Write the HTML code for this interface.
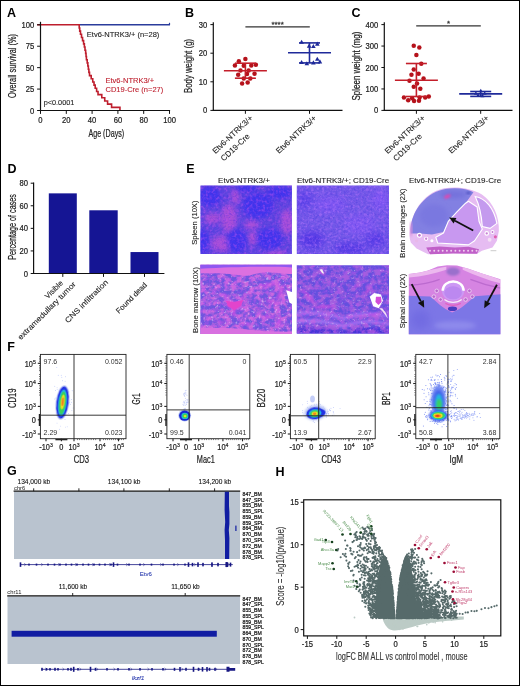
<!DOCTYPE html>
<html><head><meta charset="utf-8"><title>Figure</title>
<style>
html,body{margin:0;padding:0;background:#fff;}
body{width:520px;height:686px;overflow:hidden;position:relative;font-family:"Liberation Sans",sans-serif;}
svg{will-change:transform;position:absolute;left:0;top:0;display:block;font-family:"Liberation Sans",sans-serif;}
#frame{position:absolute;left:0;top:0;width:520px;height:686px;box-sizing:border-box;border-style:solid;border-color:#000;border-width:1px;pointer-events:none;}
</style></head><body>
<svg width="520" height="686" viewBox="0 0 520 686">
<defs>
<filter id="b2" x="-30%" y="-30%" width="160%" height="160%"><feGaussianBlur stdDeviation="2"/></filter>
<filter id="b3" x="-30%" y="-30%" width="160%" height="160%"><feGaussianBlur stdDeviation="3.5"/></filter>
<filter id="b1" x="-30%" y="-30%" width="160%" height="160%"><feGaussianBlur stdDeviation="0.8"/></filter>
<filter id="nzPink" x="0" y="0" width="100%" height="100%" color-interpolation-filters="sRGB"><feTurbulence type="fractalNoise" baseFrequency="0.32" numOctaves="2" seed="4" result="t"/><feColorMatrix in="t" type="matrix" values="0 0 0 0 0.72 0 0 0 0 0.32 0 0 0 0 0.94 3.2 0 0 0 -1.45" result="c"/><feComposite in="c" in2="SourceGraphic" operator="in"/></filter>
<filter id="nzPinkLo" x="0" y="0" width="100%" height="100%" color-interpolation-filters="sRGB"><feTurbulence type="fractalNoise" baseFrequency="0.16 0.2" numOctaves="3" seed="9" result="t"/><feColorMatrix in="t" type="matrix" values="0 0 0 0 0.84 0 0 0 0 0.42 0 0 0 0 0.88 3.6 0 0 0 -1.4" result="c"/><feComposite in="c" in2="SourceGraphic" operator="in"/></filter>
<filter id="nzBlue" x="0" y="0" width="100%" height="100%" color-interpolation-filters="sRGB"><feTurbulence type="fractalNoise" baseFrequency="0.45" numOctaves="2" seed="7" result="t"/><feColorMatrix in="t" type="matrix" values="0 0 0 0 0.24 0 0 0 0 0.16 0 0 0 0 0.86 3.0 0 0 0 -1.4" result="c"/><feComposite in="c" in2="SourceGraphic" operator="in"/></filter>
<filter id="nzWhite" x="0" y="0" width="100%" height="100%" color-interpolation-filters="sRGB"><feTurbulence type="fractalNoise" baseFrequency="0.36" numOctaves="2" seed="11" result="t"/><feColorMatrix in="t" type="matrix" values="0 0 0 0 0.93 0 0 0 0 0.86 0 0 0 0 0.99 4.5 0 0 0 -2.75" result="c"/><feComposite in="c" in2="SourceGraphic" operator="in"/></filter>
<filter id="nzLight" x="0" y="0" width="100%" height="100%" color-interpolation-filters="sRGB"><feTurbulence type="fractalNoise" baseFrequency="0.36" numOctaves="2" seed="15" result="t"/><feColorMatrix in="t" type="matrix" values="0 0 0 0 0.68 0 0 0 0 0.44 0 0 0 0 0.98 3.2 0 0 0 -1.4" result="c"/><feComposite in="c" in2="SourceGraphic" operator="in"/></filter>
<clipPath id="ce1"><rect x="200.5" y="185.4" width="91.4" height="68.5"/></clipPath>
<clipPath id="ce2"><rect x="296.8" y="185.4" width="92.2" height="68.7"/></clipPath>
<clipPath id="ce3"><rect x="200.4" y="264.8" width="91.6" height="69.2"/></clipPath>
<clipPath id="ce4"><rect x="296.8" y="265.2" width="92.2" height="68.2"/></clipPath>
<clipPath id="ce6"><path d="M408.8 274 L420 272.6 L428 270.6 L437.7 266.4 L447 265.3 L457 265.6 L468.5 268.7 L482 273.5 L500.4 279.3 L500.4 334.2 L408.8 334.2 Z"/></clipPath>
<filter id="fb1" x="-30%" y="-30%" width="160%" height="160%"><feGaussianBlur stdDeviation="0.6"/></filter>
<filter id="fb2" x="-30%" y="-30%" width="160%" height="160%"><feGaussianBlur stdDeviation="1.3"/></filter>
<clipPath id="cf0"><rect x="40.4" y="354.4" width="85.6" height="84.3"/></clipPath>
<clipPath id="cf1"><rect x="166.9" y="354.4" width="82.9" height="84.3"/></clipPath>
<clipPath id="cf2"><rect x="290.4" y="354.4" width="84.8" height="84.3"/></clipPath>
<clipPath id="cf3"><rect x="415.8" y="354.4" width="84" height="84.3"/></clipPath>
</defs>
<rect x="0" y="0" width="520" height="686" fill="#fff"/>
<line x1="79.2" y1="24.8" x2="169.5" y2="24.8" stroke="#2b3c9c" stroke-width="1.4" />
<line x1="169.5" y1="22.8" x2="169.5" y2="25.3" stroke="#2b3c9c" stroke-width="1.2" />
<path d="M37.1 24.8 L79.2 24.8 L79.2 27.97 L79.72 27.97 L79.72 31.15 L80.49 31.15 L80.49 34.32 L81.52 34.32 L81.52 37.5 L82.55 37.5 L82.55 40.67 L83.59 40.67 L83.59 43.84 L84.36 43.84 L84.36 47.02 L85 47.02 L85 50.19 L85.65 50.19 L85.65 53.37 L86.04 53.37 L86.04 56.54 L86.42 56.54 L86.42 59.71 L87.2 59.71 L87.2 62.89 L87.84 62.89 L87.84 66.06 L88.36 66.06 L88.36 69.24 L88.88 69.24 L88.88 72.41 L89.52 72.41 L89.52 75.59 L91.2 75.59 L91.2 78.76 L92.75 78.76 L92.75 81.93 L94.03 81.93 L94.03 85.11 L95.2 85.11 L95.2 88.28 L96.62 88.28 L96.62 91.46 L98.03 91.46 L98.03 94.63 L101.78 94.63 L101.78 97.8 L104.74 97.8 L104.74 100.98 L107.58 100.98 L107.58 104.15 L111.58 104.15 L111.58 107.33 L119.96 107.33 L119.96 110.5" fill="none" stroke="#be1e2d" stroke-width="1.6" stroke-linejoin="miter"/>
<line x1="40.5" y1="21.8" x2="40.5" y2="111.1" stroke="#111" stroke-width="1.2" />
<line x1="39.9" y1="110.5" x2="170.1" y2="110.5" stroke="#111" stroke-width="1.2" />
<line x1="37.1" y1="110.5" x2="40.5" y2="110.5" stroke="#111" stroke-width="1" />
<text font-size="8.5" text-anchor="end" fill="#222" transform="translate(34.2 113.55) scale(0.9 1)" stroke="#222" stroke-width="0.22">0</text>
<line x1="37.1" y1="89.08" x2="40.5" y2="89.08" stroke="#111" stroke-width="1" />
<text font-size="8.5" text-anchor="end" fill="#222" transform="translate(34.2 92.12) scale(0.9 1)" stroke="#222" stroke-width="0.22">25</text>
<line x1="37.1" y1="67.65" x2="40.5" y2="67.65" stroke="#111" stroke-width="1" />
<text font-size="8.5" text-anchor="end" fill="#222" transform="translate(34.2 70.7) scale(0.9 1)" stroke="#222" stroke-width="0.22">50</text>
<line x1="37.1" y1="46.22" x2="40.5" y2="46.22" stroke="#111" stroke-width="1" />
<text font-size="8.5" text-anchor="end" fill="#222" transform="translate(34.2 49.27) scale(0.9 1)" stroke="#222" stroke-width="0.22">75</text>
<line x1="37.1" y1="24.8" x2="40.5" y2="24.8" stroke="#111" stroke-width="1" />
<text font-size="8.5" text-anchor="end" fill="#222" transform="translate(34.2 27.85) scale(0.9 1)" stroke="#222" stroke-width="0.22">100</text>
<line x1="40.5" y1="110.5" x2="40.5" y2="113.9" stroke="#111" stroke-width="1" />
<text font-size="8.5" text-anchor="middle" fill="#222" transform="translate(40.5 123.2) scale(0.9 1)" stroke="#222" stroke-width="0.22">0</text>
<line x1="66.3" y1="110.5" x2="66.3" y2="113.9" stroke="#111" stroke-width="1" />
<text font-size="8.5" text-anchor="middle" fill="#222" transform="translate(66.3 123.2) scale(0.9 1)" stroke="#222" stroke-width="0.22">20</text>
<line x1="92.1" y1="110.5" x2="92.1" y2="113.9" stroke="#111" stroke-width="1" />
<text font-size="8.5" text-anchor="middle" fill="#222" transform="translate(92.1 123.2) scale(0.9 1)" stroke="#222" stroke-width="0.22">40</text>
<line x1="117.9" y1="110.5" x2="117.9" y2="113.9" stroke="#111" stroke-width="1" />
<text font-size="8.5" text-anchor="middle" fill="#222" transform="translate(117.9 123.2) scale(0.9 1)" stroke="#222" stroke-width="0.22">60</text>
<line x1="143.7" y1="110.5" x2="143.7" y2="113.9" stroke="#111" stroke-width="1" />
<text font-size="8.5" text-anchor="middle" fill="#222" transform="translate(143.7 123.2) scale(0.9 1)" stroke="#222" stroke-width="0.22">80</text>
<line x1="169.5" y1="110.5" x2="169.5" y2="113.9" stroke="#111" stroke-width="1" />
<text font-size="8.5" text-anchor="middle" fill="#222" transform="translate(169.5 123.2) scale(0.9 1)" stroke="#222" stroke-width="0.22">100</text>
<text font-size="10.4" text-anchor="middle" fill="#222" transform="translate(106.3 136.9) scale(0.69 1)" stroke="#222" stroke-width="0.22">Age (Days)</text>
<text font-size="10.4" text-anchor="middle" fill="#222" transform="translate(15.7 66) rotate(-90) scale(0.71 1)" stroke="#222" stroke-width="0.22">Overall survival (%)</text>
<text x="86.8" y="37.1" font-size="7.5" text-anchor="start" fill="#222" stroke="#222" stroke-width="0.1">Etv6-NTRK3/+ (n=28)</text>
<text x="105.5" y="83.3" font-size="7.5" text-anchor="start" fill="#be1e2d" stroke="#be1e2d" stroke-width="0.1">Etv6-NTRK3/+</text>
<text x="105.5" y="92.1" font-size="7.5" text-anchor="start" fill="#be1e2d" stroke="#be1e2d" stroke-width="0.1">CD19-Cre (n=27)</text>
<text x="43.7" y="105" font-size="7.3" text-anchor="start" fill="#222" stroke="#222" stroke-width="0.1">p&lt;0.0001</text>
<text x="7" y="17.3" font-size="12.5" text-anchor="start" fill="#000" font-weight="bold">A</text>
<circle cx="245.38" cy="58.94" r="2.25" fill="#b5121b" />
<circle cx="238.85" cy="61.23" r="2.25" fill="#b5121b" />
<circle cx="234.92" cy="65.48" r="2.25" fill="#b5121b" />
<circle cx="243.75" cy="65.81" r="2.25" fill="#b5121b" />
<circle cx="251.27" cy="65.48" r="2.25" fill="#b5121b" />
<circle cx="255.85" cy="64.83" r="2.25" fill="#b5121b" />
<circle cx="240.48" cy="70.38" r="2.25" fill="#b5121b" />
<circle cx="248.65" cy="70.38" r="2.25" fill="#b5121b" />
<circle cx="238.19" cy="74.63" r="2.25" fill="#b5121b" />
<circle cx="247.02" cy="73.98" r="2.25" fill="#b5121b" />
<circle cx="254.54" cy="73.65" r="2.25" fill="#b5121b" />
<circle cx="243.75" cy="78.56" r="2.25" fill="#b5121b" />
<circle cx="250.29" cy="78.56" r="2.25" fill="#b5121b" />
<circle cx="242.12" cy="83.46" r="2.25" fill="#b5121b" />
<circle cx="247.67" cy="82.48" r="2.25" fill="#b5121b" />
<path d="M301.62 39.64 L303.92 43.78 L299.32 43.78 Z" fill="#1f2a9a"/>
<path d="M309.13 43.57 L311.43 47.71 L306.83 47.71 Z" fill="#1f2a9a"/>
<path d="M317.31 41.6 L319.61 45.74 L315.01 45.74 Z" fill="#1f2a9a"/>
<path d="M313.38 43.89 L315.68 48.03 L311.08 48.03 Z" fill="#1f2a9a"/>
<path d="M301.62 59.91 L303.92 64.05 L299.32 64.05 Z" fill="#1f2a9a"/>
<path d="M306.85 61.22 L309.15 65.36 L304.55 65.36 Z" fill="#1f2a9a"/>
<path d="M313.38 60.24 L315.68 64.38 L311.08 64.38 Z" fill="#1f2a9a"/>
<path d="M317.31 56.64 L319.61 60.78 L315.01 60.78 Z" fill="#1f2a9a"/>
<path d="M319.92 59.26 L322.22 63.4 L317.62 63.4 Z" fill="#1f2a9a"/>
<line x1="223.9" y1="70.7" x2="266.9" y2="70.7" stroke="#c41e2a" stroke-width="1.6" />
<line x1="245.4" y1="63.2" x2="245.4" y2="78.2" stroke="#c41e2a" stroke-width="1.6" />
<line x1="234.9" y1="63.2" x2="255.9" y2="63.2" stroke="#c41e2a" stroke-width="1.6" />
<line x1="234.9" y1="78.2" x2="255.9" y2="78.2" stroke="#c41e2a" stroke-width="1.6" />
<line x1="288" y1="52.7" x2="331" y2="52.7" stroke="#1f2a9a" stroke-width="1.6" />
<line x1="309.5" y1="42.9" x2="309.5" y2="62.9" stroke="#1f2a9a" stroke-width="1.6" />
<line x1="299" y1="42.9" x2="320" y2="42.9" stroke="#1f2a9a" stroke-width="1.6" />
<line x1="299" y1="62.9" x2="320" y2="62.9" stroke="#1f2a9a" stroke-width="1.6" />
<line x1="245.4" y1="26.9" x2="309.8" y2="26.9" stroke="#333" stroke-width="1.2" />
<text font-size="7.5" text-anchor="middle" fill="#333" transform="translate(277.6 26.6) scale(1.05 1)" stroke="#333" stroke-width="0.25">****</text>
<line x1="213.3" y1="22.3" x2="213.3" y2="111" stroke="#111" stroke-width="1.2" />
<line x1="212.7" y1="110.4" x2="342.5" y2="110.4" stroke="#111" stroke-width="1.2" />
<line x1="210.4" y1="110.4" x2="213.3" y2="110.4" stroke="#111" stroke-width="1" />
<text font-size="8.5" text-anchor="end" fill="#222" transform="translate(207.3 113.45) scale(0.9 1)" stroke="#222" stroke-width="0.22">0</text>
<line x1="210.4" y1="81.8" x2="213.3" y2="81.8" stroke="#111" stroke-width="1" />
<text font-size="8.5" text-anchor="end" fill="#222" transform="translate(207.3 84.85) scale(0.9 1)" stroke="#222" stroke-width="0.22">10</text>
<line x1="210.4" y1="53.2" x2="213.3" y2="53.2" stroke="#111" stroke-width="1" />
<text font-size="8.5" text-anchor="end" fill="#222" transform="translate(207.3 56.25) scale(0.9 1)" stroke="#222" stroke-width="0.22">20</text>
<line x1="210.4" y1="24.6" x2="213.3" y2="24.6" stroke="#111" stroke-width="1" />
<text font-size="8.5" text-anchor="end" fill="#222" transform="translate(207.3 27.65) scale(0.9 1)" stroke="#222" stroke-width="0.22">30</text>
<line x1="245.4" y1="110.4" x2="245.4" y2="113.8" stroke="#111" stroke-width="1" />
<line x1="309.5" y1="110.4" x2="309.5" y2="113.8" stroke="#111" stroke-width="1" />
<text font-size="10.4" text-anchor="middle" fill="#222" transform="translate(192.4 65.9) rotate(-90) scale(0.75 1)" stroke="#222" stroke-width="0.22">Body weight (g)</text>
<text x="253.3" y="118.8" font-size="8" text-anchor="end" fill="#222" stroke="#222" stroke-width="0.1" transform="rotate(-43 253.3 118.8)">Etv6-NTRK3/+</text>
<text x="250.2" y="137" font-size="8" text-anchor="end" fill="#222" stroke="#222" stroke-width="0.1" transform="rotate(-43 250.2 137)">CD19-Cre</text>
<text x="317" y="118.7" font-size="8" text-anchor="end" fill="#222" stroke="#222" stroke-width="0.1" transform="rotate(-43 317 118.7)">Etv6-NTRK3/+</text>
<text x="185" y="16.5" font-size="12.5" text-anchor="start" fill="#000" font-weight="bold">B</text>
<circle cx="413.75" cy="45.87" r="2.25" fill="#b5121b" />
<circle cx="419.31" cy="47.5" r="2.25" fill="#b5121b" />
<circle cx="416.37" cy="55.02" r="2.25" fill="#b5121b" />
<circle cx="421.27" cy="63.85" r="2.25" fill="#b5121b" />
<circle cx="413.75" cy="69.4" r="2.25" fill="#b5121b" />
<circle cx="411.46" cy="74.63" r="2.25" fill="#b5121b" />
<circle cx="418.65" cy="73.65" r="2.25" fill="#b5121b" />
<circle cx="423.56" cy="78.56" r="2.25" fill="#b5121b" />
<circle cx="409.5" cy="80.85" r="2.25" fill="#b5121b" />
<circle cx="417.02" cy="83.46" r="2.25" fill="#b5121b" />
<circle cx="413.75" cy="86.73" r="2.25" fill="#b5121b" />
<circle cx="420.29" cy="88.69" r="2.25" fill="#b5121b" />
<circle cx="403.94" cy="97.52" r="2.25" fill="#b5121b" />
<circle cx="412.12" cy="98.17" r="2.25" fill="#b5121b" />
<circle cx="419.63" cy="97.52" r="2.25" fill="#b5121b" />
<circle cx="425.19" cy="97.52" r="2.25" fill="#b5121b" />
<circle cx="428.79" cy="96.54" r="2.25" fill="#b5121b" />
<circle cx="408.19" cy="100.13" r="2.25" fill="#b5121b" />
<circle cx="414.08" cy="101.12" r="2.25" fill="#b5121b" />
<circle cx="418.98" cy="100.79" r="2.25" fill="#b5121b" />
<path d="M475.87 91.27 L477.87 94.87 L473.87 94.87 Z" fill="#1f2a9a"/>
<path d="M480.77 88.65 L482.77 92.25 L478.77 92.25 Z" fill="#1f2a9a"/>
<path d="M484.69 91.27 L486.69 94.87 L482.69 94.87 Z" fill="#1f2a9a"/>
<path d="M478.15 93.23 L480.15 96.83 L476.15 96.83 Z" fill="#1f2a9a"/>
<path d="M482.4 93.56 L484.4 97.16 L480.4 97.16 Z" fill="#1f2a9a"/>
<line x1="394.9" y1="80.2" x2="437.9" y2="80.2" stroke="#c41e2a" stroke-width="1.6" />
<line x1="416.4" y1="63.5" x2="416.4" y2="96.5" stroke="#c41e2a" stroke-width="1.6" />
<line x1="405.9" y1="63.5" x2="426.9" y2="63.5" stroke="#c41e2a" stroke-width="1.6" />
<line x1="405.9" y1="96.5" x2="426.9" y2="96.5" stroke="#c41e2a" stroke-width="1.6" />
<line x1="459.2" y1="93.9" x2="502.2" y2="93.9" stroke="#1f2a9a" stroke-width="1.6" />
<line x1="480.7" y1="91.5" x2="480.7" y2="96.4" stroke="#1f2a9a" stroke-width="1.6" />
<line x1="470.2" y1="91.5" x2="491.2" y2="91.5" stroke="#1f2a9a" stroke-width="1.6" />
<line x1="470.2" y1="96.4" x2="491.2" y2="96.4" stroke="#1f2a9a" stroke-width="1.6" />
<line x1="416.2" y1="25.8" x2="480.8" y2="25.8" stroke="#333" stroke-width="1.2" />
<text font-size="7.5" text-anchor="middle" fill="#333" transform="translate(448.5 25.8) scale(1.05 1)" stroke="#333" stroke-width="0.25">*</text>
<line x1="384.3" y1="22.3" x2="384.3" y2="111" stroke="#111" stroke-width="1.2" />
<line x1="383.7" y1="110.4" x2="512.5" y2="110.4" stroke="#111" stroke-width="1.2" />
<line x1="381.4" y1="110.4" x2="384.3" y2="110.4" stroke="#111" stroke-width="1" />
<text font-size="8.5" text-anchor="end" fill="#222" transform="translate(378.3 113.45) scale(0.9 1)" stroke="#222" stroke-width="0.22">0</text>
<line x1="381.4" y1="88.95" x2="384.3" y2="88.95" stroke="#111" stroke-width="1" />
<text font-size="8.5" text-anchor="end" fill="#222" transform="translate(378.3 92) scale(0.9 1)" stroke="#222" stroke-width="0.22">100</text>
<line x1="381.4" y1="67.5" x2="384.3" y2="67.5" stroke="#111" stroke-width="1" />
<text font-size="8.5" text-anchor="end" fill="#222" transform="translate(378.3 70.55) scale(0.9 1)" stroke="#222" stroke-width="0.22">200</text>
<line x1="381.4" y1="46.05" x2="384.3" y2="46.05" stroke="#111" stroke-width="1" />
<text font-size="8.5" text-anchor="end" fill="#222" transform="translate(378.3 49.1) scale(0.9 1)" stroke="#222" stroke-width="0.22">300</text>
<line x1="381.4" y1="24.6" x2="384.3" y2="24.6" stroke="#111" stroke-width="1" />
<text font-size="8.5" text-anchor="end" fill="#222" transform="translate(378.3 27.65) scale(0.9 1)" stroke="#222" stroke-width="0.22">400</text>
<line x1="416.4" y1="110.4" x2="416.4" y2="113.8" stroke="#111" stroke-width="1" />
<line x1="480.7" y1="110.4" x2="480.7" y2="113.8" stroke="#111" stroke-width="1" />
<text font-size="10.4" text-anchor="middle" fill="#222" transform="translate(359.7 66.1) rotate(-90) scale(0.77 1)" stroke="#222" stroke-width="0.22">Spleen weight (mg)</text>
<text x="425.6" y="118.8" font-size="8" text-anchor="end" fill="#222" stroke="#222" stroke-width="0.1" transform="rotate(-43 425.6 118.8)">Etv6-NTRK3/+</text>
<text x="422.5" y="137" font-size="8" text-anchor="end" fill="#222" stroke="#222" stroke-width="0.1" transform="rotate(-43 422.5 137)">CD19-Cre</text>
<text x="489.5" y="118.7" font-size="8" text-anchor="end" fill="#222" stroke="#222" stroke-width="0.1" transform="rotate(-43 489.5 118.7)">Etv6-NTRK3/+</text>
<text x="351.5" y="17.3" font-size="12.5" text-anchor="start" fill="#000" font-weight="bold">C</text>
<rect x="48.8" y="193.36" width="28" height="80.14" fill="#151594" />
<rect x="89.3" y="210.29" width="28.4" height="63.21" fill="#151594" />
<rect x="130.5" y="252.05" width="28" height="21.45" fill="#151594" />
<line x1="33.6" y1="182.6" x2="33.6" y2="274.1" stroke="#111" stroke-width="1.2" />
<line x1="33" y1="273.5" x2="164.4" y2="273.5" stroke="#111" stroke-width="1.2" />
<line x1="30.7" y1="273.5" x2="33.6" y2="273.5" stroke="#111" stroke-width="1" />
<text font-size="8.5" text-anchor="end" fill="#222" transform="translate(28 276.55) scale(0.9 1)" stroke="#222" stroke-width="0.22">0</text>
<line x1="30.7" y1="250.93" x2="33.6" y2="250.93" stroke="#111" stroke-width="1" />
<text font-size="8.5" text-anchor="end" fill="#222" transform="translate(28 253.98) scale(0.9 1)" stroke="#222" stroke-width="0.22">20</text>
<line x1="30.7" y1="228.35" x2="33.6" y2="228.35" stroke="#111" stroke-width="1" />
<text font-size="8.5" text-anchor="end" fill="#222" transform="translate(28 231.4) scale(0.9 1)" stroke="#222" stroke-width="0.22">40</text>
<line x1="30.7" y1="205.77" x2="33.6" y2="205.77" stroke="#111" stroke-width="1" />
<text font-size="8.5" text-anchor="end" fill="#222" transform="translate(28 208.82) scale(0.9 1)" stroke="#222" stroke-width="0.22">60</text>
<line x1="30.7" y1="183.2" x2="33.6" y2="183.2" stroke="#111" stroke-width="1" />
<text font-size="8.5" text-anchor="end" fill="#222" transform="translate(28 186.25) scale(0.9 1)" stroke="#222" stroke-width="0.22">80</text>
<line x1="62.8" y1="273.5" x2="62.8" y2="276.9" stroke="#111" stroke-width="1" />
<line x1="103.5" y1="273.5" x2="103.5" y2="276.9" stroke="#111" stroke-width="1" />
<line x1="144.5" y1="273.5" x2="144.5" y2="276.9" stroke="#111" stroke-width="1" />
<text font-size="10.6" text-anchor="middle" fill="#222" transform="translate(15.7 226.9) rotate(-90) scale(0.68 1)" stroke="#222" stroke-width="0.22">Percentage of cases</text>
<text x="63.5" y="283.5" font-size="7.6" text-anchor="end" fill="#222" stroke="#222" stroke-width="0.1" transform="rotate(-45 63.5 283.5)">Visible</text>
<text x="76.3" y="284.8" font-size="7.6" text-anchor="end" fill="#222" stroke="#222" stroke-width="0.1" transform="rotate(-45 76.3 284.8)" textLength="78.5" lengthAdjust="spacingAndGlyphs">extramedullary tumor</text>
<text x="108.6" y="282.8" font-size="7.6" text-anchor="end" fill="#222" stroke="#222" stroke-width="0.1" transform="rotate(-45 108.6 282.8)" textLength="57.5" lengthAdjust="spacingAndGlyphs">CNS infiltration</text>
<text x="147.6" y="285.4" font-size="7.6" text-anchor="end" fill="#222" stroke="#222" stroke-width="0.1" transform="rotate(-45 147.6 285.4)">Found dead</text>
<text x="7.5" y="172.5" font-size="12.5" text-anchor="start" fill="#000" font-weight="bold">D</text>
<g clip-path="url(#ce1)">
<rect x="200" y="185" width="93" height="70" fill="#6046e0" />
<ellipse cx="228.92" cy="218.35" rx="8.13" ry="14.46" fill="#a850d8" filter="url(#b2)"/>
<ellipse cx="221.69" cy="243.65" rx="10.85" ry="8.13" fill="#a850d8" filter="url(#b2)"/>
<ellipse cx="212.65" cy="218.35" rx="8.13" ry="5.42" fill="#a850d8" filter="url(#b2)"/>
<ellipse cx="251.52" cy="224.67" rx="7.23" ry="4.52" fill="#a850d8" filter="url(#b2)"/>
<ellipse cx="286.77" cy="221.96" rx="6.33" ry="12.65" fill="#a850d8" filter="url(#b2)"/>
<ellipse cx="235.25" cy="196.65" rx="3.98" ry="8.13" fill="#a850d8" filter="url(#b2)"/>
<ellipse cx="275.92" cy="253.6" rx="10.85" ry="3.25" fill="#a850d8" filter="url(#b2)"/>
<ellipse cx="252.42" cy="238.23" rx="4.52" ry="7.23" fill="#a850d8" filter="url(#b2)"/>
<ellipse cx="209.94" cy="196.65" rx="10.85" ry="9.94" fill="#4234ee" filter="url(#b2)"/>
<ellipse cx="257.85" cy="205.69" rx="15.37" ry="12.65" fill="#4234ee" filter="url(#b2)"/>
<ellipse cx="237.06" cy="240.94" rx="9.94" ry="11.75" fill="#4234ee" filter="url(#b2)"/>
<ellipse cx="269.6" cy="239.13" rx="12.65" ry="10.85" fill="#4234ee" filter="url(#b2)"/>
<ellipse cx="202.71" cy="241.85" rx="6.33" ry="11.75" fill="#4234ee" filter="url(#b2)"/>
<ellipse cx="279.54" cy="193.04" rx="12.65" ry="6.33" fill="#4234ee" filter="url(#b2)"/>
<ellipse cx="247" cy="188.52" rx="10.85" ry="3.98" fill="#4234ee" filter="url(#b2)"/>
<rect x="200" y="185" width="93" height="70" fill="#fff" filter="url(#nzPink)" opacity="0.5"/>
<rect x="200" y="185" width="93" height="70" fill="#fff" filter="url(#nzBlue)" opacity="0.35"/>
</g>
<g clip-path="url(#ce2)">
<rect x="296" y="185" width="94" height="70" fill="#7258e8" />
<ellipse cx="312" cy="240" rx="12" ry="9" fill="#5438e6" filter="url(#b3)"/>
<ellipse cx="350" cy="248" rx="16" ry="6" fill="#563ae6" filter="url(#b3)"/>
<ellipse cx="380" cy="200" rx="8" ry="10" fill="#8258f4" filter="url(#b3)"/>
<ellipse cx="330" cy="205" rx="16" ry="8" fill="#7e56f2" filter="url(#b3)"/>
<ellipse cx="360" cy="225" rx="16" ry="10" fill="#8058f2" filter="url(#b3)"/>
<ellipse cx="305" cy="200" rx="8" ry="10" fill="#6044ea" filter="url(#b3)"/>
<ellipse cx="375" cy="240" rx="10" ry="8" fill="#5a3ee8" filter="url(#b3)"/>
<rect x="296" y="185" width="94" height="70" fill="#fff" filter="url(#nzLight)" opacity="0.55"/>
<rect x="296" y="185" width="94" height="70" fill="#fff" filter="url(#nzBlue)" opacity="0.3"/>
</g>
<g clip-path="url(#ce3)">
<rect x="200" y="264" width="93" height="71" fill="#6e56de" />
<ellipse cx="234.75" cy="305.35" rx="7.54" ry="4.15" fill="#c050e4" filter="url(#b1)"/>
<ellipse cx="233.81" cy="311.94" rx="1.88" ry="4.71" fill="#c050e4" filter="url(#b1)" transform="rotate(10 233.81 311.94)"/>
<ellipse cx="226.27" cy="297.81" rx="1.51" ry="5.65" fill="#c050e4" filter="url(#b1)" transform="rotate(-30 226.27 297.81)"/>
<ellipse cx="242.29" cy="298.75" rx="1.51" ry="4.71" fill="#c050e4" filter="url(#b1)" transform="rotate(35 242.29 298.75)"/>
<ellipse cx="269.62" cy="284.62" rx="11.31" ry="1.88" fill="#c050e4" filter="url(#b1)" transform="rotate(-8 269.62 284.62)"/>
<ellipse cx="280.92" cy="292.15" rx="2.26" ry="8.48" fill="#c050e4" filter="url(#b1)" transform="rotate(20 280.92 292.15)"/>
<ellipse cx="273.38" cy="302.52" rx="8.48" ry="1.7" fill="#c050e4" filter="url(#b1)" transform="rotate(15 273.38 302.52)"/>
<ellipse cx="267.73" cy="316.65" rx="8.48" ry="1.7" fill="#c050e4" filter="url(#b1)" transform="rotate(-10 267.73 316.65)"/>
<ellipse cx="279.04" cy="322.31" rx="2.26" ry="6.6" fill="#c050e4" filter="url(#b1)" transform="rotate(15 279.04 322.31)"/>
<ellipse cx="214.96" cy="290.27" rx="1.13" ry="4.71" fill="#c050e4" filter="url(#b1)" transform="rotate(25 214.96 290.27)"/>
<ellipse cx="209.31" cy="318.54" rx="4.71" ry="1.32" fill="#c050e4" filter="url(#b1)" transform="rotate(-20 209.31 318.54)"/>
<ellipse cx="250.77" cy="292.15" rx="1.13" ry="4.15" fill="#c050e4" filter="url(#b1)"/>
<ellipse cx="258.31" cy="309.12" rx="4.15" ry="1.13" fill="#c050e4" filter="url(#b1)" transform="rotate(30 258.31 309.12)"/>
<ellipse cx="220.62" cy="322.31" rx="5.65" ry="1.13" fill="#c050e4" filter="url(#b1)" transform="rotate(5 220.62 322.31)"/>
<ellipse cx="245.12" cy="324.19" rx="6.6" ry="1.13" fill="#c050e4" filter="url(#b1)"/>
<rect x="200" y="264" width="93" height="71" fill="#fff" filter="url(#nzPinkLo)" opacity="0.9"/>
<rect x="200" y="264" width="93" height="71" fill="#fff" filter="url(#nzPink)" opacity="0.55"/>
<rect x="200" y="264" width="93" height="71" fill="#fff" filter="url(#nzWhite)" opacity="0.5"/>
<path d="M198 262 L296 262 L296 273.68 C284.69 275.19 273.38 271.42 262.08 272.55 C254.54 273.31 248.88 276.7 242.29 275.57 C231.92 273.68 216.85 272.37 198 273.68 Z" fill="#dc70e0"/>
<path d="M198 264.64 L296 264.64 L296 267.65 C273.38 266.15 245.12 266.52 198 268.78 Z" fill="#9058f0"/>
<path d="M198 337.38 L296 337.38 L296 332.11 C280.92 330.98 269.62 332.11 254.54 330.22 C239.46 327.96 220.62 327.21 198 327.96 Z" fill="#d870e0"/>
<path d="M225.89 300.63 L233.81 301.95 L243.23 300.07 L240.97 305.72 L236.63 308.74 L234.18 310.62 L231.55 308.36 L227.78 306.29 Z" fill="#e244cc"/>
<path d="M286.2 290.27 L296 293.1 L296 306.29 L289.4 302.52 Z" fill="#fff"/>
</g>
<g clip-path="url(#ce4)">
<rect x="296" y="265" width="94" height="69" fill="#6450de" />
<path d="M295.88 311.38 C310.96 310.06 327.92 311.38 343.38 316.65 C356.19 311.38 373.15 310.62 390.12 315.71 L390.12 318.54 C373.15 314.39 356.19 315.15 343.38 320.42 C327.92 315.15 310.96 313.83 295.88 315.71 Z" fill="#9a6cf0" filter="url(#b1)"/>
<path d="M295.88 319.48 C310.96 318.16 327.92 319.48 343.38 324.57 C356.19 319.48 373.15 318.54 390.12 323.25 L390.12 325.7 C373.15 321.93 356.19 322.68 343.38 327.96 C327.92 322.68 310.96 321.37 295.88 323.25 Z" fill="#a074f2" filter="url(#b1)"/>
<path d="M295.88 327.96 C310.96 326.08 327.92 327.02 343.38 331.35 C356.19 327.02 373.15 326.45 390.12 329.85 L390.12 337.38 L295.88 337.38 Z" fill="#4634d8" filter="url(#b1)"/>
<ellipse cx="309.08" cy="296.87" rx="9.42" ry="1.7" fill="#c44ee0" filter="url(#b1)" transform="rotate(52 309.08 296.87)"/>
<ellipse cx="325.1" cy="306.85" rx="10.37" ry="1.7" fill="#c44ee0" filter="url(#b1)" transform="rotate(-3 325.1 306.85)"/>
<ellipse cx="301.54" cy="290.27" rx="2.26" ry="1.13" fill="#c44ee0" filter="url(#b1)" transform="rotate(40 301.54 290.27)"/>
<ellipse cx="368.44" cy="290.27" rx="4.71" ry="1.32" fill="#c44ee0" filter="url(#b1)" transform="rotate(-45 368.44 290.27)"/>
<ellipse cx="356.19" cy="286.5" rx="3.77" ry="0.94" fill="#c44ee0" filter="url(#b1)" transform="rotate(-30 356.19 286.5)"/>
<ellipse cx="322.27" cy="273.31" rx="3.77" ry="0.94" fill="#c44ee0" filter="url(#b1)" transform="rotate(40 322.27 273.31)"/>
<ellipse cx="373.15" cy="314.77" rx="5.65" ry="1.13" fill="#c44ee0" filter="url(#b1)" transform="rotate(10 373.15 314.77)"/>
<rect x="296" y="265" width="94" height="69" fill="#fff" filter="url(#nzPinkLo)" opacity="0.55"/>
<rect x="296" y="265" width="94" height="69" fill="#fff" filter="url(#nzPink)" opacity="0.45"/>
<rect x="296" y="265" width="94" height="69" fill="#fff" filter="url(#nzWhite)" opacity="0.4"/>
<path d="M369.76 296.87 L374.1 293.1 L381.07 294.42 L382.95 300.63 L378.81 308.17 L373.15 306.29 Z" fill="#fff"/>
<path d="M375.98 296.87 L381.07 296.87 L381.63 301.95 L378.43 304.97 L375.42 301.95 Z" fill="#d24cd8"/>
<path d="M379.18 308.17 L382.58 311.38 L387.85 318.54 L385.97 312.88 L382.2 308.17 Z" fill="#f0daf4"/>
<path d="M319.44 269.54 L322.27 269.16 L324.15 273.68 L322.27 273.31 Z" fill="#f4eaf8"/>
</g>
<path d="M409.81 238.77 C408.85 221.46 416.54 200.31 435.77 191.08 C449.23 185.31 468.46 186.85 481.92 194.54 C493.46 202.23 499.62 217.62 498.85 231.08 L496.92 240.69 L492.5 247.42 L481.92 250.69 L477.12 253.77 L453.08 253.19 L428.08 254.15 L416.54 248.38 L410.77 242.62 Z" fill="#e6bcf2"/>
<path d="M410.77 233.38 C409.62 219.54 417.31 201.08 436.15 191.85 C449.23 186.27 465 187.62 473.46 192.23 L466.15 202.23 L456.92 211.85 L448.27 221.46 L443.46 232.04 L431.92 234.54 L420.38 233.38 Z" fill="#8280e2"/>
<ellipse cx="433.85" cy="215.69" rx="14.42" ry="11.54" fill="#7a78e0" filter="url(#b2)"/>
<ellipse cx="453.08" cy="194.54" rx="13.46" ry="3.85" fill="#7472dc" filter="url(#b2)"/>
<rect x="405" y="183" width="70" height="55" fill="#fff" filter="url(#nzLight)" opacity="0.0"/>
<path d="M468.46 201.27 L477.12 207.04 L479.04 221.46 L482.31 229.15 L474.62 240.69 L468.46 244.92 L437.69 243 L435.77 237.23 L443.46 233 L448.27 221.46 L456.92 211.85 L465.58 203.19 Z" fill="#c898f0" stroke="#fff" stroke-width="1.1" stroke-linejoin="round"/>
<path d="M475.19 196.46 C485.77 198.38 493.85 208 496.92 223.38 L490 228.38 L482.31 226.46 C481.54 215.69 480 206.08 475.19 196.46 Z" fill="#c49aee" stroke="#fff" stroke-width="1.1"/>
<circle cx="419.42" cy="235.31" r="2.5" fill="#fff"/>
<circle cx="419.42" cy="235.31" r="1.35" fill="#c078d0"/>
<circle cx="426.15" cy="238.77" r="2.12" fill="#fff"/>
<circle cx="426.15" cy="238.77" r="1.15" fill="#c880d4"/>
<circle cx="431.92" cy="240.69" r="1.54" fill="#fff"/>
<circle cx="416.54" cy="240.69" r="1.54" fill="#e8b8e8"/>
<circle cx="486.73" cy="233.38" r="2.31" fill="#fff"/>
<circle cx="486.73" cy="233.38" r="1.15" fill="#c880d4"/>
<circle cx="492.5" cy="232.04" r="1.92" fill="#fff"/>
<circle cx="492.5" cy="232.04" r="0.96" fill="#c078d0"/>
<circle cx="489.62" cy="239.73" r="1.92" fill="#f4e0f4"/>
<circle cx="495.38" cy="236.85" r="1.54" fill="#e060b0"/>
<path d="M426.15 247.42 L439.62 246.46 L455 247.42 L468.46 246.85 L479.04 249.35 L477.12 253.77 L453.08 253.38 L430 254.15 Z" fill="#c060c8" />
<circle cx="430" cy="250.69" r="0.96" fill="#f0d0f0"/>
<circle cx="434.23" cy="250.69" r="0.96" fill="#f0d0f0"/>
<circle cx="438.46" cy="250.69" r="0.96" fill="#f0d0f0"/>
<circle cx="442.69" cy="250.69" r="0.96" fill="#f0d0f0"/>
<circle cx="446.92" cy="250.69" r="0.96" fill="#f0d0f0"/>
<circle cx="451.15" cy="250.69" r="0.96" fill="#f0d0f0"/>
<circle cx="455.38" cy="250.69" r="0.96" fill="#f0d0f0"/>
<circle cx="459.62" cy="250.69" r="0.96" fill="#f0d0f0"/>
<circle cx="463.85" cy="250.69" r="0.96" fill="#f0d0f0"/>
<circle cx="468.08" cy="250.69" r="0.96" fill="#f0d0f0"/>
<circle cx="472.31" cy="250.69" r="0.96" fill="#f0d0f0"/>
<circle cx="476.54" cy="250.69" r="0.96" fill="#f0d0f0"/>
<ellipse cx="447.31" cy="196.46" rx="3.46" ry="1.73" fill="#e048b0" filter="url(#b1)" transform="rotate(-25 447.31 196.46)"/>
<ellipse cx="468.46" cy="193" rx="2.31" ry="1.15" fill="#4a50c0" filter="url(#b1)"/>
<ellipse cx="411.15" cy="229.15" rx="1.15" ry="7.69" fill="#d890dc" filter="url(#b1)"/>
<line x1="490.58" y1="250.69" x2="496.35" y2="250.69" stroke="#999" stroke-width="0.5" />
<line x1="473.2" y1="230.5" x2="455.01" y2="220.72" stroke="#111" stroke-width="1.8" /><path d="M449.2 217.6 L456.45 218.05 L453.58 223.4 Z" fill="#111"/>
<g clip-path="url(#ce6)">
<rect x="408" y="264" width="94" height="72" fill="#d684e2" />
<path d="M408.85 277.38 C422.31 276.42 433.85 273.54 446.35 269.69 L446.35 266.81 C433.85 268.73 422.31 272.58 408.85 273.92 Z" fill="#ecb8ee"/>
<path d="M500.19 283.15 C487.69 280.27 476.15 275.46 462.69 269.69 L462.69 266.81 C476.15 270.65 487.69 275.46 500.19 279.69 Z" fill="#ecb8ee"/>
<path d="M408.85 285.08 C420.38 284.69 430 283.15 439.62 279.31" stroke="#b060c8" stroke-width="1.4" fill="none" opacity="0.7"/>
<path d="M500.19 287.96 C489.62 286.04 480 283.15 470.38 279.31" stroke="#b060c8" stroke-width="1.4" fill="none" opacity="0.7"/>
<ellipse cx="453.08" cy="271.62" rx="6.73" ry="4.23" fill="#9a70cc" filter="url(#b1)"/>
<path d="M407.88 295.85 L430 296.62 C436.73 301.42 442.5 309.12 452.12 312.38 C461.73 309.12 468.46 301.42 475.19 296.23 L501.15 294.31 L501.15 335.08 L407.88 335.08 Z" fill="#7c76e6"/>
<ellipse cx="455" cy="325.46" rx="21.15" ry="4.23" fill="#8e8aec" filter="url(#b2)"/>
<ellipse cx="420.38" cy="319.69" rx="9.62" ry="9.62" fill="#726ce2" filter="url(#b3)"/>
<ellipse cx="453.08" cy="290.85" rx="11.15" ry="10" fill="#cc98f4"/>
<path d="M442.69 290.85 C442.69 278.35 463.65 278.35 463.65 290.85" stroke="#fff" stroke-width="2.4" fill="none"/>
<ellipse cx="453.08" cy="292.77" rx="8.85" ry="6.54" fill="#bc88f0"/>
<path d="M444.42 299.5 C449.23 303.35 456.92 303.35 461.73 299.5" stroke="#f4e8f8" stroke-width="1.3" fill="none"/>
<path d="M445.38 303.35 C450.19 305.85 455.96 305.85 460.77 303.35" stroke="#e060c0" stroke-width="1.2" fill="none"/>
<ellipse cx="452.5" cy="308.73" rx="4.62" ry="2.31" fill="#4a3cc0"/>
<circle cx="436.73" cy="290.85" r="1.8" fill="#b868cc" stroke="#f4e4f6" stroke-width="0.7"/>
<circle cx="469.42" cy="290.85" r="1.8" fill="#b868cc" stroke="#f4e4f6" stroke-width="0.7"/>
<circle cx="440.58" cy="299.5" r="1.8" fill="#b868cc" stroke="#f4e4f6" stroke-width="0.7"/>
<circle cx="465.58" cy="299.5" r="1.8" fill="#b868cc" stroke="#f4e4f6" stroke-width="0.7"/>
<circle cx="433.85" cy="296.62" r="1.8" fill="#b868cc" stroke="#f4e4f6" stroke-width="0.7"/>
<circle cx="472.31" cy="296.62" r="1.8" fill="#b868cc" stroke="#f4e4f6" stroke-width="0.7"/>
</g>
<line x1="411.7" y1="284.1" x2="420.84" y2="301.43" stroke="#111" stroke-width="1.8" /><path d="M424.2 307.8 L417.91 302.98 L423.77 299.89 Z" fill="#111"/>
<line x1="496.9" y1="284.7" x2="487.62" y2="301.87" stroke="#111" stroke-width="1.8" /><path d="M484.2 308.2 L484.71 300.29 L490.54 303.44 Z" fill="#111"/>
<text x="244" y="182.7" font-size="8" text-anchor="middle" fill="#222" stroke="#222" stroke-width="0.1">Etv6-NTRK3/+</text>
<text x="343" y="182.7" font-size="8" text-anchor="middle" fill="#222" stroke="#222" stroke-width="0.1">Etv6-NTRK3/+; CD19-Cre</text>
<text x="455" y="182.7" font-size="8" text-anchor="middle" fill="#222" stroke="#222" stroke-width="0.1">Etv6-NTRK3/+; CD19-Cre</text>
<text x="197.5" y="222.7" font-size="7.6" text-anchor="middle" fill="#222" stroke="#222" stroke-width="0.1" transform="rotate(-90 197.5 222.7)">Spleen (10X)</text>
<text x="197.5" y="300" font-size="7.6" text-anchor="middle" fill="#222" stroke="#222" stroke-width="0.1" transform="rotate(-90 197.5 300)">Bone marrow (10X)</text>
<text x="405" y="223" font-size="7.6" text-anchor="middle" fill="#222" stroke="#222" stroke-width="0.1" transform="rotate(-90 405 223)">Brain meninges (2X)</text>
<text x="404.5" y="301" font-size="7.6" text-anchor="middle" fill="#222" stroke="#222" stroke-width="0.1" transform="rotate(-90 404.5 301)">Spinal cord (2X)</text>
<text x="186.3" y="173" font-size="12.5" text-anchor="start" fill="#000" font-weight="bold">E</text>
<g clip-path="url(#cf0)"><g fill="#7088f0" opacity="0.6"><circle cx="57.2" cy="389.37" r="0.45"/><circle cx="65.51" cy="376.77" r="0.45"/><circle cx="61.85" cy="377.18" r="0.45"/><circle cx="67.45" cy="404.23" r="0.45"/><circle cx="68.6" cy="396.45" r="0.45"/><circle cx="64.29" cy="398.86" r="0.45"/><circle cx="59.18" cy="403.6" r="0.45"/><circle cx="56.84" cy="398.1" r="0.45"/><circle cx="65.63" cy="402.63" r="0.45"/><circle cx="60.65" cy="426.08" r="0.45"/><circle cx="62.76" cy="395.54" r="0.45"/><circle cx="63.22" cy="396.25" r="0.45"/><circle cx="60.77" cy="398.15" r="0.45"/><circle cx="71.61" cy="402.25" r="0.45"/><circle cx="63.29" cy="409.42" r="0.45"/><circle cx="71.58" cy="399.54" r="0.45"/><circle cx="59.69" cy="429.22" r="0.45"/><circle cx="55.93" cy="397.96" r="0.45"/><circle cx="65.5" cy="427.12" r="0.45"/><circle cx="58.23" cy="375.29" r="0.45"/><circle cx="65.48" cy="396.26" r="0.45"/><circle cx="60.76" cy="407.07" r="0.45"/><circle cx="63.51" cy="405.2" r="0.45"/><circle cx="60.56" cy="416.18" r="0.45"/><circle cx="69.27" cy="402.35" r="0.45"/><circle cx="60.47" cy="410.07" r="0.45"/><circle cx="64.65" cy="390.56" r="0.45"/><circle cx="60.43" cy="413.54" r="0.45"/><circle cx="62.07" cy="398.38" r="0.45"/><circle cx="63.46" cy="401.63" r="0.45"/><circle cx="62.49" cy="380.76" r="0.45"/><circle cx="70.37" cy="404.19" r="0.45"/><circle cx="58.56" cy="412.77" r="0.45"/><circle cx="63.89" cy="402.19" r="0.45"/><circle cx="67.22" cy="426.87" r="0.45"/><circle cx="64.99" cy="419.44" r="0.45"/><circle cx="72.21" cy="390.77" r="0.45"/><circle cx="60.15" cy="410.54" r="0.45"/><circle cx="54.81" cy="399.06" r="0.45"/><circle cx="68.32" cy="413.48" r="0.45"/><circle cx="65.11" cy="381.15" r="0.45"/><circle cx="73.08" cy="408.06" r="0.45"/><circle cx="65.95" cy="407.44" r="0.45"/><circle cx="54.78" cy="386.22" r="0.45"/><circle cx="57.03" cy="423.1" r="0.45"/><circle cx="58.76" cy="399.34" r="0.45"/><circle cx="61.35" cy="408.28" r="0.45"/><circle cx="64.75" cy="404.95" r="0.45"/><circle cx="56.82" cy="367.47" r="0.45"/><circle cx="63.25" cy="404.95" r="0.45"/><circle cx="68.04" cy="400.87" r="0.45"/><circle cx="59.75" cy="406.51" r="0.45"/><circle cx="55.51" cy="390.54" r="0.45"/><circle cx="57.97" cy="405.17" r="0.45"/><circle cx="71.91" cy="410.4" r="0.45"/><circle cx="67.64" cy="404.62" r="0.45"/><circle cx="63.76" cy="397.06" r="0.45"/><circle cx="61.23" cy="375.27" r="0.45"/><circle cx="57.09" cy="387.84" r="0.45"/><circle cx="66.27" cy="409.29" r="0.45"/></g><g transform="rotate(7 62.5 402.5)"><ellipse cx="62.5" cy="402.5" rx="6.9" ry="17.2" fill="#b8c4f4" filter="url(#fb1)"/><ellipse cx="62.5" cy="402.5" rx="5.9" ry="16" fill="#2030e4" filter="url(#fb1)"/><ellipse cx="62.5" cy="402.8" rx="4.2" ry="13.4" fill="#20b8e0" filter="url(#fb1)"/><ellipse cx="62.5" cy="403" rx="3.3" ry="11.4" fill="#38d060" filter="url(#fb1)"/><ellipse cx="62.6" cy="402" rx="2" ry="7.5" fill="#e8e020" filter="url(#fb1)"/><ellipse cx="62.6" cy="401.7" rx="1.1" ry="4.2" fill="#f08020" filter="url(#fb1)"/></g></g>
<rect x="40.4" y="354.4" width="85.6" height="84.3" fill="none" stroke="#222" stroke-width="0.9" />
<line x1="74" y1="354.4" x2="74" y2="438.7" stroke="#222" stroke-width="0.9" />
<line x1="40.4" y1="415.2" x2="126" y2="415.2" stroke="#222" stroke-width="0.9" />
<text font-size="8.2" text-anchor="end" fill="#222" stroke="#222" stroke-width="0.2" transform="translate(35.8 367) scale(0.9 1)">10<tspan dy="-3.2" font-size="5.74">5</tspan></text>
<text font-size="8.2" text-anchor="end" fill="#222" stroke="#222" stroke-width="0.2" transform="translate(35.8 387.2) scale(0.9 1)">10<tspan dy="-3.2" font-size="5.74">4</tspan></text>
<text font-size="8.2" text-anchor="end" fill="#222" stroke="#222" stroke-width="0.2" transform="translate(35.8 410.1) scale(0.9 1)">10<tspan dy="-3.2" font-size="5.74">3</tspan></text>
<text font-size="8.2" text-anchor="end" fill="#222" transform="translate(35.8 423.3) scale(0.9 1)" stroke="#222" stroke-width="0.22">0</text>
<text font-size="8.2" text-anchor="end" fill="#222" stroke="#222" stroke-width="0.2" transform="translate(35.8 437.6) scale(0.9 1)">-10<tspan dy="-3.2" font-size="5.74">3</tspan></text>
<line x1="37.8" y1="363.3" x2="40.4" y2="363.3" stroke="#222" stroke-width="1.1" />
<line x1="37.8" y1="383.5" x2="40.4" y2="383.5" stroke="#222" stroke-width="1.1" />
<line x1="37.8" y1="406.4" x2="40.4" y2="406.4" stroke="#222" stroke-width="1.1" />
<line x1="37.8" y1="419.8" x2="40.4" y2="419.8" stroke="#222" stroke-width="1.1" />
<line x1="37.8" y1="434" x2="40.4" y2="434" stroke="#222" stroke-width="1.1" />
<line x1="39.5" y1="414" x2="39.5" y2="426" stroke="#222" stroke-width="1.4" />
<line x1="39.5" y1="356" x2="39.5" y2="372" stroke="#222" stroke-width="0.9" stroke-dasharray="0.7 1.1"/>
<line x1="39.5" y1="374" x2="39.5" y2="396" stroke="#222" stroke-width="0.9" stroke-dasharray="0.7 1.6"/>
<text font-size="8.2" text-anchor="middle" fill="#222" stroke="#222" stroke-width="0.2" transform="translate(46 449.7) scale(0.9 1)">-10<tspan dy="-3.2" font-size="5.74">3</tspan></text>
<text font-size="8.2" text-anchor="middle" fill="#222" transform="translate(61.4 449.7) scale(0.9 1)" stroke="#222" stroke-width="0.22">0</text>
<text font-size="8.2" text-anchor="middle" fill="#222" stroke="#222" stroke-width="0.2" transform="translate(74 449.7) scale(0.9 1)">10<tspan dy="-3.2" font-size="5.74">3</tspan></text>
<text font-size="8.2" text-anchor="middle" fill="#222" stroke="#222" stroke-width="0.2" transform="translate(100 449.7) scale(0.9 1)">10<tspan dy="-3.2" font-size="5.74">4</tspan></text>
<text font-size="8.2" text-anchor="middle" fill="#222" stroke="#222" stroke-width="0.2" transform="translate(118.5 449.7) scale(0.9 1)">10<tspan dy="-3.2" font-size="5.74">5</tspan></text>
<line x1="46" y1="438.7" x2="46" y2="441.3" stroke="#222" stroke-width="1.1" />
<line x1="61.4" y1="438.7" x2="61.4" y2="441.3" stroke="#222" stroke-width="1.1" />
<line x1="74" y1="438.7" x2="74" y2="441.3" stroke="#222" stroke-width="1.1" />
<line x1="100" y1="438.7" x2="100" y2="441.3" stroke="#222" stroke-width="1.1" />
<line x1="118.5" y1="438.7" x2="118.5" y2="441.3" stroke="#222" stroke-width="1.1" />
<line x1="55.4" y1="439.6" x2="67.4" y2="439.6" stroke="#222" stroke-width="1.4" />
<line x1="77" y1="439.6" x2="97" y2="439.6" stroke="#222" stroke-width="0.9" stroke-dasharray="0.7 1.6"/>
<line x1="103" y1="439.6" x2="125" y2="439.6" stroke="#222" stroke-width="0.9" stroke-dasharray="0.7 1.3"/>
<text font-size="10.9" text-anchor="middle" fill="#222" transform="translate(81.4 463.4)" textLength="15.4" lengthAdjust="spacingAndGlyphs" stroke="#222" stroke-width="0.22">CD3</text>
<text font-size="10.9" text-anchor="middle" fill="#222" transform="translate(16 398.3) rotate(-90)" textLength="19.5" lengthAdjust="spacingAndGlyphs" stroke="#222" stroke-width="0.22">CD19</text>
<text x="43.6" y="364" font-size="7" text-anchor="start" fill="#333">97.6</text>
<text x="122.5" y="364" font-size="7" text-anchor="end" fill="#333">0.052</text>
<text x="43.6" y="435.2" font-size="7" text-anchor="start" fill="#333">2.29</text>
<text x="122.5" y="435.2" font-size="7" text-anchor="end" fill="#333">0.023</text>
<g clip-path="url(#cf1)"><g fill="#8c9cf0" opacity="0.55"><circle cx="187.1" cy="411.34" r="0.5"/><circle cx="185.07" cy="408.33" r="0.5"/><circle cx="188.24" cy="401.95" r="0.5"/><circle cx="187.02" cy="401.01" r="0.5"/><circle cx="183.24" cy="402.72" r="0.5"/><circle cx="184.35" cy="402.65" r="0.5"/><circle cx="184.85" cy="403.92" r="0.5"/><circle cx="182.51" cy="414.5" r="0.5"/><circle cx="187.4" cy="399.9" r="0.5"/><circle cx="184.23" cy="402.02" r="0.5"/><circle cx="186.45" cy="404.54" r="0.5"/><circle cx="186.06" cy="390.18" r="0.5"/><circle cx="183.92" cy="410.06" r="0.5"/><circle cx="185.84" cy="392.87" r="0.5"/><circle cx="184.28" cy="393.31" r="0.5"/><circle cx="184.07" cy="409.09" r="0.5"/><circle cx="185.19" cy="408.79" r="0.5"/><circle cx="185.77" cy="392.88" r="0.5"/><circle cx="184.58" cy="415.93" r="0.5"/><circle cx="184.41" cy="395.61" r="0.5"/><circle cx="187.26" cy="402.55" r="0.5"/><circle cx="185.49" cy="410.95" r="0.5"/><circle cx="182.99" cy="404.55" r="0.5"/><circle cx="184" cy="393.43" r="0.5"/><circle cx="184.34" cy="409.04" r="0.5"/><circle cx="185.3" cy="390.77" r="0.5"/><circle cx="183.92" cy="411.34" r="0.5"/><circle cx="186.96" cy="395.32" r="0.5"/><circle cx="188.97" cy="399.75" r="0.5"/><circle cx="183.79" cy="401.16" r="0.5"/><circle cx="186.84" cy="411.87" r="0.5"/><circle cx="186.97" cy="399.38" r="0.5"/><circle cx="184.7" cy="393.07" r="0.5"/><circle cx="185.39" cy="398.34" r="0.5"/><circle cx="185.85" cy="394.23" r="0.5"/><circle cx="184.76" cy="396.59" r="0.5"/><circle cx="183.78" cy="394.73" r="0.5"/><circle cx="184.04" cy="394.74" r="0.5"/><circle cx="186.31" cy="402.61" r="0.5"/><circle cx="183.61" cy="405.15" r="0.5"/><circle cx="185.91" cy="410.96" r="0.5"/><circle cx="185.22" cy="400.71" r="0.5"/><circle cx="184.51" cy="402.76" r="0.5"/><circle cx="186.21" cy="403.07" r="0.5"/><circle cx="185.14" cy="405.46" r="0.5"/></g><g transform="rotate(0 184.7 415.6)"><ellipse cx="184.7" cy="415.6" rx="6.4" ry="6" fill="#b8c4f4" filter="url(#fb1)"/><ellipse cx="184.7" cy="415.6" rx="5.6" ry="5.2" fill="#1428d4" filter="url(#fb1)"/><ellipse cx="184.9" cy="415.9" rx="3.5" ry="3.2" fill="#20b8e0" filter="url(#fb1)"/><ellipse cx="185" cy="416" rx="2.6" ry="2.4" fill="#38d060" filter="url(#fb1)"/><ellipse cx="185.1" cy="416.1" rx="1.4" ry="1.2" fill="#e8e020" filter="url(#fb1)"/></g></g>
<rect x="166.9" y="354.4" width="82.9" height="84.3" fill="none" stroke="#222" stroke-width="0.9" />
<line x1="189.2" y1="354.4" x2="189.2" y2="438.7" stroke="#222" stroke-width="0.9" />
<line x1="166.9" y1="409.9" x2="249.8" y2="409.9" stroke="#222" stroke-width="0.9" />
<text font-size="8.2" text-anchor="end" fill="#222" stroke="#222" stroke-width="0.2" transform="translate(162.3 367) scale(0.9 1)">10<tspan dy="-3.2" font-size="5.74">5</tspan></text>
<text font-size="8.2" text-anchor="end" fill="#222" stroke="#222" stroke-width="0.2" transform="translate(162.3 387.2) scale(0.9 1)">10<tspan dy="-3.2" font-size="5.74">4</tspan></text>
<text font-size="8.2" text-anchor="end" fill="#222" stroke="#222" stroke-width="0.2" transform="translate(162.3 410.1) scale(0.9 1)">10<tspan dy="-3.2" font-size="5.74">3</tspan></text>
<text font-size="8.2" text-anchor="end" fill="#222" transform="translate(162.3 423.3) scale(0.9 1)" stroke="#222" stroke-width="0.22">0</text>
<text font-size="8.2" text-anchor="end" fill="#222" stroke="#222" stroke-width="0.2" transform="translate(162.3 437.6) scale(0.9 1)">-10<tspan dy="-3.2" font-size="5.74">3</tspan></text>
<line x1="164.3" y1="363.3" x2="166.9" y2="363.3" stroke="#222" stroke-width="1.1" />
<line x1="164.3" y1="383.5" x2="166.9" y2="383.5" stroke="#222" stroke-width="1.1" />
<line x1="164.3" y1="406.4" x2="166.9" y2="406.4" stroke="#222" stroke-width="1.1" />
<line x1="164.3" y1="419.8" x2="166.9" y2="419.8" stroke="#222" stroke-width="1.1" />
<line x1="164.3" y1="434" x2="166.9" y2="434" stroke="#222" stroke-width="1.1" />
<line x1="166" y1="414" x2="166" y2="426" stroke="#222" stroke-width="1.4" />
<line x1="166" y1="356" x2="166" y2="372" stroke="#222" stroke-width="0.9" stroke-dasharray="0.7 1.1"/>
<line x1="166" y1="374" x2="166" y2="396" stroke="#222" stroke-width="0.9" stroke-dasharray="0.7 1.6"/>
<text font-size="8.2" text-anchor="middle" fill="#222" stroke="#222" stroke-width="0.2" transform="translate(173 449.7) scale(0.9 1)">-10<tspan dy="-3.2" font-size="5.74">3</tspan></text>
<text font-size="8.2" text-anchor="middle" fill="#222" transform="translate(186 449.7) scale(0.9 1)" stroke="#222" stroke-width="0.22">0</text>
<text font-size="8.2" text-anchor="middle" fill="#222" stroke="#222" stroke-width="0.2" transform="translate(198.7 449.7) scale(0.9 1)">10<tspan dy="-3.2" font-size="5.74">3</tspan></text>
<text font-size="8.2" text-anchor="middle" fill="#222" stroke="#222" stroke-width="0.2" transform="translate(222.9 449.7) scale(0.9 1)">10<tspan dy="-3.2" font-size="5.74">4</tspan></text>
<text font-size="8.2" text-anchor="middle" fill="#222" stroke="#222" stroke-width="0.2" transform="translate(242.5 449.7) scale(0.9 1)">10<tspan dy="-3.2" font-size="5.74">5</tspan></text>
<line x1="173" y1="438.7" x2="173" y2="441.3" stroke="#222" stroke-width="1.1" />
<line x1="186" y1="438.7" x2="186" y2="441.3" stroke="#222" stroke-width="1.1" />
<line x1="198.7" y1="438.7" x2="198.7" y2="441.3" stroke="#222" stroke-width="1.1" />
<line x1="222.9" y1="438.7" x2="222.9" y2="441.3" stroke="#222" stroke-width="1.1" />
<line x1="242.5" y1="438.7" x2="242.5" y2="441.3" stroke="#222" stroke-width="1.1" />
<line x1="180" y1="439.6" x2="192" y2="439.6" stroke="#222" stroke-width="1.4" />
<line x1="201.7" y1="439.6" x2="219.9" y2="439.6" stroke="#222" stroke-width="0.9" stroke-dasharray="0.7 1.6"/>
<line x1="225.9" y1="439.6" x2="248.8" y2="439.6" stroke="#222" stroke-width="0.9" stroke-dasharray="0.7 1.3"/>
<text font-size="10.6" text-anchor="middle" fill="#222" transform="translate(205.8 463.4)" textLength="17.9" lengthAdjust="spacingAndGlyphs" stroke="#222" stroke-width="0.22">Mac1</text>
<text font-size="10.6" text-anchor="middle" fill="#222" transform="translate(140 398.9) rotate(-90)" textLength="11.2" lengthAdjust="spacingAndGlyphs" stroke="#222" stroke-width="0.22">Gr1</text>
<text x="170.1" y="364" font-size="7" text-anchor="start" fill="#333">0.46</text>
<text x="246.3" y="364" font-size="7" text-anchor="end" fill="#333">0</text>
<text x="170.1" y="435.2" font-size="7" text-anchor="start" fill="#333">99.5</text>
<text x="246.3" y="435.2" font-size="7" text-anchor="end" fill="#333">0.041</text>
<g clip-path="url(#cf2)"><g fill="#6078f0" opacity="0.6"><circle cx="317.61" cy="412.26" r="0.45"/><circle cx="310.79" cy="412.06" r="0.45"/><circle cx="310.37" cy="406.69" r="0.45"/><circle cx="318.07" cy="421.77" r="0.45"/><circle cx="323.63" cy="411.02" r="0.45"/><circle cx="315.81" cy="416.05" r="0.45"/><circle cx="326.2" cy="417.24" r="0.45"/><circle cx="315.76" cy="411.96" r="0.45"/><circle cx="314.81" cy="409.54" r="0.45"/><circle cx="311.32" cy="409.72" r="0.45"/><circle cx="302.69" cy="404.87" r="0.45"/><circle cx="319.83" cy="406.26" r="0.45"/><circle cx="320.59" cy="404.38" r="0.45"/><circle cx="314.55" cy="413.02" r="0.45"/><circle cx="310.1" cy="407.35" r="0.45"/><circle cx="333.44" cy="407.52" r="0.45"/><circle cx="312.31" cy="408.07" r="0.45"/><circle cx="317.22" cy="410.86" r="0.45"/><circle cx="323.54" cy="415.05" r="0.45"/><circle cx="314.32" cy="409.18" r="0.45"/><circle cx="307.59" cy="403.35" r="0.45"/><circle cx="312.09" cy="414.74" r="0.45"/><circle cx="317.8" cy="415.11" r="0.45"/><circle cx="323.26" cy="410.16" r="0.45"/><circle cx="330.96" cy="408.32" r="0.45"/><circle cx="312.84" cy="408.8" r="0.45"/><circle cx="324.56" cy="410.3" r="0.45"/><circle cx="312.09" cy="413.22" r="0.45"/><circle cx="324.53" cy="410.43" r="0.45"/><circle cx="315.32" cy="416.54" r="0.45"/><circle cx="323.53" cy="415.83" r="0.45"/><circle cx="311.92" cy="412.45" r="0.45"/><circle cx="319.41" cy="401.82" r="0.45"/><circle cx="324.99" cy="411.51" r="0.45"/><circle cx="314.74" cy="422.57" r="0.45"/><circle cx="317.97" cy="407.32" r="0.45"/><circle cx="316.58" cy="413.88" r="0.45"/><circle cx="322.4" cy="410.71" r="0.45"/><circle cx="311.26" cy="407.44" r="0.45"/><circle cx="311.57" cy="405.63" r="0.45"/><circle cx="316.87" cy="408.49" r="0.45"/><circle cx="317.36" cy="406.78" r="0.45"/><circle cx="311.25" cy="410.05" r="0.45"/><circle cx="314.68" cy="416.88" r="0.45"/><circle cx="311" cy="412.05" r="0.45"/><circle cx="316.73" cy="404.32" r="0.45"/><circle cx="321.83" cy="411.87" r="0.45"/><circle cx="303.07" cy="414.07" r="0.45"/><circle cx="323.22" cy="406.93" r="0.45"/><circle cx="328.24" cy="411.79" r="0.45"/><circle cx="309.35" cy="413.87" r="0.45"/><circle cx="314.61" cy="404.17" r="0.45"/><circle cx="302.77" cy="412.25" r="0.45"/><circle cx="312.12" cy="414.29" r="0.45"/><circle cx="319.57" cy="408.35" r="0.45"/><circle cx="313.48" cy="420.01" r="0.45"/><circle cx="328.32" cy="414.84" r="0.45"/><circle cx="314.64" cy="405.99" r="0.45"/><circle cx="314.44" cy="419.48" r="0.45"/><circle cx="320.05" cy="409.52" r="0.45"/><circle cx="308.87" cy="411.85" r="0.45"/><circle cx="311.18" cy="411.07" r="0.45"/><circle cx="321.92" cy="416.46" r="0.45"/><circle cx="317.93" cy="409.26" r="0.45"/><circle cx="318.51" cy="420.18" r="0.45"/><circle cx="319.49" cy="403.87" r="0.45"/><circle cx="327.28" cy="412.28" r="0.45"/><circle cx="340.04" cy="408.61" r="0.45"/><circle cx="316.38" cy="409.49" r="0.45"/><circle cx="319.5" cy="408.05" r="0.45"/><circle cx="307.23" cy="401.22" r="0.45"/><circle cx="316.18" cy="408.39" r="0.45"/><circle cx="313.16" cy="421.79" r="0.45"/><circle cx="322.26" cy="416.55" r="0.45"/><circle cx="313.7" cy="412.53" r="0.45"/><circle cx="315.61" cy="409.96" r="0.45"/><circle cx="321.94" cy="414.07" r="0.45"/><circle cx="319.01" cy="411.75" r="0.45"/><circle cx="307.47" cy="407.25" r="0.45"/><circle cx="319.52" cy="409.14" r="0.45"/><circle cx="311.86" cy="412.81" r="0.45"/><circle cx="310.91" cy="407.59" r="0.45"/><circle cx="322.83" cy="409.18" r="0.45"/><circle cx="326.44" cy="413.65" r="0.45"/><circle cx="322.35" cy="416.74" r="0.45"/><circle cx="302.73" cy="410.6" r="0.45"/><circle cx="308.48" cy="408.65" r="0.45"/><circle cx="316.32" cy="417.31" r="0.45"/><circle cx="316.71" cy="419.33" r="0.45"/><circle cx="313.54" cy="410.71" r="0.45"/></g><g fill="#6078f0" opacity="0.6"><circle cx="326.47" cy="415.88" r="0.45"/><circle cx="325.74" cy="411.12" r="0.45"/><circle cx="324.33" cy="408.74" r="0.45"/><circle cx="332.38" cy="415.27" r="0.45"/><circle cx="328.17" cy="413.84" r="0.45"/><circle cx="322.93" cy="411.77" r="0.45"/><circle cx="330.09" cy="410.6" r="0.45"/><circle cx="322.04" cy="417.8" r="0.45"/><circle cx="333.9" cy="413.89" r="0.45"/><circle cx="328.7" cy="413.57" r="0.45"/><circle cx="333.22" cy="411.65" r="0.45"/><circle cx="326.42" cy="414.47" r="0.45"/><circle cx="333.29" cy="412.24" r="0.45"/><circle cx="327.18" cy="411.51" r="0.45"/><circle cx="322.69" cy="411.02" r="0.45"/><circle cx="326.42" cy="415.69" r="0.45"/><circle cx="322.5" cy="411.18" r="0.45"/><circle cx="323.96" cy="414.07" r="0.45"/><circle cx="329.52" cy="409.22" r="0.45"/><circle cx="327.79" cy="409.99" r="0.45"/><circle cx="329.6" cy="410.09" r="0.45"/><circle cx="320.55" cy="410.85" r="0.45"/><circle cx="325.69" cy="410" r="0.45"/><circle cx="327.06" cy="413.45" r="0.45"/><circle cx="326.42" cy="413.81" r="0.45"/><circle cx="330.4" cy="410.8" r="0.45"/><circle cx="326.01" cy="412.91" r="0.45"/><circle cx="315.68" cy="414.17" r="0.45"/><circle cx="322.13" cy="410.83" r="0.45"/><circle cx="323.76" cy="413.3" r="0.45"/></g><g transform="rotate(-8 315 413.2)"><ellipse cx="315.5" cy="412.7" rx="11" ry="7.6" fill="#b8c4f4" filter="url(#fb2)"/><ellipse cx="315" cy="413.2" rx="8.6" ry="6" fill="#2030e4" filter="url(#fb1)"/><ellipse cx="318.6" cy="413.7" rx="7" ry="4" fill="#2030e4" filter="url(#fb1)"/><ellipse cx="315" cy="413.4" rx="6.4" ry="4.2" fill="#20b8e0" filter="url(#fb1)"/><ellipse cx="315" cy="413.6" rx="5" ry="3.3" fill="#38d060" filter="url(#fb1)"/><ellipse cx="314.7" cy="413.7" rx="3.1" ry="2.1" fill="#e8e020" filter="url(#fb1)"/><ellipse cx="314.5" cy="413.8" rx="1.6" ry="1.2" fill="#f08020" filter="url(#fb1)"/></g><ellipse cx="312.5" cy="399" rx="2.4" ry="3.6" fill="#c4cef8" filter="url(#fb1)"/></g>
<rect x="290.4" y="354.4" width="84.8" height="84.3" fill="none" stroke="#222" stroke-width="0.9" />
<line x1="318.7" y1="354.4" x2="318.7" y2="438.7" stroke="#222" stroke-width="0.9" />
<line x1="290.4" y1="415.8" x2="375.2" y2="415.8" stroke="#222" stroke-width="0.9" />
<text font-size="8.2" text-anchor="end" fill="#222" stroke="#222" stroke-width="0.2" transform="translate(285.8 367) scale(0.9 1)">10<tspan dy="-3.2" font-size="5.74">5</tspan></text>
<text font-size="8.2" text-anchor="end" fill="#222" stroke="#222" stroke-width="0.2" transform="translate(285.8 387.2) scale(0.9 1)">10<tspan dy="-3.2" font-size="5.74">4</tspan></text>
<text font-size="8.2" text-anchor="end" fill="#222" stroke="#222" stroke-width="0.2" transform="translate(285.8 410.1) scale(0.9 1)">10<tspan dy="-3.2" font-size="5.74">3</tspan></text>
<text font-size="8.2" text-anchor="end" fill="#222" transform="translate(285.8 423.3) scale(0.9 1)" stroke="#222" stroke-width="0.22">0</text>
<text font-size="8.2" text-anchor="end" fill="#222" stroke="#222" stroke-width="0.2" transform="translate(285.8 437.6) scale(0.9 1)">-10<tspan dy="-3.2" font-size="5.74">3</tspan></text>
<line x1="287.8" y1="363.3" x2="290.4" y2="363.3" stroke="#222" stroke-width="1.1" />
<line x1="287.8" y1="383.5" x2="290.4" y2="383.5" stroke="#222" stroke-width="1.1" />
<line x1="287.8" y1="406.4" x2="290.4" y2="406.4" stroke="#222" stroke-width="1.1" />
<line x1="287.8" y1="419.8" x2="290.4" y2="419.8" stroke="#222" stroke-width="1.1" />
<line x1="287.8" y1="434" x2="290.4" y2="434" stroke="#222" stroke-width="1.1" />
<line x1="289.5" y1="414" x2="289.5" y2="426" stroke="#222" stroke-width="1.4" />
<line x1="289.5" y1="356" x2="289.5" y2="372" stroke="#222" stroke-width="0.9" stroke-dasharray="0.7 1.1"/>
<line x1="289.5" y1="374" x2="289.5" y2="396" stroke="#222" stroke-width="0.9" stroke-dasharray="0.7 1.6"/>
<text font-size="8.2" text-anchor="middle" fill="#222" stroke="#222" stroke-width="0.2" transform="translate(296.3 449.7) scale(0.9 1)">-10<tspan dy="-3.2" font-size="5.74">3</tspan></text>
<text font-size="8.2" text-anchor="middle" fill="#222" transform="translate(311.4 449.7) scale(0.9 1)" stroke="#222" stroke-width="0.22">0</text>
<text font-size="8.2" text-anchor="middle" fill="#222" stroke="#222" stroke-width="0.2" transform="translate(324 449.7) scale(0.9 1)">10<tspan dy="-3.2" font-size="5.74">3</tspan></text>
<text font-size="8.2" text-anchor="middle" fill="#222" stroke="#222" stroke-width="0.2" transform="translate(349 449.7) scale(0.9 1)">10<tspan dy="-3.2" font-size="5.74">4</tspan></text>
<text font-size="8.2" text-anchor="middle" fill="#222" stroke="#222" stroke-width="0.2" transform="translate(368 449.7) scale(0.9 1)">10<tspan dy="-3.2" font-size="5.74">5</tspan></text>
<line x1="296.3" y1="438.7" x2="296.3" y2="441.3" stroke="#222" stroke-width="1.1" />
<line x1="311.4" y1="438.7" x2="311.4" y2="441.3" stroke="#222" stroke-width="1.1" />
<line x1="324" y1="438.7" x2="324" y2="441.3" stroke="#222" stroke-width="1.1" />
<line x1="349" y1="438.7" x2="349" y2="441.3" stroke="#222" stroke-width="1.1" />
<line x1="368" y1="438.7" x2="368" y2="441.3" stroke="#222" stroke-width="1.1" />
<line x1="305.4" y1="439.6" x2="317.4" y2="439.6" stroke="#222" stroke-width="1.4" />
<line x1="327" y1="439.6" x2="346" y2="439.6" stroke="#222" stroke-width="0.9" stroke-dasharray="0.7 1.6"/>
<line x1="352" y1="439.6" x2="374.2" y2="439.6" stroke="#222" stroke-width="0.9" stroke-dasharray="0.7 1.3"/>
<text font-size="10.6" text-anchor="middle" fill="#222" transform="translate(331.2 463.4)" textLength="19.4" lengthAdjust="spacingAndGlyphs" stroke="#222" stroke-width="0.22">CD43</text>
<text font-size="10.6" text-anchor="middle" fill="#222" transform="translate(264.8 398.1) rotate(-90)" textLength="18.6" lengthAdjust="spacingAndGlyphs" stroke="#222" stroke-width="0.22">B220</text>
<text x="293.6" y="364" font-size="7" text-anchor="start" fill="#333">60.5</text>
<text x="371.7" y="364" font-size="7" text-anchor="end" fill="#333">22.9</text>
<text x="293.6" y="435.2" font-size="7" text-anchor="start" fill="#333">13.9</text>
<text x="371.7" y="435.2" font-size="7" text-anchor="end" fill="#333">2.67</text>
<g clip-path="url(#cf3)"><g fill="#3a56ec" opacity="0.7"><circle cx="440.92" cy="404.1" r="0.5"/><circle cx="434.96" cy="406.35" r="0.5"/><circle cx="441.43" cy="394.88" r="0.5"/><circle cx="438.88" cy="407.46" r="0.5"/><circle cx="441.52" cy="406.34" r="0.5"/><circle cx="439.62" cy="410.99" r="0.5"/><circle cx="451.92" cy="403.78" r="0.5"/><circle cx="429.7" cy="417.16" r="0.5"/><circle cx="435.69" cy="384.47" r="0.5"/><circle cx="425.23" cy="403.47" r="0.5"/><circle cx="445.36" cy="409.53" r="0.5"/><circle cx="436.78" cy="414.21" r="0.5"/><circle cx="438.55" cy="392.78" r="0.5"/><circle cx="439.39" cy="401.25" r="0.5"/><circle cx="439.29" cy="403.21" r="0.5"/><circle cx="426.29" cy="415.48" r="0.5"/><circle cx="435.7" cy="405.84" r="0.5"/><circle cx="434.36" cy="400.71" r="0.5"/><circle cx="437.98" cy="382.4" r="0.5"/><circle cx="441.23" cy="405.66" r="0.5"/><circle cx="432.53" cy="376.98" r="0.5"/><circle cx="435.25" cy="390.16" r="0.5"/><circle cx="439.64" cy="398.82" r="0.5"/><circle cx="448.35" cy="405.81" r="0.5"/><circle cx="437.51" cy="400.7" r="0.5"/><circle cx="422.28" cy="389.5" r="0.5"/><circle cx="433.65" cy="397.84" r="0.5"/><circle cx="440.85" cy="401.24" r="0.5"/><circle cx="444.42" cy="391.75" r="0.5"/><circle cx="440.77" cy="397.63" r="0.5"/><circle cx="439.08" cy="402.38" r="0.5"/><circle cx="437.37" cy="401.22" r="0.5"/><circle cx="438.8" cy="409.74" r="0.5"/><circle cx="438.35" cy="402.2" r="0.5"/><circle cx="454.05" cy="405.56" r="0.5"/><circle cx="441.97" cy="410.31" r="0.5"/><circle cx="433.16" cy="406.44" r="0.5"/><circle cx="443.34" cy="403.61" r="0.5"/><circle cx="444.64" cy="407.23" r="0.5"/><circle cx="445.9" cy="392.27" r="0.5"/><circle cx="441.5" cy="393.29" r="0.5"/><circle cx="446.18" cy="400.43" r="0.5"/><circle cx="431.48" cy="400.15" r="0.5"/><circle cx="433.2" cy="409.29" r="0.5"/><circle cx="437.05" cy="376.07" r="0.5"/><circle cx="436.76" cy="409.72" r="0.5"/><circle cx="440.91" cy="392.37" r="0.5"/><circle cx="442.75" cy="405.03" r="0.5"/><circle cx="447.5" cy="408.45" r="0.5"/><circle cx="441.12" cy="390.76" r="0.5"/><circle cx="440.64" cy="402.16" r="0.5"/><circle cx="439.08" cy="403.41" r="0.5"/><circle cx="432.14" cy="404.97" r="0.5"/><circle cx="439.06" cy="402.74" r="0.5"/><circle cx="438.44" cy="395.86" r="0.5"/><circle cx="440.48" cy="407.19" r="0.5"/><circle cx="437.15" cy="402.41" r="0.5"/><circle cx="434.58" cy="403.36" r="0.5"/><circle cx="439.11" cy="385.62" r="0.5"/><circle cx="445.71" cy="389.71" r="0.5"/><circle cx="439.46" cy="385.29" r="0.5"/><circle cx="429.01" cy="405.87" r="0.5"/><circle cx="430.92" cy="377.35" r="0.5"/><circle cx="437.76" cy="382.84" r="0.5"/><circle cx="437.82" cy="418.08" r="0.5"/><circle cx="436.73" cy="402.74" r="0.5"/><circle cx="442.23" cy="401.57" r="0.5"/><circle cx="438.31" cy="414.71" r="0.5"/><circle cx="438.53" cy="402.71" r="0.5"/><circle cx="439.64" cy="385.65" r="0.5"/><circle cx="440.84" cy="399.58" r="0.5"/><circle cx="442.73" cy="406.2" r="0.5"/><circle cx="448.01" cy="379.23" r="0.5"/><circle cx="435.79" cy="394.07" r="0.5"/><circle cx="434.04" cy="403.3" r="0.5"/><circle cx="438.56" cy="400.45" r="0.5"/><circle cx="429.63" cy="389.05" r="0.5"/><circle cx="438.62" cy="394.35" r="0.5"/><circle cx="435.51" cy="397.78" r="0.5"/><circle cx="437.41" cy="387.95" r="0.5"/><circle cx="448.56" cy="391.96" r="0.5"/><circle cx="442.73" cy="405.2" r="0.5"/><circle cx="444.55" cy="393.06" r="0.5"/><circle cx="433.27" cy="403.56" r="0.5"/><circle cx="440.49" cy="374.51" r="0.5"/><circle cx="423.99" cy="393.35" r="0.5"/><circle cx="436.77" cy="396.21" r="0.5"/><circle cx="441.38" cy="388.93" r="0.5"/><circle cx="454.17" cy="408.36" r="0.5"/><circle cx="446.45" cy="401.82" r="0.5"/><circle cx="427.09" cy="401.45" r="0.5"/><circle cx="435.84" cy="403.57" r="0.5"/><circle cx="438.34" cy="405.94" r="0.5"/><circle cx="433.96" cy="395.23" r="0.5"/><circle cx="439.03" cy="391.19" r="0.5"/><circle cx="436.39" cy="405.36" r="0.5"/><circle cx="450.04" cy="396.78" r="0.5"/><circle cx="443.72" cy="387.2" r="0.5"/><circle cx="436.38" cy="402.4" r="0.5"/><circle cx="442.31" cy="388.38" r="0.5"/><circle cx="442.44" cy="400.5" r="0.5"/><circle cx="446.51" cy="408.71" r="0.5"/><circle cx="442.13" cy="394.89" r="0.5"/><circle cx="440.5" cy="390.11" r="0.5"/><circle cx="434.27" cy="379.89" r="0.5"/><circle cx="431.55" cy="385.83" r="0.5"/><circle cx="438.41" cy="400.05" r="0.5"/><circle cx="431.31" cy="397.97" r="0.5"/><circle cx="441.3" cy="408.56" r="0.5"/><circle cx="438.44" cy="401.24" r="0.5"/><circle cx="436.83" cy="408.54" r="0.5"/><circle cx="430.06" cy="401.45" r="0.5"/><circle cx="425.72" cy="416.68" r="0.5"/><circle cx="444.27" cy="377.16" r="0.5"/><circle cx="435.96" cy="384.36" r="0.5"/><circle cx="428.89" cy="394.7" r="0.5"/><circle cx="433.93" cy="409.7" r="0.5"/><circle cx="435.98" cy="387.47" r="0.5"/><circle cx="438.5" cy="403.13" r="0.5"/><circle cx="443.64" cy="404.13" r="0.5"/><circle cx="430.43" cy="390.42" r="0.5"/><circle cx="437.9" cy="390.23" r="0.5"/><circle cx="443.2" cy="395.38" r="0.5"/><circle cx="438.53" cy="395.03" r="0.5"/><circle cx="439.18" cy="383.37" r="0.5"/><circle cx="450.92" cy="393.01" r="0.5"/><circle cx="434.77" cy="380.47" r="0.5"/><circle cx="438.43" cy="384.61" r="0.5"/><circle cx="440.79" cy="411.24" r="0.5"/><circle cx="442.41" cy="394.29" r="0.5"/><circle cx="446.18" cy="396.91" r="0.5"/><circle cx="438.65" cy="399.5" r="0.5"/><circle cx="436.2" cy="403.19" r="0.5"/><circle cx="431.89" cy="380.54" r="0.5"/><circle cx="445.76" cy="391.26" r="0.5"/><circle cx="436.89" cy="402.29" r="0.5"/><circle cx="436.24" cy="386.64" r="0.5"/><circle cx="437.78" cy="389.08" r="0.5"/><circle cx="442.04" cy="394.26" r="0.5"/><circle cx="437.43" cy="406.79" r="0.5"/><circle cx="430.1" cy="383.44" r="0.5"/><circle cx="443.07" cy="411.91" r="0.5"/><circle cx="439.43" cy="391.55" r="0.5"/><circle cx="445.92" cy="404.21" r="0.5"/><circle cx="444.76" cy="380.12" r="0.5"/><circle cx="438.17" cy="388.2" r="0.5"/><circle cx="432.65" cy="404.82" r="0.5"/><circle cx="443.07" cy="393.98" r="0.5"/><circle cx="437.48" cy="413.05" r="0.5"/><circle cx="442.65" cy="397.59" r="0.5"/><circle cx="441.82" cy="399.99" r="0.5"/><circle cx="431.71" cy="393.53" r="0.5"/><circle cx="440.52" cy="405.24" r="0.5"/><circle cx="432.07" cy="390.53" r="0.5"/><circle cx="435.56" cy="383.22" r="0.5"/><circle cx="445.19" cy="403.55" r="0.5"/><circle cx="446.38" cy="376.28" r="0.5"/><circle cx="434.29" cy="417.6" r="0.5"/><circle cx="430.88" cy="380.02" r="0.5"/><circle cx="440.18" cy="415.08" r="0.5"/><circle cx="442.56" cy="388.94" r="0.5"/><circle cx="442.07" cy="403.08" r="0.5"/><circle cx="440.42" cy="402.86" r="0.5"/><circle cx="443.63" cy="410.85" r="0.5"/><circle cx="446.72" cy="409.83" r="0.5"/><circle cx="438.08" cy="379.74" r="0.5"/><circle cx="442.03" cy="383.34" r="0.5"/><circle cx="451.92" cy="386.91" r="0.5"/><circle cx="428.38" cy="379.75" r="0.5"/><circle cx="441.15" cy="401.96" r="0.5"/><circle cx="442.62" cy="401.81" r="0.5"/><circle cx="434.47" cy="407.25" r="0.5"/><circle cx="434.96" cy="383.32" r="0.5"/><circle cx="444.1" cy="404.36" r="0.5"/><circle cx="433.58" cy="396.25" r="0.5"/><circle cx="444.78" cy="408.53" r="0.5"/><circle cx="432.8" cy="410.31" r="0.5"/><circle cx="424.13" cy="399.76" r="0.5"/><circle cx="441.11" cy="397.62" r="0.5"/><circle cx="439.57" cy="382.25" r="0.5"/><circle cx="438.18" cy="404.02" r="0.5"/><circle cx="433.62" cy="400.29" r="0.5"/><circle cx="437.97" cy="375.57" r="0.5"/><circle cx="435.45" cy="404.87" r="0.5"/><circle cx="430.04" cy="399.13" r="0.5"/><circle cx="440.84" cy="385.66" r="0.5"/><circle cx="437.5" cy="408.12" r="0.5"/><circle cx="443.05" cy="388.63" r="0.5"/><circle cx="444.76" cy="402.42" r="0.5"/><circle cx="439.66" cy="414.51" r="0.5"/><circle cx="443.13" cy="402.71" r="0.5"/><circle cx="444.44" cy="405.79" r="0.5"/><circle cx="446.21" cy="397.74" r="0.5"/><circle cx="428.79" cy="415.04" r="0.5"/><circle cx="443.56" cy="404.37" r="0.5"/><circle cx="439.22" cy="398.01" r="0.5"/><circle cx="439.55" cy="389.11" r="0.5"/><circle cx="443.38" cy="399.82" r="0.5"/><circle cx="433.5" cy="401.68" r="0.5"/><circle cx="437.09" cy="398.64" r="0.5"/><circle cx="442.08" cy="426.86" r="0.5"/><circle cx="432.87" cy="403.18" r="0.5"/><circle cx="443.03" cy="403.34" r="0.5"/><circle cx="447.49" cy="394.51" r="0.5"/><circle cx="437.09" cy="398.83" r="0.5"/><circle cx="431.13" cy="410.38" r="0.5"/><circle cx="431.86" cy="404.62" r="0.5"/><circle cx="445.83" cy="390.3" r="0.5"/><circle cx="437.97" cy="396.86" r="0.5"/><circle cx="448.83" cy="401.68" r="0.5"/><circle cx="428.9" cy="410.08" r="0.5"/><circle cx="444.9" cy="378.25" r="0.5"/><circle cx="423.36" cy="426.08" r="0.5"/><circle cx="439.48" cy="376.87" r="0.5"/><circle cx="445.03" cy="413.68" r="0.5"/><circle cx="425.3" cy="412.2" r="0.5"/><circle cx="443.05" cy="398.73" r="0.5"/><circle cx="434.94" cy="402.96" r="0.5"/><circle cx="434.32" cy="400.63" r="0.5"/><circle cx="437.51" cy="394.34" r="0.5"/><circle cx="442.12" cy="409.15" r="0.5"/><circle cx="444.08" cy="403.61" r="0.5"/><circle cx="448.65" cy="385.87" r="0.5"/><circle cx="439.37" cy="400.91" r="0.5"/><circle cx="445.97" cy="375.45" r="0.5"/><circle cx="436.45" cy="395.69" r="0.5"/><circle cx="440.1" cy="422.53" r="0.5"/><circle cx="440.35" cy="397.99" r="0.5"/><circle cx="441.45" cy="409.2" r="0.5"/><circle cx="437.98" cy="416.49" r="0.5"/><circle cx="432.01" cy="411.99" r="0.5"/><circle cx="443.05" cy="409.36" r="0.5"/><circle cx="447.91" cy="396.44" r="0.5"/><circle cx="441.37" cy="401.73" r="0.5"/><circle cx="435.51" cy="391.02" r="0.5"/><circle cx="434.51" cy="407.79" r="0.5"/><circle cx="425.87" cy="385.6" r="0.5"/><circle cx="439.43" cy="412.59" r="0.5"/><circle cx="438.4" cy="412.14" r="0.5"/><circle cx="438.64" cy="393.41" r="0.5"/><circle cx="429.99" cy="400.94" r="0.5"/><circle cx="448.95" cy="399.92" r="0.5"/><circle cx="433" cy="405.07" r="0.5"/><circle cx="431.09" cy="387.08" r="0.5"/><circle cx="445.41" cy="403.27" r="0.5"/><circle cx="444.56" cy="401.47" r="0.5"/><circle cx="438.32" cy="400.8" r="0.5"/><circle cx="437.13" cy="409.97" r="0.5"/><circle cx="431.58" cy="379.25" r="0.5"/><circle cx="434.11" cy="408.38" r="0.5"/><circle cx="435.87" cy="374.95" r="0.5"/><circle cx="455.4" cy="389.28" r="0.5"/><circle cx="437.88" cy="405.01" r="0.5"/><circle cx="441.12" cy="397.25" r="0.5"/><circle cx="430.02" cy="404.43" r="0.5"/><circle cx="433.34" cy="397.13" r="0.5"/><circle cx="443.35" cy="394.96" r="0.5"/><circle cx="428.66" cy="392.69" r="0.5"/><circle cx="442.49" cy="406.44" r="0.5"/><circle cx="431.51" cy="399.49" r="0.5"/><circle cx="440.69" cy="410.14" r="0.5"/><circle cx="441.31" cy="400.65" r="0.5"/><circle cx="437.23" cy="403.9" r="0.5"/><circle cx="443.44" cy="397.34" r="0.5"/><circle cx="437.37" cy="417.13" r="0.5"/><circle cx="438.75" cy="390.83" r="0.5"/><circle cx="442.88" cy="386.06" r="0.5"/><circle cx="432.75" cy="408.52" r="0.5"/><circle cx="439.12" cy="407.21" r="0.5"/><circle cx="443.45" cy="391.1" r="0.5"/><circle cx="441.89" cy="395.06" r="0.5"/><circle cx="440.23" cy="401.61" r="0.5"/><circle cx="438.52" cy="385.55" r="0.5"/><circle cx="440.72" cy="399.19" r="0.5"/><circle cx="442.04" cy="388.04" r="0.5"/><circle cx="440.14" cy="396.84" r="0.5"/><circle cx="436.54" cy="396.22" r="0.5"/><circle cx="437.56" cy="384.8" r="0.5"/><circle cx="435.87" cy="394.19" r="0.5"/><circle cx="441.67" cy="397.4" r="0.5"/><circle cx="447.1" cy="405.24" r="0.5"/><circle cx="440.8" cy="401.15" r="0.5"/><circle cx="430.87" cy="402.75" r="0.5"/><circle cx="446.22" cy="388.48" r="0.5"/><circle cx="446.55" cy="405.36" r="0.5"/><circle cx="440.63" cy="394.57" r="0.5"/><circle cx="439.13" cy="390.88" r="0.5"/><circle cx="438.9" cy="399.55" r="0.5"/><circle cx="439.36" cy="386.37" r="0.5"/><circle cx="444.3" cy="392.21" r="0.5"/><circle cx="441.27" cy="405.08" r="0.5"/><circle cx="437.82" cy="424.34" r="0.5"/><circle cx="439.69" cy="403.34" r="0.5"/><circle cx="437.58" cy="402.41" r="0.5"/><circle cx="431.79" cy="405.63" r="0.5"/><circle cx="436.9" cy="393.72" r="0.5"/><circle cx="443.34" cy="408.35" r="0.5"/><circle cx="436.57" cy="388.45" r="0.5"/><circle cx="427.54" cy="388.71" r="0.5"/><circle cx="441.81" cy="405.55" r="0.5"/><circle cx="431.82" cy="399.51" r="0.5"/><circle cx="444.98" cy="391.16" r="0.5"/><circle cx="435.83" cy="389.67" r="0.5"/><circle cx="441.36" cy="379.5" r="0.5"/><circle cx="438.25" cy="403.83" r="0.5"/><circle cx="438.68" cy="408.86" r="0.5"/><circle cx="442.5" cy="393.74" r="0.5"/><circle cx="433.3" cy="388.09" r="0.5"/><circle cx="441.78" cy="397.58" r="0.5"/><circle cx="439.65" cy="389.56" r="0.5"/><circle cx="445.54" cy="407.95" r="0.5"/><circle cx="443.28" cy="387.49" r="0.5"/><circle cx="453.76" cy="407.66" r="0.5"/><circle cx="432.84" cy="408.94" r="0.5"/><circle cx="438.27" cy="390.95" r="0.5"/><circle cx="434.65" cy="404.11" r="0.5"/><circle cx="440.74" cy="401.17" r="0.5"/><circle cx="437.77" cy="388.44" r="0.5"/><circle cx="440.43" cy="396.24" r="0.5"/><circle cx="437.84" cy="405.28" r="0.5"/><circle cx="448.61" cy="392.54" r="0.5"/><circle cx="444.48" cy="391.44" r="0.5"/><circle cx="443.77" cy="405.63" r="0.5"/><circle cx="439.2" cy="401.42" r="0.5"/><circle cx="434.59" cy="395.55" r="0.5"/><circle cx="444.41" cy="406.88" r="0.5"/><circle cx="451.8" cy="388.66" r="0.5"/><circle cx="436.36" cy="400.03" r="0.5"/><circle cx="439.34" cy="393.85" r="0.5"/><circle cx="436.64" cy="397.98" r="0.5"/><circle cx="446.23" cy="397.95" r="0.5"/><circle cx="434.73" cy="402.2" r="0.5"/><circle cx="424.21" cy="390.12" r="0.5"/><circle cx="435.43" cy="402.15" r="0.5"/><circle cx="426.08" cy="396.84" r="0.5"/><circle cx="432.94" cy="409.07" r="0.5"/><circle cx="443.49" cy="394.44" r="0.5"/><circle cx="441.66" cy="387.05" r="0.5"/><circle cx="440.23" cy="401.68" r="0.5"/><circle cx="445.03" cy="394.6" r="0.5"/><circle cx="426.86" cy="407.2" r="0.5"/><circle cx="432.89" cy="393.46" r="0.5"/><circle cx="436.96" cy="415.94" r="0.5"/><circle cx="438.74" cy="410.83" r="0.5"/><circle cx="439.42" cy="384.71" r="0.5"/><circle cx="441.6" cy="404.28" r="0.5"/><circle cx="435.82" cy="383.04" r="0.5"/><circle cx="455.05" cy="420.86" r="0.5"/><circle cx="441.35" cy="403.73" r="0.5"/><circle cx="444.33" cy="405.1" r="0.5"/><circle cx="430.64" cy="384.85" r="0.5"/><circle cx="443.66" cy="412.9" r="0.5"/><circle cx="445.03" cy="407.5" r="0.5"/><circle cx="438.94" cy="408.85" r="0.5"/><circle cx="447.76" cy="404.43" r="0.5"/><circle cx="446.09" cy="411.4" r="0.5"/><circle cx="434.99" cy="411.03" r="0.5"/><circle cx="434.69" cy="389.67" r="0.5"/><circle cx="448.13" cy="382.2" r="0.5"/><circle cx="437.95" cy="408.27" r="0.5"/><circle cx="441.22" cy="395.08" r="0.5"/><circle cx="433.74" cy="404.23" r="0.5"/><circle cx="442.01" cy="398.19" r="0.5"/><circle cx="433.52" cy="384.39" r="0.5"/><circle cx="438.96" cy="398.52" r="0.5"/><circle cx="443.71" cy="395.85" r="0.5"/><circle cx="444.15" cy="386.68" r="0.5"/><circle cx="429.28" cy="408.56" r="0.5"/><circle cx="436.62" cy="390.45" r="0.5"/><circle cx="438.22" cy="386.63" r="0.5"/><circle cx="437.08" cy="384.93" r="0.5"/><circle cx="439.97" cy="393.07" r="0.5"/><circle cx="438.71" cy="399.02" r="0.5"/><circle cx="441.53" cy="381.55" r="0.5"/><circle cx="439.9" cy="396.34" r="0.5"/><circle cx="432.54" cy="396.37" r="0.5"/><circle cx="441.85" cy="403.82" r="0.5"/><circle cx="450.2" cy="395.7" r="0.5"/><circle cx="439.81" cy="418.68" r="0.5"/><circle cx="435.67" cy="390.59" r="0.5"/><circle cx="436.43" cy="393.02" r="0.5"/><circle cx="438.88" cy="400.48" r="0.5"/><circle cx="434.76" cy="387.46" r="0.5"/><circle cx="438.72" cy="386.58" r="0.5"/><circle cx="434.45" cy="402.57" r="0.5"/><circle cx="438.48" cy="388.9" r="0.5"/><circle cx="430.98" cy="388.9" r="0.5"/><circle cx="430.7" cy="404.46" r="0.5"/><circle cx="443.17" cy="402.08" r="0.5"/><circle cx="440.77" cy="394.01" r="0.5"/><circle cx="439.93" cy="399.63" r="0.5"/><circle cx="439.28" cy="394.05" r="0.5"/><circle cx="432.98" cy="401.94" r="0.5"/><circle cx="441.15" cy="387.71" r="0.5"/><circle cx="437.71" cy="398.68" r="0.5"/><circle cx="441.78" cy="381.79" r="0.5"/><circle cx="431.14" cy="385.04" r="0.5"/><circle cx="432.06" cy="388.06" r="0.5"/><circle cx="443.77" cy="387.28" r="0.5"/><circle cx="450.95" cy="401.77" r="0.5"/><circle cx="442.88" cy="398.54" r="0.5"/><circle cx="443.84" cy="402.86" r="0.5"/><circle cx="443.5" cy="404.93" r="0.5"/><circle cx="442.46" cy="402.94" r="0.5"/><circle cx="445.14" cy="399.23" r="0.5"/><circle cx="436.1" cy="415.13" r="0.5"/><circle cx="436.32" cy="403.07" r="0.5"/><circle cx="450.78" cy="392.57" r="0.5"/><circle cx="437.49" cy="392.18" r="0.5"/><circle cx="433.8" cy="405.6" r="0.5"/><circle cx="437.87" cy="400.32" r="0.5"/><circle cx="429.47" cy="403.93" r="0.5"/><circle cx="435" cy="379.47" r="0.5"/><circle cx="434.98" cy="382.75" r="0.5"/><circle cx="447.9" cy="381.99" r="0.5"/><circle cx="440.61" cy="388.5" r="0.5"/><circle cx="434.43" cy="386.02" r="0.5"/><circle cx="445.79" cy="387.84" r="0.5"/><circle cx="435.46" cy="401.38" r="0.5"/><circle cx="436.94" cy="406.05" r="0.5"/></g><g fill="#3a56ec" opacity="0.7"><circle cx="435.38" cy="411.55" r="0.5"/><circle cx="442.86" cy="421.04" r="0.5"/><circle cx="443.33" cy="414.18" r="0.5"/><circle cx="447.34" cy="419.68" r="0.5"/><circle cx="437.65" cy="418.48" r="0.5"/><circle cx="439.82" cy="417.4" r="0.5"/><circle cx="444.06" cy="419.97" r="0.5"/><circle cx="440.56" cy="417.24" r="0.5"/><circle cx="424.45" cy="414.28" r="0.5"/><circle cx="442.91" cy="414.31" r="0.5"/><circle cx="442.36" cy="416.35" r="0.5"/><circle cx="440.44" cy="417.33" r="0.5"/><circle cx="448.23" cy="418.71" r="0.5"/><circle cx="440.32" cy="413.01" r="0.5"/><circle cx="442.34" cy="413.38" r="0.5"/><circle cx="447.76" cy="414.66" r="0.5"/><circle cx="436.13" cy="416.51" r="0.5"/><circle cx="433.73" cy="418.68" r="0.5"/><circle cx="442.07" cy="414.73" r="0.5"/><circle cx="436.68" cy="423.19" r="0.5"/><circle cx="447.28" cy="418.87" r="0.5"/><circle cx="441.82" cy="422.08" r="0.5"/><circle cx="437.6" cy="416.13" r="0.5"/><circle cx="439.18" cy="413.45" r="0.5"/><circle cx="434.5" cy="423.23" r="0.5"/><circle cx="441.01" cy="414.04" r="0.5"/><circle cx="438.54" cy="415.39" r="0.5"/><circle cx="437.32" cy="416.83" r="0.5"/><circle cx="430.83" cy="410.97" r="0.5"/><circle cx="438.77" cy="416.24" r="0.5"/><circle cx="432.71" cy="416.68" r="0.5"/><circle cx="436.51" cy="417.7" r="0.5"/><circle cx="438.75" cy="420.76" r="0.5"/><circle cx="448.78" cy="419.27" r="0.5"/><circle cx="440.22" cy="419.9" r="0.5"/><circle cx="444.64" cy="418.61" r="0.5"/><circle cx="444.9" cy="415.78" r="0.5"/><circle cx="444.93" cy="418.83" r="0.5"/><circle cx="442.62" cy="416.49" r="0.5"/><circle cx="437.56" cy="419" r="0.5"/><circle cx="437" cy="413.46" r="0.5"/><circle cx="450.55" cy="421.04" r="0.5"/><circle cx="435.34" cy="421.7" r="0.5"/><circle cx="427.4" cy="419.07" r="0.5"/><circle cx="444.37" cy="417.9" r="0.5"/><circle cx="438.87" cy="419.67" r="0.5"/><circle cx="443.36" cy="413.28" r="0.5"/><circle cx="435.59" cy="420.42" r="0.5"/><circle cx="444.78" cy="413.25" r="0.5"/><circle cx="430.93" cy="418.54" r="0.5"/><circle cx="435.03" cy="414.64" r="0.5"/><circle cx="436.91" cy="417.83" r="0.5"/><circle cx="427.61" cy="419.69" r="0.5"/><circle cx="437.86" cy="420.13" r="0.5"/><circle cx="433.08" cy="414.17" r="0.5"/><circle cx="443.19" cy="420.39" r="0.5"/><circle cx="439.81" cy="415.99" r="0.5"/><circle cx="448.46" cy="420.71" r="0.5"/><circle cx="442.01" cy="416.27" r="0.5"/><circle cx="447.95" cy="419.41" r="0.5"/><circle cx="437.95" cy="422" r="0.5"/><circle cx="447.01" cy="417.82" r="0.5"/><circle cx="443.08" cy="419.67" r="0.5"/><circle cx="437.3" cy="413.08" r="0.5"/><circle cx="447.55" cy="411.65" r="0.5"/><circle cx="430.78" cy="412.37" r="0.5"/><circle cx="443.25" cy="420.56" r="0.5"/><circle cx="436.15" cy="421.44" r="0.5"/><circle cx="450.35" cy="421.69" r="0.5"/><circle cx="432.19" cy="421.45" r="0.5"/><circle cx="454.44" cy="414.08" r="0.5"/><circle cx="430.11" cy="421.39" r="0.5"/><circle cx="443.43" cy="416.97" r="0.5"/><circle cx="439.83" cy="411.36" r="0.5"/><circle cx="434.94" cy="417.74" r="0.5"/><circle cx="443.1" cy="420.2" r="0.5"/><circle cx="446" cy="415.53" r="0.5"/><circle cx="439.7" cy="421.86" r="0.5"/><circle cx="431.72" cy="418.85" r="0.5"/><circle cx="434.88" cy="417.81" r="0.5"/><circle cx="451.71" cy="418.43" r="0.5"/><circle cx="437.37" cy="414.8" r="0.5"/><circle cx="431.43" cy="417.02" r="0.5"/><circle cx="426.03" cy="416.83" r="0.5"/><circle cx="440.99" cy="414.05" r="0.5"/><circle cx="435.27" cy="421.09" r="0.5"/><circle cx="447.94" cy="423.96" r="0.5"/><circle cx="447.34" cy="418.16" r="0.5"/><circle cx="438.84" cy="421.23" r="0.5"/><circle cx="444.44" cy="417.7" r="0.5"/><circle cx="451.42" cy="416.58" r="0.5"/><circle cx="441.3" cy="420.8" r="0.5"/><circle cx="443.25" cy="417.36" r="0.5"/><circle cx="446.69" cy="426.42" r="0.5"/><circle cx="438.14" cy="419.44" r="0.5"/><circle cx="442.88" cy="417.67" r="0.5"/><circle cx="450.67" cy="416.83" r="0.5"/><circle cx="450.84" cy="413.81" r="0.5"/><circle cx="441.02" cy="414.37" r="0.5"/><circle cx="442.51" cy="419.43" r="0.5"/><circle cx="443.7" cy="417.87" r="0.5"/><circle cx="438.58" cy="413" r="0.5"/><circle cx="445.53" cy="417.2" r="0.5"/><circle cx="447.43" cy="411.46" r="0.5"/><circle cx="438.65" cy="411.37" r="0.5"/><circle cx="447.05" cy="414.65" r="0.5"/><circle cx="433.7" cy="420.06" r="0.5"/><circle cx="439.64" cy="417.93" r="0.5"/><circle cx="439.55" cy="420.86" r="0.5"/><circle cx="441.94" cy="417.98" r="0.5"/><circle cx="440.11" cy="420.35" r="0.5"/><circle cx="447.24" cy="415.92" r="0.5"/><circle cx="445.58" cy="412.06" r="0.5"/><circle cx="435.21" cy="415.31" r="0.5"/><circle cx="435.57" cy="418.91" r="0.5"/><circle cx="431.51" cy="411.86" r="0.5"/><circle cx="441.37" cy="414.17" r="0.5"/><circle cx="440.51" cy="417.38" r="0.5"/><circle cx="435.97" cy="415.72" r="0.5"/><circle cx="445.51" cy="417.1" r="0.5"/><circle cx="440.6" cy="419.35" r="0.5"/><circle cx="435.59" cy="413.02" r="0.5"/><circle cx="437.92" cy="422.56" r="0.5"/><circle cx="443.96" cy="424.6" r="0.5"/><circle cx="446.39" cy="420.18" r="0.5"/><circle cx="437.05" cy="411.54" r="0.5"/><circle cx="426.87" cy="417.57" r="0.5"/><circle cx="433.14" cy="413.11" r="0.5"/><circle cx="443.67" cy="418.07" r="0.5"/><circle cx="432.03" cy="417.94" r="0.5"/><circle cx="448.84" cy="420.24" r="0.5"/><circle cx="435.79" cy="420.26" r="0.5"/><circle cx="427.7" cy="416.08" r="0.5"/><circle cx="437.32" cy="421.25" r="0.5"/><circle cx="432.52" cy="413.86" r="0.5"/><circle cx="438" cy="419.62" r="0.5"/><circle cx="431.34" cy="417.88" r="0.5"/><circle cx="437.86" cy="415.52" r="0.5"/><circle cx="432.14" cy="418.49" r="0.5"/><circle cx="441.03" cy="418.53" r="0.5"/><circle cx="441.2" cy="416.69" r="0.5"/><circle cx="434.57" cy="417.02" r="0.5"/><circle cx="445.06" cy="417.54" r="0.5"/><circle cx="443.47" cy="420" r="0.5"/><circle cx="442.23" cy="416.24" r="0.5"/><circle cx="434.03" cy="421.33" r="0.5"/><circle cx="439.06" cy="416.49" r="0.5"/><circle cx="440.7" cy="419.82" r="0.5"/><circle cx="445.55" cy="414.68" r="0.5"/><circle cx="439.65" cy="421" r="0.5"/><circle cx="436.32" cy="417.19" r="0.5"/><circle cx="434.83" cy="412.15" r="0.5"/><circle cx="432.01" cy="417.62" r="0.5"/><circle cx="442.09" cy="408.31" r="0.5"/><circle cx="438.51" cy="416.31" r="0.5"/><circle cx="430.43" cy="416.83" r="0.5"/><circle cx="435.2" cy="421.64" r="0.5"/><circle cx="433.93" cy="420.58" r="0.5"/><circle cx="432.71" cy="413.57" r="0.5"/><circle cx="449.1" cy="414.52" r="0.5"/></g><g fill="#5a74f0" opacity="0.65"><circle cx="457.85" cy="411.57" r="0.5"/><circle cx="462.34" cy="419.06" r="0.5"/><circle cx="458.94" cy="414.87" r="0.5"/><circle cx="461.15" cy="413.64" r="0.5"/><circle cx="451.27" cy="415.66" r="0.5"/><circle cx="458.63" cy="411.14" r="0.5"/><circle cx="442.43" cy="416.72" r="0.5"/><circle cx="451.31" cy="416.68" r="0.5"/><circle cx="468.07" cy="415.38" r="0.5"/><circle cx="456.51" cy="409.16" r="0.5"/><circle cx="472.96" cy="417.78" r="0.5"/><circle cx="455.24" cy="412.86" r="0.5"/><circle cx="464.9" cy="410.5" r="0.5"/><circle cx="466.59" cy="417.89" r="0.5"/><circle cx="451.73" cy="412.83" r="0.5"/><circle cx="474.93" cy="414.29" r="0.5"/><circle cx="462.38" cy="414.66" r="0.5"/><circle cx="445.17" cy="418.07" r="0.5"/><circle cx="473.67" cy="414.05" r="0.5"/><circle cx="454.12" cy="419.36" r="0.5"/><circle cx="449.36" cy="414.74" r="0.5"/><circle cx="450.6" cy="411.54" r="0.5"/><circle cx="456.26" cy="408.77" r="0.5"/><circle cx="451.68" cy="415.62" r="0.5"/><circle cx="455.35" cy="412.71" r="0.5"/><circle cx="480.29" cy="417.5" r="0.5"/><circle cx="457.06" cy="418.28" r="0.5"/><circle cx="466.02" cy="415.94" r="0.5"/><circle cx="466.81" cy="414.59" r="0.5"/><circle cx="456.6" cy="420.03" r="0.5"/><circle cx="461.64" cy="419.35" r="0.5"/><circle cx="445.51" cy="413.19" r="0.5"/><circle cx="453.93" cy="415.84" r="0.5"/><circle cx="460.57" cy="417.97" r="0.5"/><circle cx="465.04" cy="415.5" r="0.5"/><circle cx="465.13" cy="417.32" r="0.5"/><circle cx="463.2" cy="409.34" r="0.5"/><circle cx="457.3" cy="417.06" r="0.5"/><circle cx="457.97" cy="419.03" r="0.5"/><circle cx="457.04" cy="415.67" r="0.5"/><circle cx="454.74" cy="415.19" r="0.5"/><circle cx="469.67" cy="419.09" r="0.5"/><circle cx="467.79" cy="417.22" r="0.5"/><circle cx="462" cy="412.26" r="0.5"/><circle cx="465.9" cy="413.88" r="0.5"/><circle cx="463.25" cy="415.24" r="0.5"/><circle cx="467.65" cy="413.83" r="0.5"/><circle cx="467.2" cy="415.54" r="0.5"/><circle cx="473.67" cy="415.21" r="0.5"/><circle cx="459.83" cy="410.77" r="0.5"/><circle cx="467.84" cy="415.59" r="0.5"/><circle cx="443.88" cy="416.72" r="0.5"/><circle cx="464.81" cy="414.69" r="0.5"/><circle cx="471.14" cy="415.24" r="0.5"/><circle cx="459.88" cy="416.52" r="0.5"/><circle cx="452.31" cy="416.9" r="0.5"/><circle cx="454.4" cy="416.15" r="0.5"/><circle cx="469.6" cy="414.55" r="0.5"/><circle cx="456.08" cy="419.72" r="0.5"/><circle cx="461.3" cy="418.22" r="0.5"/><circle cx="465.68" cy="416.67" r="0.5"/><circle cx="472.15" cy="415.43" r="0.5"/><circle cx="449.17" cy="414.92" r="0.5"/><circle cx="456.44" cy="412.71" r="0.5"/><circle cx="457.98" cy="416.59" r="0.5"/><circle cx="464.99" cy="415.74" r="0.5"/><circle cx="460.05" cy="415.71" r="0.5"/><circle cx="457.69" cy="413.4" r="0.5"/><circle cx="461.72" cy="417.74" r="0.5"/><circle cx="455.52" cy="415.58" r="0.5"/><circle cx="466.51" cy="413.11" r="0.5"/><circle cx="464.07" cy="415.96" r="0.5"/><circle cx="469.11" cy="413.33" r="0.5"/><circle cx="457.75" cy="419.47" r="0.5"/><circle cx="477.08" cy="417.05" r="0.5"/><circle cx="471.89" cy="414.01" r="0.5"/><circle cx="469.01" cy="416.35" r="0.5"/><circle cx="466.57" cy="412.52" r="0.5"/><circle cx="462.49" cy="417.34" r="0.5"/><circle cx="469.95" cy="416.73" r="0.5"/><circle cx="464.63" cy="418.07" r="0.5"/><circle cx="474.63" cy="412.09" r="0.5"/><circle cx="447.01" cy="415.73" r="0.5"/><circle cx="473.94" cy="420.21" r="0.5"/><circle cx="467.1" cy="413.27" r="0.5"/><circle cx="466.07" cy="414.07" r="0.5"/><circle cx="468.01" cy="415.22" r="0.5"/><circle cx="474.55" cy="413.23" r="0.5"/><circle cx="472.81" cy="413.82" r="0.5"/><circle cx="466.8" cy="416.44" r="0.5"/><circle cx="451.22" cy="410.78" r="0.5"/><circle cx="460.05" cy="414.83" r="0.5"/><circle cx="456.76" cy="417.46" r="0.5"/><circle cx="463.71" cy="417.13" r="0.5"/><circle cx="453.31" cy="415.25" r="0.5"/><circle cx="460.12" cy="418.16" r="0.5"/><circle cx="471.19" cy="414.36" r="0.5"/><circle cx="461.22" cy="409.46" r="0.5"/><circle cx="477.18" cy="416.54" r="0.5"/><circle cx="465.37" cy="416.47" r="0.5"/><circle cx="460.11" cy="411.16" r="0.5"/><circle cx="454.17" cy="413.55" r="0.5"/><circle cx="459.53" cy="412.79" r="0.5"/><circle cx="462.93" cy="417.22" r="0.5"/><circle cx="462.66" cy="415.96" r="0.5"/><circle cx="479.71" cy="413.61" r="0.5"/><circle cx="456.21" cy="417.68" r="0.5"/><circle cx="458.49" cy="419.96" r="0.5"/><circle cx="456.12" cy="415.58" r="0.5"/><circle cx="474.73" cy="411.52" r="0.5"/></g><g fill="#5a74f0" opacity="0.65"><circle cx="455.19" cy="388.23" r="0.5"/><circle cx="452.78" cy="395.83" r="0.5"/><circle cx="450.41" cy="390.57" r="0.5"/><circle cx="450.67" cy="395.06" r="0.5"/><circle cx="448.53" cy="385.84" r="0.5"/><circle cx="450.56" cy="378.82" r="0.5"/><circle cx="455.05" cy="383.53" r="0.5"/><circle cx="453.79" cy="370.39" r="0.5"/><circle cx="449.11" cy="379.53" r="0.5"/><circle cx="453.17" cy="375.3" r="0.5"/><circle cx="453.08" cy="392.82" r="0.5"/><circle cx="452.34" cy="387.2" r="0.5"/><circle cx="450.97" cy="380.23" r="0.5"/><circle cx="451.98" cy="387.61" r="0.5"/><circle cx="456.43" cy="387.48" r="0.5"/><circle cx="449.99" cy="391.84" r="0.5"/><circle cx="449.06" cy="372.35" r="0.5"/><circle cx="451.36" cy="381.31" r="0.5"/><circle cx="453.91" cy="385.69" r="0.5"/><circle cx="448.23" cy="381.11" r="0.5"/><circle cx="450.53" cy="400.27" r="0.5"/><circle cx="448.36" cy="378.98" r="0.5"/><circle cx="455.65" cy="396.12" r="0.5"/><circle cx="451.03" cy="395.45" r="0.5"/><circle cx="451.78" cy="379.85" r="0.5"/><circle cx="451.74" cy="392.24" r="0.5"/><circle cx="456.35" cy="384.6" r="0.5"/><circle cx="448.21" cy="387.62" r="0.5"/><circle cx="450.69" cy="381.47" r="0.5"/><circle cx="453.28" cy="387.54" r="0.5"/><circle cx="448.47" cy="381.33" r="0.5"/><circle cx="456.14" cy="384.65" r="0.5"/><circle cx="457.32" cy="369.57" r="0.5"/><circle cx="448.86" cy="386.16" r="0.5"/><circle cx="449.16" cy="387.21" r="0.5"/><circle cx="452.25" cy="376.86" r="0.5"/><circle cx="457.37" cy="398.16" r="0.5"/><circle cx="447.08" cy="384.08" r="0.5"/><circle cx="448.18" cy="383.26" r="0.5"/><circle cx="450.69" cy="384.41" r="0.5"/><circle cx="455.31" cy="394.31" r="0.5"/><circle cx="451.08" cy="388.98" r="0.5"/><circle cx="453.99" cy="375.35" r="0.5"/><circle cx="452.26" cy="379.1" r="0.5"/><circle cx="455.43" cy="394.7" r="0.5"/></g><g transform="rotate(0 438.5 402)"><ellipse cx="438.5" cy="400" rx="7.5" ry="14.5" fill="#7088f2" filter="url(#fb2)"/><ellipse cx="438.5" cy="401" rx="5.2" ry="11" fill="#4464ec" filter="url(#fb2)"/><ellipse cx="438.8" cy="402.5" rx="3.6" ry="8.5" fill="#20b8e0" filter="url(#fb2)"/><ellipse cx="439" cy="404.5" rx="2.6" ry="5.5" fill="#38d060" filter="url(#fb2)"/></g><g transform="rotate(0 438.5 415.5)"><ellipse cx="438.5" cy="415.5" rx="9.5" ry="5.5" fill="#3c5cec" filter="url(#fb2)"/><ellipse cx="438.5" cy="415.5" rx="7.5" ry="4.2" fill="#20b8e0" filter="url(#fb1)"/><ellipse cx="438.5" cy="415.5" rx="6.2" ry="3.4" fill="#38d060" filter="url(#fb1)"/><ellipse cx="438" cy="415.7" rx="4.6" ry="2.4" fill="#e8e020" filter="url(#fb1)"/><ellipse cx="437.7" cy="415.8" rx="3.2" ry="1.6" fill="#f08020" filter="url(#fb1)"/><ellipse cx="437.5" cy="415.8" rx="1.8" ry="0.9" fill="#e83820" filter="url(#fb1)"/></g></g>
<rect x="415.8" y="354.4" width="84" height="84.3" fill="none" stroke="#222" stroke-width="0.9" />
<line x1="447.9" y1="354.4" x2="447.9" y2="438.7" stroke="#222" stroke-width="0.9" />
<line x1="415.8" y1="407.7" x2="499.8" y2="407.7" stroke="#222" stroke-width="0.9" />
<text font-size="8.2" text-anchor="end" fill="#222" stroke="#222" stroke-width="0.2" transform="translate(411.2 367) scale(0.9 1)">10<tspan dy="-3.2" font-size="5.74">5</tspan></text>
<text font-size="8.2" text-anchor="end" fill="#222" stroke="#222" stroke-width="0.2" transform="translate(411.2 387.2) scale(0.9 1)">10<tspan dy="-3.2" font-size="5.74">4</tspan></text>
<text font-size="8.2" text-anchor="end" fill="#222" stroke="#222" stroke-width="0.2" transform="translate(411.2 410.1) scale(0.9 1)">10<tspan dy="-3.2" font-size="5.74">3</tspan></text>
<text font-size="8.2" text-anchor="end" fill="#222" transform="translate(411.2 423.3) scale(0.9 1)" stroke="#222" stroke-width="0.22">0</text>
<text font-size="8.2" text-anchor="end" fill="#222" stroke="#222" stroke-width="0.2" transform="translate(411.2 437.6) scale(0.9 1)">-10<tspan dy="-3.2" font-size="5.74">3</tspan></text>
<line x1="413.2" y1="363.3" x2="415.8" y2="363.3" stroke="#222" stroke-width="1.1" />
<line x1="413.2" y1="383.5" x2="415.8" y2="383.5" stroke="#222" stroke-width="1.1" />
<line x1="413.2" y1="406.4" x2="415.8" y2="406.4" stroke="#222" stroke-width="1.1" />
<line x1="413.2" y1="419.8" x2="415.8" y2="419.8" stroke="#222" stroke-width="1.1" />
<line x1="413.2" y1="434" x2="415.8" y2="434" stroke="#222" stroke-width="1.1" />
<line x1="414.9" y1="414" x2="414.9" y2="426" stroke="#222" stroke-width="1.4" />
<line x1="414.9" y1="356" x2="414.9" y2="372" stroke="#222" stroke-width="0.9" stroke-dasharray="0.7 1.1"/>
<line x1="414.9" y1="374" x2="414.9" y2="396" stroke="#222" stroke-width="0.9" stroke-dasharray="0.7 1.6"/>
<text font-size="8.2" text-anchor="middle" fill="#222" stroke="#222" stroke-width="0.2" transform="translate(423 449.7) scale(0.9 1)">-10<tspan dy="-3.2" font-size="5.74">3</tspan></text>
<text font-size="8.2" text-anchor="middle" fill="#222" transform="translate(436 449.7) scale(0.9 1)" stroke="#222" stroke-width="0.22">0</text>
<text font-size="8.2" text-anchor="middle" fill="#222" stroke="#222" stroke-width="0.2" transform="translate(448.7 449.7) scale(0.9 1)">10<tspan dy="-3.2" font-size="5.74">3</tspan></text>
<text font-size="8.2" text-anchor="middle" fill="#222" stroke="#222" stroke-width="0.2" transform="translate(472.9 449.7) scale(0.9 1)">10<tspan dy="-3.2" font-size="5.74">4</tspan></text>
<text font-size="8.2" text-anchor="middle" fill="#222" stroke="#222" stroke-width="0.2" transform="translate(492.5 449.7) scale(0.9 1)">10<tspan dy="-3.2" font-size="5.74">5</tspan></text>
<line x1="423" y1="438.7" x2="423" y2="441.3" stroke="#222" stroke-width="1.1" />
<line x1="436" y1="438.7" x2="436" y2="441.3" stroke="#222" stroke-width="1.1" />
<line x1="448.7" y1="438.7" x2="448.7" y2="441.3" stroke="#222" stroke-width="1.1" />
<line x1="472.9" y1="438.7" x2="472.9" y2="441.3" stroke="#222" stroke-width="1.1" />
<line x1="492.5" y1="438.7" x2="492.5" y2="441.3" stroke="#222" stroke-width="1.1" />
<line x1="430" y1="439.6" x2="442" y2="439.6" stroke="#222" stroke-width="1.4" />
<line x1="451.7" y1="439.6" x2="469.9" y2="439.6" stroke="#222" stroke-width="0.9" stroke-dasharray="0.7 1.6"/>
<line x1="475.9" y1="439.6" x2="498.8" y2="439.6" stroke="#222" stroke-width="0.9" stroke-dasharray="0.7 1.3"/>
<text font-size="10.6" text-anchor="middle" fill="#222" transform="translate(456.2 463.4)" textLength="13.5" lengthAdjust="spacingAndGlyphs" stroke="#222" stroke-width="0.22">IgM</text>
<text font-size="10.6" text-anchor="middle" fill="#222" transform="translate(389.7 398.7) rotate(-90)" textLength="12.8" lengthAdjust="spacingAndGlyphs" stroke="#222" stroke-width="0.22">BP1</text>
<text x="419" y="364" font-size="7" text-anchor="start" fill="#333">42.7</text>
<text x="496.3" y="364" font-size="7" text-anchor="end" fill="#333">2.84</text>
<text x="419" y="435.2" font-size="7" text-anchor="start" fill="#333">50.8</text>
<text x="496.3" y="435.2" font-size="7" text-anchor="end" fill="#333">3.68</text>
<text x="7.3" y="351.3" font-size="12.5" text-anchor="start" fill="#000" font-weight="bold">F</text>
<rect x="14" y="491.5" width="226" height="67.5" fill="#b9c3cf" />
<line x1="13.6" y1="491.2" x2="240.2" y2="491.2" stroke="#111" stroke-width="1.3" />
<line x1="33.7" y1="488.3" x2="33.7" y2="491.2" stroke="#111" stroke-width="0.9" />
<line x1="78.9" y1="488.3" x2="78.9" y2="491.2" stroke="#111" stroke-width="0.9" />
<line x1="123.9" y1="488.3" x2="123.9" y2="491.2" stroke="#111" stroke-width="0.9" />
<line x1="169.3" y1="488.3" x2="169.3" y2="491.2" stroke="#111" stroke-width="0.9" />
<line x1="214.6" y1="488.3" x2="214.6" y2="491.2" stroke="#111" stroke-width="0.9" />
<text x="17.5" y="483.8" font-size="6.6" text-anchor="start" fill="#111" stroke="#111" stroke-width="0.1">134,000 kb</text>
<text x="107.8" y="483.8" font-size="6.6" text-anchor="start" fill="#111" stroke="#111" stroke-width="0.1">134,100 kb</text>
<text x="198.6" y="483.8" font-size="6.6" text-anchor="start" fill="#111" stroke="#111" stroke-width="0.1">134,200 kb</text>
<text x="14" y="489.8" font-size="5.8" text-anchor="start" fill="#222">chr6</text>
<path d="M224.8 491.8 L229 491.8 L229 506 L229.4 512 L229.4 524 L228.8 530 L229.4 538 L229.2 559 L225 559 L225 540 L224.6 530 L225.2 522 L224.6 510 Z" fill="#111da2"/>
<rect x="235.3" y="525.6" width="1.2" height="5.4" fill="#111da2" />
<text font-size="5.6" text-anchor="start" fill="#111" transform="translate(242.6 495.8) scale(0.92 1)" stroke="#111" stroke-width="0.22">847_BM</text>
<text font-size="5.6" text-anchor="start" fill="#111" transform="translate(242.6 501.58) scale(0.92 1)" stroke="#111" stroke-width="0.22">847_SPL</text>
<text font-size="5.6" text-anchor="start" fill="#111" transform="translate(242.6 507.36) scale(0.92 1)" stroke="#111" stroke-width="0.22">855_BM</text>
<text font-size="5.6" text-anchor="start" fill="#111" transform="translate(242.6 513.14) scale(0.92 1)" stroke="#111" stroke-width="0.22">855_SPL</text>
<text font-size="5.6" text-anchor="start" fill="#111" transform="translate(242.6 518.92) scale(0.92 1)" stroke="#111" stroke-width="0.22">859_BM</text>
<text font-size="5.6" text-anchor="start" fill="#111" transform="translate(242.6 524.7) scale(0.92 1)" stroke="#111" stroke-width="0.22">859_SPL</text>
<text font-size="5.6" text-anchor="start" fill="#111" transform="translate(242.6 530.48) scale(0.92 1)" stroke="#111" stroke-width="0.22">864_BM</text>
<text font-size="5.6" text-anchor="start" fill="#111" transform="translate(242.6 536.26) scale(0.92 1)" stroke="#111" stroke-width="0.22">870_BM</text>
<text font-size="5.6" text-anchor="start" fill="#111" transform="translate(242.6 542.04) scale(0.92 1)" stroke="#111" stroke-width="0.22">870_SPL</text>
<text font-size="5.6" text-anchor="start" fill="#111" transform="translate(242.6 547.82) scale(0.92 1)" stroke="#111" stroke-width="0.22">872_BM</text>
<text font-size="5.6" text-anchor="start" fill="#111" transform="translate(242.6 553.6) scale(0.92 1)" stroke="#111" stroke-width="0.22">878_BM</text>
<text font-size="5.6" text-anchor="start" fill="#111" transform="translate(242.6 559.38) scale(0.92 1)" stroke="#111" stroke-width="0.22">878_SPL</text>
<line x1="20.2" y1="564.6" x2="232.8" y2="564.6" stroke="#171782" stroke-width="0.8" />
<rect x="19.7" y="562.35" width="1.6" height="4.5" fill="#171782" />
<rect x="28.2" y="563.6" width="1.6" height="2" fill="#171782" />
<rect x="35.7" y="563.6" width="1.6" height="2" fill="#171782" />
<rect x="47.2" y="563.6" width="1.6" height="2" fill="#171782" />
<rect x="53.7" y="563.6" width="1.6" height="2" fill="#171782" />
<rect x="59.2" y="563.6" width="1.6" height="2" fill="#171782" />
<rect x="65.2" y="563.6" width="1.6" height="2" fill="#171782" />
<rect x="70.7" y="563.6" width="1.6" height="2" fill="#171782" />
<rect x="76.2" y="563.6" width="1.6" height="2" fill="#171782" />
<rect x="82.2" y="563.6" width="1.6" height="2" fill="#171782" />
<rect x="87.7" y="563.6" width="1.6" height="2" fill="#171782" />
<rect x="93.2" y="563.6" width="1.6" height="2" fill="#171782" />
<rect x="98.7" y="563.6" width="1.6" height="2" fill="#171782" />
<rect x="104.2" y="563.6" width="1.6" height="2" fill="#171782" />
<rect x="110.2" y="563.6" width="1.6" height="2" fill="#171782" />
<rect x="112.7" y="562.35" width="1.6" height="4.5" fill="#171782" />
<rect x="116.7" y="563.6" width="1.6" height="2" fill="#171782" />
<rect x="128.2" y="563.6" width="1.6" height="2" fill="#171782" />
<rect x="139.2" y="563.6" width="1.6" height="2" fill="#171782" />
<rect x="150.7" y="563.6" width="1.6" height="2" fill="#171782" />
<rect x="162.2" y="563.6" width="1.6" height="2" fill="#171782" />
<rect x="173.2" y="563.6" width="1.6" height="2" fill="#171782" />
<rect x="184.2" y="563.6" width="1.6" height="2" fill="#171782" />
<rect x="187.7" y="562.35" width="1.6" height="4.5" fill="#171782" />
<rect x="191.7" y="562.85" width="1.6" height="3.5" fill="#171782" />
<rect x="197.2" y="562.35" width="1.6" height="4.5" fill="#171782" />
<rect x="202.2" y="562.85" width="1.6" height="3.5" fill="#171782" />
<rect x="211.2" y="562.35" width="1.6" height="4.5" fill="#171782" />
<rect x="217.2" y="562.85" width="1.6" height="3.5" fill="#171782" />
<rect x="225.7" y="562.1" width="1.6" height="5" fill="#171782" />
<rect x="229.7" y="562.6" width="1.6" height="4" fill="#171782" />
<path d="M24.2 563.3 L25.8 564.6 L24.2 565.9" fill="none" stroke="#171782" stroke-width="0.5"/>
<path d="M41.2 563.3 L42.8 564.6 L41.2 565.9" fill="none" stroke="#171782" stroke-width="0.5"/>
<path d="M58.2 563.3 L59.8 564.6 L58.2 565.9" fill="none" stroke="#171782" stroke-width="0.5"/>
<path d="M75.2 563.3 L76.8 564.6 L75.2 565.9" fill="none" stroke="#171782" stroke-width="0.5"/>
<path d="M92.2 563.3 L93.8 564.6 L92.2 565.9" fill="none" stroke="#171782" stroke-width="0.5"/>
<path d="M109.2 563.3 L110.8 564.6 L109.2 565.9" fill="none" stroke="#171782" stroke-width="0.5"/>
<path d="M126.2 563.3 L127.8 564.6 L126.2 565.9" fill="none" stroke="#171782" stroke-width="0.5"/>
<path d="M143.2 563.3 L144.8 564.6 L143.2 565.9" fill="none" stroke="#171782" stroke-width="0.5"/>
<path d="M160.2 563.3 L161.8 564.6 L160.2 565.9" fill="none" stroke="#171782" stroke-width="0.5"/>
<path d="M177.2 563.3 L178.8 564.6 L177.2 565.9" fill="none" stroke="#171782" stroke-width="0.5"/>
<path d="M194.2 563.3 L195.8 564.6 L194.2 565.9" fill="none" stroke="#171782" stroke-width="0.5"/>
<path d="M211.2 563.3 L212.8 564.6 L211.2 565.9" fill="none" stroke="#171782" stroke-width="0.5"/>
<path d="M228.2 563.3 L229.8 564.6 L228.2 565.9" fill="none" stroke="#171782" stroke-width="0.5"/>
<rect x="225.6" y="562.2" width="2.6" height="4.8" fill="#171782" />
<text x="145.8" y="575.6" font-size="6" text-anchor="middle" fill="#3040b0" stroke="#3040b0" stroke-width="0.1">Etv6</text>
<rect x="7.5" y="596.3" width="232.5" height="67.7" fill="#b9c3cf" />
<line x1="7.2" y1="595.8" x2="240.2" y2="595.8" stroke="#111" stroke-width="1.3" />
<line x1="72.7" y1="593" x2="72.7" y2="595.8" stroke="#111" stroke-width="0.9" />
<line x1="185.2" y1="593" x2="185.2" y2="595.8" stroke="#111" stroke-width="0.9" />
<text x="58.8" y="589.3" font-size="6.6" text-anchor="start" fill="#111" stroke="#111" stroke-width="0.1">11,600 kb</text>
<text x="171.2" y="589.3" font-size="6.6" text-anchor="start" fill="#111" stroke="#111" stroke-width="0.1">11,650 kb</text>
<text x="7.3" y="594.3" font-size="5.8" text-anchor="start" fill="#222">chr11</text>
<rect x="11.6" y="630.8" width="205.2" height="5.9" fill="#111da2" />
<text font-size="5.6" text-anchor="start" fill="#111" transform="translate(242.6 600.7) scale(0.92 1)" stroke="#111" stroke-width="0.22">847_BM</text>
<text font-size="5.6" text-anchor="start" fill="#111" transform="translate(242.6 606.45) scale(0.92 1)" stroke="#111" stroke-width="0.22">847_SPL</text>
<text font-size="5.6" text-anchor="start" fill="#111" transform="translate(242.6 612.2) scale(0.92 1)" stroke="#111" stroke-width="0.22">855_BM</text>
<text font-size="5.6" text-anchor="start" fill="#111" transform="translate(242.6 617.95) scale(0.92 1)" stroke="#111" stroke-width="0.22">855_SPL</text>
<text font-size="5.6" text-anchor="start" fill="#111" transform="translate(242.6 623.7) scale(0.92 1)" stroke="#111" stroke-width="0.22">859_BM</text>
<text font-size="5.6" text-anchor="start" fill="#111" transform="translate(242.6 629.45) scale(0.92 1)" stroke="#111" stroke-width="0.22">859_SPL</text>
<text font-size="5.6" text-anchor="start" fill="#111" transform="translate(242.6 635.2) scale(0.92 1)" stroke="#111" stroke-width="0.22">864_BM</text>
<text font-size="5.6" text-anchor="start" fill="#111" transform="translate(242.6 640.95) scale(0.92 1)" stroke="#111" stroke-width="0.22">870_BM</text>
<text font-size="5.6" text-anchor="start" fill="#111" transform="translate(242.6 646.7) scale(0.92 1)" stroke="#111" stroke-width="0.22">870_SPL</text>
<text font-size="5.6" text-anchor="start" fill="#111" transform="translate(242.6 652.45) scale(0.92 1)" stroke="#111" stroke-width="0.22">872_BM</text>
<text font-size="5.6" text-anchor="start" fill="#111" transform="translate(242.6 658.2) scale(0.92 1)" stroke="#111" stroke-width="0.22">878_BM</text>
<text font-size="5.6" text-anchor="start" fill="#111" transform="translate(242.6 663.95) scale(0.92 1)" stroke="#111" stroke-width="0.22">878_SPL</text>
<line x1="41.5" y1="669.3" x2="234.8" y2="669.3" stroke="#171782" stroke-width="0.8" />
<rect x="41.2" y="667.8" width="1.6" height="3" fill="#171782" />
<rect x="45.7" y="668.05" width="1.6" height="2.5" fill="#171782" />
<rect x="49.2" y="668.05" width="1.6" height="2.5" fill="#171782" />
<rect x="54.2" y="667.8" width="1.6" height="3" fill="#171782" />
<rect x="57.2" y="668.05" width="1.6" height="2.5" fill="#171782" />
<rect x="67.2" y="668.05" width="1.6" height="2.5" fill="#171782" />
<rect x="70.2" y="667.8" width="1.6" height="3" fill="#171782" />
<rect x="72.9" y="666.8" width="1.6" height="5" fill="#171782" />
<rect x="77.2" y="668.05" width="1.6" height="2.5" fill="#171782" />
<rect x="89.7" y="666.8" width="1.6" height="5" fill="#171782" />
<rect x="94.7" y="667.8" width="1.6" height="3" fill="#171782" />
<rect x="106.2" y="668.05" width="1.6" height="2.5" fill="#171782" />
<rect x="117.2" y="668.05" width="1.6" height="2.5" fill="#171782" />
<rect x="128.2" y="668.05" width="1.6" height="2.5" fill="#171782" />
<rect x="139.2" y="668.05" width="1.6" height="2.5" fill="#171782" />
<rect x="151.2" y="668.05" width="1.6" height="2.5" fill="#171782" />
<rect x="162.2" y="668.05" width="1.6" height="2.5" fill="#171782" />
<rect x="173.7" y="667.8" width="1.6" height="3" fill="#171782" />
<rect x="179.2" y="667.05" width="1.6" height="4.5" fill="#171782" />
<rect x="185.2" y="667.8" width="1.6" height="3" fill="#171782" />
<rect x="192.7" y="666.8" width="1.6" height="5" fill="#171782" />
<rect x="197.7" y="667.8" width="1.6" height="3" fill="#171782" />
<rect x="201.7" y="667.05" width="1.6" height="4.5" fill="#171782" />
<rect x="206.2" y="667.05" width="1.6" height="4.5" fill="#171782" />
<rect x="208.7" y="667.8" width="1.6" height="3" fill="#171782" />
<rect x="214.2" y="667.8" width="1.6" height="3" fill="#171782" />
<path d="M45.5 668 L47.1 669.3 L45.5 670.6" fill="none" stroke="#171782" stroke-width="0.5"/>
<path d="M62.5 668 L64.1 669.3 L62.5 670.6" fill="none" stroke="#171782" stroke-width="0.5"/>
<path d="M79.5 668 L81.1 669.3 L79.5 670.6" fill="none" stroke="#171782" stroke-width="0.5"/>
<path d="M96.5 668 L98.1 669.3 L96.5 670.6" fill="none" stroke="#171782" stroke-width="0.5"/>
<path d="M113.5 668 L115.1 669.3 L113.5 670.6" fill="none" stroke="#171782" stroke-width="0.5"/>
<path d="M130.5 668 L132.1 669.3 L130.5 670.6" fill="none" stroke="#171782" stroke-width="0.5"/>
<path d="M147.5 668 L149.1 669.3 L147.5 670.6" fill="none" stroke="#171782" stroke-width="0.5"/>
<path d="M164.5 668 L166.1 669.3 L164.5 670.6" fill="none" stroke="#171782" stroke-width="0.5"/>
<path d="M181.5 668 L183.1 669.3 L181.5 670.6" fill="none" stroke="#171782" stroke-width="0.5"/>
<path d="M198.5 668 L200.1 669.3 L198.5 670.6" fill="none" stroke="#171782" stroke-width="0.5"/>
<path d="M215.5 668 L217.1 669.3 L215.5 670.6" fill="none" stroke="#171782" stroke-width="0.5"/>
<path d="M226.5 666.8 L229.5 666.8 L229.5 668 L235.2 668 L235.2 670.8 L229.5 670.8 L229.5 671.8 L226.5 671.8 Z" fill="#171782"/>
<text x="138" y="680" font-size="6" text-anchor="middle" fill="#3040b0" stroke="#3040b0" stroke-width="0.1" font-style="italic">Ikzf1</text>
<text x="7" y="475.3" font-size="12.5" text-anchor="start" fill="#000" font-weight="bold">G</text>
<path d="M382.66 617.29 L383.25 621.11 C386.19 627.9 389.72 630.62 394.42 630.45 C402.66 630.02 413.24 626.2 425 623.66 C436.76 621.53 448.52 620.69 463.81 619.41 L463.81 616.44 L425 617.29 Z" fill="#bccbc6"/>
<g fill="#bccbc6"><circle cx="417.22" cy="623.42" r="0.8"/><circle cx="422.17" cy="623.12" r="0.8"/><circle cx="393.29" cy="623.95" r="0.8"/><circle cx="433.08" cy="620.85" r="0.8"/><circle cx="384.89" cy="620.66" r="0.8"/><circle cx="435.23" cy="622.81" r="0.8"/><circle cx="393.78" cy="626.93" r="0.8"/><circle cx="416.16" cy="620.3" r="0.8"/><circle cx="423.18" cy="622.53" r="0.8"/><circle cx="421.45" cy="622.29" r="0.8"/><circle cx="417.66" cy="626.53" r="0.8"/><circle cx="404.96" cy="627.07" r="0.8"/><circle cx="402.62" cy="628.82" r="0.8"/><circle cx="426.77" cy="624.66" r="0.8"/><circle cx="393.83" cy="621.52" r="0.8"/><circle cx="388.49" cy="622.5" r="0.8"/><circle cx="395.81" cy="626.62" r="0.8"/><circle cx="403.97" cy="619.83" r="0.8"/><circle cx="395.62" cy="625.25" r="0.8"/><circle cx="385.75" cy="618.68" r="0.8"/><circle cx="395.84" cy="626.75" r="0.8"/><circle cx="403.27" cy="628.79" r="0.8"/><circle cx="398.5" cy="622.96" r="0.8"/><circle cx="410.01" cy="624.6" r="0.8"/><circle cx="428.14" cy="620.04" r="0.8"/><circle cx="399.08" cy="627.51" r="0.8"/><circle cx="442.87" cy="619.22" r="0.8"/><circle cx="394.35" cy="619.11" r="0.8"/><circle cx="398.09" cy="621.82" r="0.8"/><circle cx="399.75" cy="620.51" r="0.8"/><circle cx="392.46" cy="621.65" r="0.8"/><circle cx="426.78" cy="620.19" r="0.8"/><circle cx="392.54" cy="625.53" r="0.8"/><circle cx="409.15" cy="619.77" r="0.8"/><circle cx="439.43" cy="618.97" r="0.8"/><circle cx="419.88" cy="621.54" r="0.8"/><circle cx="405.29" cy="618.57" r="0.8"/><circle cx="442.65" cy="619.66" r="0.8"/><circle cx="442.66" cy="621.83" r="0.8"/><circle cx="447.68" cy="619.5" r="0.8"/><circle cx="408.23" cy="622.04" r="0.8"/><circle cx="414.07" cy="620.87" r="0.8"/><circle cx="428.86" cy="622.88" r="0.8"/><circle cx="416.16" cy="620.35" r="0.8"/><circle cx="431.71" cy="619.44" r="0.8"/><circle cx="399.65" cy="629.48" r="0.8"/><circle cx="403.69" cy="622.12" r="0.8"/><circle cx="394.89" cy="627.73" r="0.8"/><circle cx="416.28" cy="619.76" r="0.8"/><circle cx="406.01" cy="622.25" r="0.8"/><circle cx="394.53" cy="624.84" r="0.8"/><circle cx="448.82" cy="619.51" r="0.8"/><circle cx="388.95" cy="624.12" r="0.8"/><circle cx="451.6" cy="620.23" r="0.8"/><circle cx="440.35" cy="619.11" r="0.8"/><circle cx="401.52" cy="627.73" r="0.8"/><circle cx="417.06" cy="626.56" r="0.8"/><circle cx="395.92" cy="625.03" r="0.8"/><circle cx="404.97" cy="620.34" r="0.8"/><circle cx="404.4" cy="620.86" r="0.8"/><circle cx="433.09" cy="622.37" r="0.8"/><circle cx="448.94" cy="619.02" r="0.8"/><circle cx="401.13" cy="625.78" r="0.8"/><circle cx="431.7" cy="621.25" r="0.8"/><circle cx="411.95" cy="620.86" r="0.8"/><circle cx="432.69" cy="619.56" r="0.8"/><circle cx="410.46" cy="623.32" r="0.8"/><circle cx="441.31" cy="620.57" r="0.8"/><circle cx="434.13" cy="621.68" r="0.8"/><circle cx="395.85" cy="619.67" r="0.8"/><circle cx="424.78" cy="620.87" r="0.8"/><circle cx="405.42" cy="619.56" r="0.8"/><circle cx="425.97" cy="621.12" r="0.8"/><circle cx="354.5" cy="617.5" r="0.9"/></g>
<path d="M394.72 618.31 L393.84 604.13 L392.48 587.15 L390.01 570.17 L387.07 559.98 C385.02 554.89 382.66 556.59 380.31 563.38 L378.55 573.57 L376.78 587.15 L375.61 604.13 L375.61 618.31 Z" fill="#566a6a"/>
<path d="M396.66 618.31 L397.48 604.13 L398.83 587.15 L401.36 568.47 L404.42 557.44 C406.77 552.34 409.12 556.59 410.89 565.08 L412.65 576.96 L414.42 590.55 L416.18 604.13 L417.36 618.31 Z" fill="#566a6a"/>
<path d="M381.13 606.88h0M393.29 614.07h0M381 597.95h0M372.75 566.97h0M362.74 536.66h0M372.88 534.85h0M388.55 611.3h0M383.63 608.71h0M384.71 589.77h0M377.38 566.32h0M390.15 607.84h0M356.07 566.03h0M379.87 611.77h0M385.08 597.5h0M388.53 612.02h0M384.58 598.71h0M371.11 617.52h0M388.43 597.98h0M379.46 573.07h0M382.43 599.39h0M389.25 616.4h0M366.06 603.35h0M374.15 546.32h0M392.28 600.35h0M378.55 602.38h0M373.53 553.64h0M392.31 607.62h0M365.43 591.35h0M383.59 614.42h0M393.22 617.66h0M385.33 611.09h0M390.43 607.42h0M391.64 591.22h0M390.08 581.53h0M390.62 598.3h0M388.64 612.14h0M389.45 602.22h0M387.13 603.36h0M392.74 613.43h0M381.85 590.35h0M374.77 597.18h0M372.46 591.8h0M383.83 610.89h0M358.94 571.7h0M390.96 607.67h0M375.46 546.56h0M383.75 557.09h0M384.18 610.64h0M393.39 609.89h0M382.05 568.3h0M388.87 574.59h0M383.71 603.87h0M393.18 617.81h0M364.92 586.18h0M389.47 614.87h0M382.53 578.54h0M389.92 585.88h0M393.81 616.26h0M389.2 617.24h0M385.29 598.05h0M392.96 613.87h0M380.44 611.92h0M377.01 545.02h0M373.72 616.52h0M380.32 600.94h0M388.84 607.22h0M387.96 598.02h0M392.78 592.57h0M370.59 584.48h0M389.86 612.7h0M385.22 580.64h0M392.98 612.23h0M393.21 598.18h0M359.63 555.64h0M369.15 584.14h0M387.21 590.5h0M385.65 592.66h0M386.35 572.53h0M359.47 550.44h0M369.33 576.14h0M373.93 603.73h0M368.55 558.94h0M372.82 577.46h0M382.57 603.73h0M391.69 616.26h0M393.46 600.58h0M385.37 606h0M389.98 590.9h0M355.3 537.21h0M385.03 606.76h0M385.41 594.69h0M379.59 589.51h0M388.24 617.66h0M387.94 580.7h0M393.37 603.92h0M390.79 612.22h0M392.5 615.4h0M370.05 552.17h0M374.82 589.84h0M388.24 616.09h0M390.62 578.41h0M375.11 543.74h0M391.83 600.43h0M384.53 599.14h0M374.61 616.62h0M387.11 603.01h0M388.22 592.79h0M385.6 608.88h0M389.8 595.27h0M387.73 582.98h0M392.81 617.91h0M393.48 617.08h0M385.16 578.94h0M362.45 554.48h0M374.16 537.32h0M373.92 552.2h0M388.47 610.48h0M353.95 540.73h0M377.52 570.77h0M387.52 614.88h0M391.53 601.27h0M389.47 616.81h0M390.29 614.59h0M385.74 587.43h0M387.31 609.79h0M380.42 603.07h0M393.31 610.68h0M361.06 555.77h0M388.04 590.83h0M385 609.43h0M384.12 594.99h0M377.71 590.22h0M392.2 612.41h0M345.85 549h0M394.22 617.18h0M389.78 609.45h0M391.64 590.95h0M392.49 596.45h0M386.66 615.78h0M383.31 595.9h0M388.34 605.22h0M391.1 611.68h0M369.17 580.04h0M393.7 616.14h0M377.14 571.9h0M388 577.28h0M391.08 602.84h0M384.04 571.8h0M387.47 607.28h0M360.4 579.9h0M389.61 602.67h0M379.86 615.45h0M393.97 616.02h0M386.46 595.04h0M388.27 585.91h0M389.89 576.45h0M386.03 611.59h0M392.04 615.92h0M377.65 582.14h0M392.91 608.99h0M383.01 605.9h0M392.86 605.52h0M382.14 583.7h0M372.02 549.77h0M385.54 572.79h0M389.87 607.6h0M390.72 610.31h0M390.09 605.56h0M389.58 604.2h0M388.1 612.23h0M380.26 573.62h0M377.84 567.59h0M383.81 612.86h0M381.53 558.69h0M389.8 617.68h0M384.96 596.3h0M374.78 588.8h0M389.13 616.45h0M389.52 574.84h0M385.24 615.92h0M382.75 554.06h0M391.05 590.14h0M378.62 579.94h0M392.29 610.42h0M381.83 577.69h0M384.81 577.77h0M365.29 606.76h0M384.85 587.04h0M380.76 596.71h0M363.25 583.81h0M378.39 603.5h0M371.16 587.52h0M366.39 572.38h0M384.67 589.66h0M373.02 583.62h0M388.9 602.97h0M384.6 613.88h0M392.33 605.12h0M390.13 611.9h0M392.07 616.6h0M387.05 614.89h0M388.37 576.4h0M390.37 616.5h0M368.49 593.73h0M393.87 617.27h0M392.53 612.59h0M384.48 610.79h0M390.33 593h0M391.9 612.58h0M383.89 613h0M387.58 607.84h0M381.19 570.71h0M377 609.85h0M374.45 549.49h0M362.14 596.1h0M391.17 599.85h0M374.45 616.88h0M383.96 573.02h0M386.26 597.3h0M389.59 588.28h0M390.42 618h0M380.31 605.29h0M380.99 583.31h0M393.17 613.51h0M391.57 607.43h0M376.59 561.31h0M388.13 609.62h0M383.68 613.73h0M383.27 618.27h0M364.25 565.86h0M392.37 615.9h0M390.66 582.99h0M387.62 599.98h0M382.94 563.75h0M383.63 574.67h0M379.32 548.66h0M386.62 569.26h0M385.88 596.35h0M381.33 613.5h0M391.03 607.85h0M392.04 616.09h0M382 600.67h0M384.12 605.82h0M390.97 615.18h0M362.35 600.95h0M375.05 568.71h0M391.53 617.96h0M388.79 583.63h0M386.97 595.04h0M387.38 573.29h0M389.21 591.49h0M387.25 605.1h0M390.77 608.39h0M384.33 604.36h0M392.45 610.01h0M386.85 581.47h0M360.17 537.03h0M386.97 582.26h0M388.49 569.17h0M393.73 614.06h0M378.54 586.59h0M390.54 612.75h0M376.81 567.5h0M392.75 615.66h0M393.45 613.52h0M393.14 603.68h0M370.68 547.33h0M383.4 598.23h0M369.42 577.51h0M390.39 604.65h0M393.64 603.42h0M383.32 603.96h0M376.6 574.63h0M392.68 592.03h0M390.55 607.05h0M391.39 588.84h0M387.79 605.02h0M368.03 574.78h0M391.05 591.82h0M361.74 577.55h0M388.9 596.05h0M391.97 598.87h0M381.29 597.98h0M386.41 567.74h0M357.28 537.1h0M393.68 612.13h0M387.54 610.45h0M387.55 584.85h0M370.53 544.18h0M392.36 600.89h0M377.51 614.23h0M385.13 596.34h0M390.06 595.28h0M377.56 570.65h0M382 614.64h0M375.88 608.77h0M387.62 610.59h0M386.88 568.54h0M392.41 596.07h0M393.32 617.4h0M357.14 539.74h0M385.02 608.01h0M385.73 580.82h0M376.2 593.2h0M393.2 617.85h0M392.14 600.63h0M386.59 604.63h0M388.94 612.96h0M387.56 609.73h0M385.51 607h0M387.09 617.23h0M371.14 613.93h0M386.33 592.63h0M385.18 603.46h0M376.07 585.56h0M383.13 579.28h0M362.18 567.27h0M388.79 603.57h0M369.44 594.92h0M386.09 597.39h0M372.71 602.45h0M393.58 607.47h0M364.29 582.08h0M380.71 581.42h0M386.84 579.26h0M392.21 593.09h0M390.23 614.58h0M388.61 598.74h0M386.48 616.81h0M390.65 597.38h0M389.99 608.06h0M393.7 610.77h0M370.16 587.61h0M379.23 602.98h0M383.76 611.28h0M369.61 594.87h0M383.43 615.4h0M388.95 614.61h0M374.14 533.83h0M391.46 610.47h0M393.5 607.31h0M358.06 555.13h0M390 604.12h0M392.52 593.63h0M379.18 617.42h0M388.46 608h0M391.4 600.38h0M373.46 608.5h0M381.08 554.68h0M383.21 567.33h0M391.79 600.39h0M386.76 611.99h0M378.42 612.35h0M393.86 616.87h0M387.26 582.06h0M351.29 553.71h0M390.22 583.32h0M360.24 584.95h0M392.91 601.8h0M391.46 611.23h0M389.4 583.57h0M392.37 612.71h0M375.19 587.7h0M384.64 605.25h0M372.57 557.85h0M391.51 611.02h0M359.76 545.08h0M386.02 609.23h0M386.9 602.05h0M392.83 597.11h0M389.45 592.66h0M381.51 610.21h0M392.21 615.75h0M387.76 578.82h0M387.81 609.14h0M377.35 612.53h0M390.46 617.35h0M385.36 579.4h0M366.22 544.1h0M388.32 612.75h0M387.81 589.3h0M375.74 588.23h0M386.58 597.93h0M372.51 566h0M364.16 597.71h0M383.16 612.96h0M387.49 613.25h0M389.76 610.79h0M371.36 576.76h0M387.1 574.43h0M391.12 599.49h0M386 594h0M388.49 617.3h0M381.9 583.17h0M384.19 560.52h0M394.3 613.7h0M388.06 599.11h0M390.91 601.98h0M389.46 573.42h0M368.99 551.67h0M377.79 596.35h0M393.02 610.69h0M393.72 607.87h0M386.12 607.73h0M390.33 597.42h0M392.03 593.42h0M387.4 570.18h0M392.84 610.07h0M371.93 585.43h0M389.87 575.02h0M389.8 603.5h0M390.06 617.1h0M390.02 613.93h0M390.94 580.03h0M377.1 610.6h0M390.83 614.03h0M389.64 608.39h0M394.34 616.08h0M374.55 577.94h0M392.01 610.99h0M390.43 595.82h0M368.89 600.96h0M390.44 605.63h0M392.43 591.86h0M384.64 603.85h0M391.72 616.62h0M369.25 585.07h0M370.61 593.28h0M389 600.91h0M382.26 566.43h0M387.68 575.72h0M392.27 606.35h0M391.42 595.96h0M392.49 611.93h0M390.16 600.64h0M370 586.46h0M390.66 611.9h0M386.42 616.19h0M391.21 605.68h0M393.34 617.78h0M390.25 609.78h0M357.99 546.27h0M390.63 609.54h0M374.23 613.64h0M381.67 605.82h0M363.54 582.3h0M392.07 617.73h0M393.12 604.72h0M380.44 558.34h0M381.73 577.05h0M391.18 616.73h0M393.92 610.68h0M387.82 613.73h0M392.13 617.4h0M386.75 602.85h0M385.59 614.21h0M384.02 609.86h0M390.75 587.57h0M391.83 611.89h0M385.83 583.36h0M376.52 604.62h0M391.62 611.13h0M391.95 606.46h0M394.48 617.14h0M383.82 590.42h0M385.13 608.39h0M376.34 547.87h0M379.73 585.57h0M386.51 610.82h0M390.63 615.67h0M393.31 604.35h0M390.45 604.76h0M390.33 599.05h0M390.64 613.47h0M391.84 600.24h0M389.48 587.65h0M391.6 615.57h0M392.29 602.94h0M380.69 593.83h0M381.21 595.74h0M391.33 617.66h0M393.38 605.62h0M393.32 603.79h0M385.13 599.14h0M389.92 600.58h0M394.02 610.12h0M375.35 606.36h0M390.06 594.94h0M390.21 587.41h0M384.74 600.56h0M364.6 531.64h0M364.12 594.26h0M378.48 576.95h0M387.2 591.14h0M390.91 603.26h0M360.42 568.73h0M373.21 604.83h0M393.66 617.22h0M389.87 598.49h0M392.87 613.76h0M385.49 611.04h0M394.24 610.82h0M388.29 596.32h0M388.96 610.64h0M383.95 588.88h0M384.03 590.87h0M390.48 606.94h0M380.34 557.39h0M377.89 583.05h0M354.52 585.81h0M387.5 569.57h0M385.65 591.08h0M388.49 595.06h0M383.06 608.88h0M390.62 596.92h0M391.15 610.27h0M389.01 612.82h0M394.01 614.54h0M393.85 616.31h0M390.65 584.13h0M380.18 601.48h0M391.85 599.95h0M357.37 561.94h0M392.61 616.77h0M378.22 598.47h0M382.94 604.35h0M384.37 610.18h0M390.68 607.22h0M368.18 578.41h0M378.2 568.9h0M382.87 603.02h0M373.92 590.98h0M388.63 573.04h0M384.41 605.05h0M392.69 610.95h0M388.8 617.92h0M386.06 614.29h0M384.91 603.08h0M370.27 604.15h0M386.08 616.91h0M394.19 614.78h0M383.6 608.87h0M391.63 614.72h0M389.39 617.56h0M389.13 599.82h0M380.94 607.94h0M384.61 567.19h0M385.52 604.38h0M383.61 604.49h0M377.33 596.19h0M393.04 613.86h0M375.27 615.13h0M388.97 610.2h0M391.69 614.72h0M389.08 617.76h0M387.31 613.96h0M392.11 609.34h0M389.25 599.87h0M393.78 609.89h0M379.18 616.44h0M393.41 607.94h0M389.44 612.66h0M379.06 611.98h0M388.49 599.76h0M383.55 572.22h0M389.11 616.64h0M381.85 588.34h0M371.9 609.22h0M377.46 601.9h0M389.44 582.14h0M393.42 617.55h0M393.94 614.77h0M382.1 605.85h0M388.18 607.91h0M393.12 618.01h0M371.84 528.64h0M377.19 597.32h0M373.24 574.28h0M379.66 604.03h0M369.65 569.05h0M373.29 615.33h0M383.14 603.89h0M375.43 610.23h0M388.88 617.64h0M390.49 611.09h0M384.8 605.39h0M384.1 571.67h0M387.99 589.84h0M375.36 609.14h0M393.23 607.44h0M382.77 606.89h0M383.96 611.66h0M381.96 596.17h0M393.55 612.84h0M391.31 613.99h0M393.62 602.52h0M388.51 598.74h0M387.71 607.44h0M369.49 533.06h0M380.71 558.79h0M389.86 579h0M364.34 602.55h0M390.27 611.36h0M389.74 584.01h0M385.18 609.36h0M367.63 535.64h0M391.07 612.63h0M387.09 613.82h0M385.04 605h0M387.01 611.62h0M355.8 557.06h0M385.25 590.56h0M391.87 594.81h0M372.94 567.4h0M383.65 601.39h0M389.45 603.08h0M387.19 610.98h0M385.75 594.48h0M387.97 617.39h0M385.5 601.72h0M365.27 593.01h0M389.81 613.69h0M387 580.78h0M376.16 603.9h0M390.95 599.38h0M374.44 566.93h0M345.14 540.54h0M381.05 573.54h0M380.49 616.43h0M388.56 583.47h0M382.19 572.19h0M373.64 596.78h0M391.87 612.2h0M391.83 589.39h0M377.78 595.62h0M390.86 599.4h0M364.93 573.22h0M380.91 577.03h0M357.11 552.16h0M391.1 613.7h0M394.27 615.35h0M377.23 606.42h0M387.83 568.02h0M390.7 612.69h0M374.93 565.31h0M382.5 553.29h0M386.79 611.82h0M367.19 559.7h0M386.02 612.16h0M393.57 602.52h0M390.84 606.68h0M389.26 590.47h0M380.55 592.42h0M393.35 612.73h0M384.99 585.15h0M393.59 614.44h0M359.13 539h0M392.1 605.91h0M376.98 585.35h0M390.8 605.79h0M392.41 603.61h0M386.82 590.36h0M382.81 570.24h0M387.16 601.21h0M368.38 538.7h0M388.95 584.24h0M389.62 594.05h0M382.12 560.57h0M372.02 564.31h0M368.88 601.31h0M382.12 604.57h0M386.73 592.55h0M390.85 616.45h0M389.5 609.05h0M366.64 531.73h0M379.38 585.05h0M390.1 610.44h0M378.18 614.34h0M389.94 610.19h0M379.66 606.6h0M375.8 565.11h0M392.17 596.19h0M383.11 554.76h0M389.95 605.65h0M378.64 582.34h0M374.91 606.5h0M374.01 534.57h0M385.94 590.22h0M388.64 605.73h0M384.96 607.67h0M378.51 604.22h0M379.44 588.9h0M390.3 616.38h0M384.5 603.94h0M390.8 611.72h0M390.8 613.99h0M390.42 580.37h0M386.67 613.19h0M378.41 590.98h0M381.15 610.12h0M373.72 581.53h0M389.97 614.74h0M381.52 617.86h0M391.76 617.62h0M385.8 596.8h0M383.43 615h0M388.36 608.25h0M388.46 614.58h0M393.81 614.42h0M390.03 598.2h0M387.25 576.21h0M393.28 603.34h0M389.7 611.43h0M387.01 595.43h0M387.03 565.02h0M386.24 565.14h0M388.26 597.45h0M371.91 591.77h0M393.58 618.01h0M372 570.51h0M389.93 583.37h0M392.99 597.09h0M391.97 615.04h0M372.27 589.45h0M390.96 616.99h0M392.47 616.02h0M376.62 614.99h0M388.47 607.14h0M368.72 588.57h0M359.57 536.3h0M371.23 598.84h0M390.75 604.25h0M387.9 580.64h0M389.15 605.46h0M389.4 600.16h0M388.35 602.54h0M382.26 616.88h0M389.43 616.52h0M388.16 596.09h0M393.48 611.25h0M390.69 605.28h0M391.04 599.77h0M383.15 579.53h0M391.22 618.06h0M388.7 618.11h0M362.59 527.56h0M388.17 592.77h0M386.48 608.27h0M389.09 593.37h0M386.57 599.02h0M390.61 579.04h0M392.51 615.58h0M381.59 609.49h0M376.23 602.78h0M390.88 603.89h0M391.36 586.39h0M384.17 568.41h0M380.03 607.61h0M377.33 574.81h0M384.7 616.67h0M387.93 616.93h0M367.18 595.81h0M392.45 589.79h0M352.68 542.02h0M392.97 594.01h0M385.01 580.9h0M379.62 548.66h0M383.34 575.71h0M385.48 579.29h0M388.44 601.68h0M391.74 614.79h0M390.7 581.13h0M381.68 614.86h0M383.69 587.56h0M393.61 614.94h0M368.99 607.91h0M367.62 595.29h0M390.23 611.66h0M375.39 596.78h0M379.64 614.62h0M393.24 600.39h0M389.46 602.46h0M362.92 586.87h0M382.44 599.24h0M380.83 604.55h0M384.9 615.19h0M387.89 613.21h0M391.11 611.98h0M391.23 613.29h0M385.42 593.23h0M386.48 604.53h0M382.82 566.56h0M386.32 593.75h0M384.15 607.17h0M391.92 610.85h0M381.41 581.58h0M393.68 609.98h0M383.36 569.5h0M385.19 582.99h0M384.16 591.37h0M372.31 550.96h0M391.01 599.62h0M389.96 579.12h0M378.79 608.05h0M386.52 617.31h0M385.02 594.79h0M392.65 606.96h0M388.93 572.4h0M387.56 575.36h0M388.55 612.08h0M391.52 591.94h0M380.14 577.75h0M342.9 553.97h0M387.09 585.56h0M378.45 608.68h0M388.05 581.95h0M394.06 610.28h0M390.39 596.72h0M391.77 608.59h0M389.69 614.36h0M391.5 609.39h0M388.48 609.2h0M384.48 560.31h0M359.82 563.3h0M384.65 591.97h0M382.4 581.22h0M364.79 588.09h0M387.08 576.49h0M375.67 616.74h0M380.81 605.69h0M389.6 610.86h0M382.77 605.34h0M362.8 537.74h0M388.8 594.92h0M371.16 610.91h0M374.43 615.04h0M391.76 588.32h0M381.98 553.31h0M391.83 594.96h0M377.31 607.94h0M387.04 616.53h0M394.39 616.34h0M370.36 585.93h0M381.22 575.27h0M389.36 616.06h0M388.77 612.59h0M388.13 606.06h0M385.13 612.14h0M387.88 603.18h0M389.92 616.01h0M391.68 595.21h0M390.79 608.31h0M359.72 584.38h0M348.2 563.5h0M390.16 617.74h0M381.07 593.28h0M382.87 591.73h0M376.05 542.47h0M362.48 597.79h0M393.86 617.4h0M394.46 617.63h0M373.6 568.71h0M384.97 597.76h0M370.75 578.63h0M394.25 618.29h0M382.3 568.1h0M390.47 606.86h0M384.84 617.89h0M387.25 609.79h0M389.34 597.39h0M385.63 586.83h0M377.74 610.83h0M393.17 612.89h0M389.1 610.12h0M385.53 575.42h0M386.01 610.68h0M388.37 609.86h0M377.78 610.06h0M392.39 612.59h0M390.85 608.26h0M378.35 581.99h0M380.52 574.54h0M384.52 616.02h0M392.32 610.46h0M390.15 605.33h0M392.61 604.59h0M370.82 574.63h0M380.99 606.74h0M390.98 604.94h0M379.01 593.1h0M377.71 600.21h0M390.07 617.92h0M393.31 604.9h0M378.79 549.4h0M378.37 611.86h0M371.71 606.59h0M385.35 614.03h0M371.37 536.74h0M386.26 614.22h0M366.55 558.31h0M363.18 534.79h0M392.81 605.26h0M371.97 609.38h0M393.17 616.23h0M393.55 606.35h0M392.44 608.04h0M389.12 614.64h0M385.01 596.53h0M381.79 578.06h0M373.43 535.94h0M393.67 611.24h0M382.42 607.94h0M367.33 546.04h0M391.46 613.41h0M389.58 594.76h0M385.14 601.06h0M379.97 565.89h0M372.71 612.38h0M384.98 617.62h0M393.36 603.97h0M393.01 613.33h0M388.7 580.95h0M393.02 617.75h0M381.32 573.33h0M385.75 588.67h0M394.25 612.66h0M393.74 608.14h0M386.6 609.85h0M388.46 605.39h0M388.73 590.91h0M375.78 605.95h0M387.53 593.94h0M387.18 596.54h0M373.71 606.99h0M373.04 610.86h0M357.6 564.59h0M389.17 613.34h0M392.62 608.77h0M388.58 582.3h0M391.26 593.76h0M368.71 535.76h0M386.34 615.45h0M387.11 606.36h0M369.27 599.04h0M388.79 598.08h0M390.15 618.26h0M387.41 609.53h0M386.09 590.31h0M389.72 615.67h0M383.94 599.89h0M389.48 609.1h0M383.3 615.83h0M380.6 610.82h0M386.6 573.5h0M372.21 552.99h0M386.51 602.75h0M362.8 536.59h0M390.3 599.87h0M379.29 566.76h0M392.16 606.56h0M380.59 611.52h0M361.45 548.54h0M374.13 573.57h0M368.57 571.84h0M381.85 612.88h0M391.82 608.18h0M379.96 547.7h0M389.35 598.22h0M378.3 574.35h0M337.56 550.52h0M391.94 589.35h0M391.22 587.48h0M381.71 560.85h0M385.5 612.55h0M391.37 590.99h0M391 581.96h0M365.75 561.63h0M364.01 575.2h0M364.16 594.72h0M385.38 589.75h0M390.11 604.71h0M393.5 617.66h0M387.11 573.82h0M376.24 588.6h0M383.86 585.09h0M391.45 607.67h0M386.54 612.5h0M359.89 585.83h0M372.35 607.06h0M376.28 550.37h0M355.54 533.21h0M391.3 606.95h0M386.86 597.6h0M381.19 617.3h0M387 596.83h0M387.93 580.07h0M387.77 612.08h0M391.16 610.57h0M394.22 616.28h0M387.64 606.01h0M355.47 534.98h0M389.17 603.32h0M389.28 610.79h0M369.56 528.77h0M383.34 602.41h0M381.02 578.04h0M362.54 589.59h0M378.91 553.07h0M391.26 597.29h0M390.34 577.61h0M388.58 613.74h0M384.07 609.39h0M387.13 581.96h0M377.94 577.5h0M384.93 584.01h0M392.69 602.44h0M364.86 600.26h0M384.95 556.86h0M392.41 616.24h0M385.58 585.09h0M390.49 614.48h0M379.28 594.46h0M384.64 603.86h0M381.55 586.27h0M386.16 616.98h0M394.07 614.45h0M393.38 600.33h0M391.14 616.19h0M392.53 600.6h0M385.18 599.63h0M391.9 614.73h0M378.91 611.31h0M388.34 598.39h0M374.83 604.05h0M381.89 609.97h0M385.05 583.81h0M389.05 605.55h0M390.17 601.4h0M387.16 590.92h0M382.06 608.17h0M387.76 601.3h0M377.44 559.01h0M374.35 605.1h0M384.08 575.15h0M377.39 587.15h0M383.71 608.46h0M354.35 534.5h0M386.14 587.35h0M389.79 588.62h0M381.21 577.09h0M383.61 606.59h0M391.08 617.84h0M387.29 577.57h0M390.22 591.67h0M375.97 612.17h0M388.58 616.58h0M365.15 570.06h0M386.12 604.4h0M375.13 583.42h0M380.82 579.84h0M384.66 610.19h0M385.27 595.22h0M383.48 614.2h0M383.35 607.31h0M368.24 534.18h0M385.54 594.85h0M391.72 599.16h0M368.94 590.79h0M388.76 587.81h0M383.04 572.36h0M387.67 613.91h0M386.68 601.03h0M362.18 594.7h0M381.99 606.13h0M392.1 616.11h0M378.81 585.32h0M383.17 568.92h0M390.64 609.35h0M393.01 596.71h0M384.74 605.16h0M391.72 613.8h0M346.43 560.58h0M392.69 610.26h0M393.86 614.8h0M372.97 574.04h0M388.88 609.71h0M391.84 585h0M363.31 570.44h0M385.06 611.66h0M387.37 584.64h0M383.03 559.27h0M390.05 600.31h0M378.58 601.97h0M383.61 594.66h0M392.34 611.22h0M391.09 591.22h0M389.15 606.61h0M377.99 602.5h0M362.33 549.13h0M391.14 613.04h0M389.18 583.97h0M354.82 558.27h0M390.79 611.11h0M384.5 611.03h0M386.5 616.96h0M381.9 616.5h0M384.61 596.35h0M394.22 615.5h0M372.35 592.63h0M393.86 616.5h0M386.65 617.72h0M392.01 612.87h0M379.29 587.5h0M388.86 607.4h0M387.51 608.75h0M390.19 605.98h0M391.52 610.29h0M394.06 609.84h0M386.76 607.9h0M393.22 609.54h0M379.86 565.89h0M389.79 598.22h0M364.27 557.2h0M381.36 591h0M384.26 585.28h0M389.42 603.38h0M387.39 598.66h0M385.89 597.22h0M361.71 574.77h0M394.1 611.2h0M393.83 608.27h0M377.78 573.72h0M392.43 608.89h0M360.51 561.44h0M378.99 586.06h0M384.04 580.07h0M386.83 604.12h0M350.59 548.58h0M392.61 616.14h0M386.1 596.34h0M377.93 607.92h0M393.62 617.93h0M385.03 604.48h0M388.63 615.02h0M366.24 539.79h0M379.94 578.05h0M391.08 593.84h0M372.4 600.84h0M389.71 586.89h0M386.54 601.71h0M386.83 606.8h0M392.54 590.33h0M386.1 611.35h0M393.72 611.55h0M386.07 578.1h0M387.37 615.32h0M380.92 609.79h0M374.87 582.22h0M394.38 616.66h0M388.47 573.51h0M394.1 611.99h0M389.68 613.31h0M364.81 529.46h0M380.36 609.9h0M386.83 612.6h0M363.99 591.55h0M388.99 617.06h0M378.94 604.79h0M384.39 610.16h0M389.25 612.57h0M391.7 610.62h0M361.91 548.4h0M393.17 616.4h0M391.59 610.72h0M371.82 566.15h0M381.47 587.27h0M383 604.77h0M392.88 599.25h0M388.9 599.33h0M392.79 597.1h0M390.49 605.31h0M387.89 613.81h0M378.02 549.34h0M386.86 598.88h0M380.62 577.64h0M392.61 610.66h0M390.78 582.18h0M387.23 562.27h0M389.62 612.42h0M375.28 566.26h0M373.92 579.93h0M391.15 582.4h0M387.66 569.43h0M394.13 613.35h0M380.51 617.5h0M393.1 604.87h0M381.83 616.97h0M367.14 592.53h0M393.84 617.24h0M392.43 608.84h0M392.92 614.98h0M390.69 589.66h0M388.73 613.13h0M392.51 605.12h0M385.96 594.78h0M388.31 604.55h0M388.15 617.17h0M391.27 612.29h0M380.1 618.05h0M387.89 593.49h0M365.61 596.44h0M390.98 614.34h0M386.56 583.81h0M364.21 583.94h0M392.37 617.14h0M382.94 608.6h0M375.24 575.33h0M375.7 545.83h0M377.22 604.3h0M389.58 577.67h0M367.11 580.51h0M386.06 605.71h0M370.65 594.2h0M374.25 567.1h0M368.68 527.89h0M386.55 603.82h0M383.52 614.35h0M387.77 616.51h0M391.04 609.12h0M390.66 592.15h0M376.01 601.69h0M390.6 609.78h0M389.78 585.15h0M385.53 565.32h0M389.02 595.52h0M394.71 618.28h0M392.07 618.25h0M391.97 589.87h0M388.76 583.04h0M381.55 599.9h0M348.4 563.88h0M390.36 603h0M390.57 604.11h0M383.93 580.39h0M390.43 585.9h0M387.07 611.95h0M394.15 613.35h0M391.99 603.34h0M381.47 581.55h0M393.9 616.63h0M390.48 617.29h0M374.07 569.56h0M374.05 596.07h0M392.88 605.27h0M392.39 589.56h0M394.03 611.01h0M393.92 613.37h0M391.94 597.06h0M374.81 592.4h0M392.91 606.48h0M377.91 587.14h0M373.91 557.96h0M372.75 593.87h0M382.19 608.83h0M385.95 590.24h0M390.37 618.01h0M386.93 609.74h0M386.56 598.35h0M393.64 616.61h0M380.91 592.15h0M386.1 574.22h0M387.18 601.27h0M383.68 572.65h0M368.91 547.34h0M388.14 604.09h0M391.15 616.98h0M386.67 615.99h0M393.25 613.73h0M385.55 602.88h0M383.76 577.9h0M390.41 608.51h0M382.13 556.89h0M380.19 617.99h0M392.17 599.83h0M378.46 614.21h0M390.54 579.57h0M389.73 586.81h0M385.24 601.77h0M375.84 616.84h0M392.72 606.87h0M389.33 575.86h0M387.48 617.25h0M372.25 600.52h0M387.6 574.49h0M388.32 617.01h0M390.24 600.5h0M376.98 548.62h0M391.84 589.43h0M388.74 591.34h0M363.97 582.24h0M389.98 573.92h0M391.97 598.66h0M363.65 596.16h0M383.49 562.22h0M389.39 595.82h0M384.33 613.14h0M386.08 578.4h0M383.18 603.04h0M384.27 581.87h0M393.78 614.78h0M381.44 613.1h0M383.68 599.1h0M390.02 605.6h0M391.45 592.25h0M381.51 584.33h0M377.4 591.69h0M371 592.04h0M384.64 603.68h0M389.38 605.17h0M385.07 605.53h0M390.31 606.13h0M365.88 565.75h0M371.57 586.71h0M384.99 604.64h0M391.25 610.2h0M383.2 615.34h0M373.85 547.09h0M392.82 604.99h0M387.06 614.01h0M383.92 555.95h0M383.05 610.08h0M378.13 611.14h0M388.56 606.12h0M391.73 612h0M390.83 602.83h0M391.31 581.72h0M375.19 589.78h0M392.28 607.25h0M393.92 614.73h0M378.53 574.29h0M390.64 617.88h0M388.94 592.73h0M390.95 617.31h0M372.31 605.82h0M374.79 561.57h0M382.63 614.54h0M388.83 615.66h0M393.85 615.44h0M392.29 603.5h0M369.94 594.14h0M385.69 589.23h0M376.73 576.17h0M388.87 613.49h0M387.39 603.36h0M378.22 583.32h0M377.41 594.68h0M388.53 569.44h0M394.09 613.92h0M370.93 613.41h0M389.36 607.93h0M385.93 600.77h0M382.12 609.12h0M378.54 607.02h0M390.33 572.72h0M392.23 596.08h0M385.25 557.96h0M382.6 609.6h0M381.67 593.27h0M387.3 603.38h0M389.63 611.94h0M385.36 609.98h0M393.47 615.15h0M388.6 612.14h0M392.99 593.89h0M382.81 567.76h0M381.58 613.46h0M383.88 612.81h0M352.43 570.58h0M393.34 611.75h0M392.47 613.27h0M345.42 553.78h0M392.27 600.32h0M391.64 606.13h0M378.76 589.03h0M383.57 576.38h0M387.84 601.21h0M388.74 605.36h0M378.2 585.92h0M387.13 607.24h0M394.11 613.92h0M390.02 604.6h0M394.1 617.38h0M368.34 602.77h0M388.95 567.4h0M390.29 607.64h0M392.87 607.87h0M374.2 593.3h0M392.21 604.84h0M394.42 615.19h0M387.79 577.7h0M373.16 582.24h0M393.1 615.87h0M382.07 607.69h0M387.2 580.91h0M389.64 601.46h0M378.96 600.43h0M381.09 609.81h0M364.7 547.55h0M382 612.04h0M391.91 614.69h0M377.18 601.96h0M389.79 586.32h0M352.41 554.39h0M392.88 598.33h0M391.36 608.88h0M368.46 603.11h0M375.27 592.98h0M392.63 616.24h0M386.65 581.49h0M393.77 611.08h0M390.98 616.85h0M388.17 596.17h0M389.66 594.99h0M387.16 617.83h0M388.39 606.85h0M391.19 605.02h0M392.21 616.82h0M393.11 608.4h0M390.23 617.47h0M380.49 617.76h0M388.98 605.79h0M393.07 597.41h0M383.64 615.31h0M386.39 595.53h0M382.36 606.51h0M378.49 598.71h0M358.07 567.71h0M378.38 582.05h0M386.6 600.96h0M385.46 594.07h0M363.43 570.4h0M385.06 616.81h0M383.21 591.48h0M381.73 551.39h0M389.17 600.25h0M371.37 535.26h0M391.56 595.11h0M382.99 579.03h0M387.16 581.06h0M386.3 558.11h0M384.13 611.18h0M363.85 559.16h0M393.49 609.29h0M376.62 583.69h0M375.78 616.56h0M392.96 597.28h0M389.67 600.01h0M379.17 615.22h0M375.06 541.89h0M390.76 601.78h0M391.17 587.05h0M389.63 606.94h0M388.25 600.37h0M363.83 592.91h0M386.19 568.84h0M389.44 610.46h0M382.56 589.43h0M393.91 607.82h0M392.9 615.64h0M369.63 581.54h0M392.8 617.11h0M382.23 610.53h0M379.53 554.45h0M370.41 615.28h0M384.33 582.98h0M373.55 579.82h0M390.36 598.36h0M382.8 597.44h0M385.63 607.33h0M392.35 611.65h0M347.45 545.64h0M364.08 565.42h0M392.32 594.88h0M369.96 581.44h0M388.73 567.35h0M385.56 616.54h0M372.48 599.56h0M383.45 601.71h0M379.39 587.66h0M385.24 605.47h0M378.64 616.34h0M372.49 582.29h0M391.48 600.93h0M383.26 601.5h0M392.06 596.05h0M391.34 618.2h0M392.23 610.44h0M390.17 611.29h0M364.13 585.02h0M392.18 586.67h0M373.57 561.66h0M380.22 581.44h0M390.47 606.05h0M387.02 616.23h0M386.77 616.75h0M363.84 550.51h0M375.66 592.2h0M393.46 601.06h0M382.13 591.61h0M373.88 562.61h0M393.89 605.66h0M376.13 568.56h0M373.21 593.09h0M372.72 600.93h0M393.74 604.15h0M390.46 607.26h0M391.05 604.23h0M391.06 585.43h0M390 608.09h0M387.94 614.59h0M379.35 602.9h0M388.64 612.21h0M394.16 611.12h0M375.79 608.25h0M388.73 608.65h0M390.32 597.51h0M392.6 596.86h0M391.16 606.27h0M370.21 570.96h0M381.65 584.5h0M367.56 561.89h0M393.66 616.72h0M368.93 579.7h0M388.72 576.49h0M383.26 594.85h0M391.39 592.31h0M390.38 598.3h0M393.25 604.7h0M389.15 587.32h0M391.54 611.41h0M388.85 592.13h0M366.38 587.7h0M346.09 556.73h0M380.61 610.13h0M388.43 615.67h0M393.85 616.11h0M372.12 535.07h0M383.03 582.92h0M384.24 618.27h0M379.59 616.55h0M380.7 570.49h0M393.39 601.75h0M391.64 584.58h0M368.17 597.39h0M391 586.55h0M377.48 582.54h0M381.81 607.12h0M387.61 594.09h0M390.18 597.4h0M376.51 608.82h0M381.59 606.26h0M392.13 605.5h0M372.72 618.27h0M392.32 593.39h0M394.04 613.31h0M382.63 591.76h0M366.26 531.08h0M392.32 610.87h0M394.23 613.85h0M388.32 599.24h0M368.22 605.45h0M379.71 607.76h0M392.21 597.01h0M388.31 617.47h0M386.3 560.2h0M389.01 584.38h0M371.91 585.75h0M388.36 581.92h0M369.38 613.56h0M338.18 549.01h0M392.71 596.49h0M373.41 605.42h0M392.17 616.37h0M380.17 617.1h0M393.23 606.08h0M392.03 605.97h0M385.12 602.39h0M391.45 588.25h0M392.7 596.89h0M378.79 601.99h0M380.56 609.78h0M390.34 610.47h0M390.53 574.26h0M385.52 595.68h0M357.17 583.16h0M389.28 585.09h0M389.37 612.09h0M387.71 609.05h0M386.24 615.68h0M393.31 603.21h0M374.89 614.71h0M358.15 565.32h0M384.81 613.09h0M371.82 538.6h0M393.81 618.19h0M383.18 615.86h0M386.13 592.2h0M387.17 614.9h0M393.42 614.18h0M382.32 593.07h0M367.24 573.09h0M391.84 614.17h0M389.53 613.95h0M381 617.5h0M373.66 586.24h0M370.68 599.53h0M364.82 567.84h0M387.06 572.38h0M393.49 606.44h0M383.07 577.81h0M389.59 608.73h0M364.67 578.68h0M374.04 546.23h0M392.13 591.44h0M358.16 586.68h0M391.89 598.56h0M392.4 594.72h0M392.82 600.96h0M378.7 603.17h0M368.24 580.63h0M388.29 601.18h0M383.93 616.72h0M387.8 594.68h0M389.98 613.91h0M393.72 616.49h0M390.71 615.99h0M381.74 614.17h0M371.73 591.93h0M391.44 595.72h0M379.59 609.25h0M382.38 593.67h0M392.2 590.26h0M390.07 612.06h0M348.15 566.22h0M389.88 593.25h0M389.04 616.97h0M370.34 603.57h0M392.58 611.83h0M394.49 617.86h0M362.9 572.16h0M394.31 613.63h0M390.18 594.25h0M367.28 591.6h0M387.37 579.79h0M389.31 592.17h0M387.47 578.38h0M370.48 561.27h0M378.66 555.99h0M356.64 531.94h0M386.03 609.98h0M393.09 607.89h0M388.23 617.17h0M393.42 610.55h0M388.93 576.31h0M387.32 578.92h0M371.07 605.66h0M364.9 568.89h0M364.4 592.38h0M383.53 591.01h0M390.11 607.34h0M390.22 594.68h0M371.07 589.53h0M388.79 582.61h0M391.58 617.52h0M376.9 602.36h0M386 596.12h0M384.49 592.23h0M383.21 586.55h0M390.5 595.77h0M390.33 614.61h0M340.65 557.32h0M387.23 608.59h0M387.51 597.84h0M382.79 612.81h0M392.75 615.81h0M392.34 609.16h0M393.72 612.29h0M391.49 597.54h0M382.74 589.48h0M385.82 590.85h0M389.17 591.75h0M382.86 600.84h0M384.21 611.51h0M384.44 591.47h0M386.75 577.35h0M389.07 605.25h0M376.3 581.15h0M371.34 612.57h0M387.65 591.11h0M394.44 615.76h0M379.93 593.24h0M376.74 591.51h0M381.52 602.25h0M382.42 592.36h0M382.33 596.04h0M392.19 595.31h0M378.79 586.82h0M391.81 599.93h0M389.13 598.24h0M378.22 613.24h0M385.12 612.84h0M389.01 613.08h0M380.81 615.7h0M372.77 551.31h0M386.06 589.86h0M391.17 613.3h0M375.3 602.01h0M388.98 614.91h0M386.11 600.44h0M378.65 574.27h0M368.57 607.36h0M389.65 592.71h0M373.26 596.09h0M387.5 616.98h0M390.29 599.58h0M392.48 613.44h0M388.76 602.19h0M389.64 592.54h0M386.02 591.2h0M369.12 573.82h0M389.18 596.16h0M384.43 610.08h0M383.35 602.23h0M378.77 610.02h0M378.07 609.7h0M389.07 602.14h0M385.53 594.16h0M385.07 596.06h0M394.33 617.87h0M385.64 570.5h0M393.36 617.47h0M375.94 599.15h0M393.47 617.75h0M394.33 617.95h0M388.53 607.7h0M371.62 589.04h0M368.17 593.28h0M389.38 586.97h0M388.33 605.26h0M376.16 615.05h0M391.41 599.83h0M378.08 599.36h0M387.13 609.36h0M392.61 615.62h0M389.09 612.49h0M389.33 585.71h0M382.2 585.61h0M387.11 601.29h0M393.72 612.83h0M391.47 589.26h0M394.06 617.32h0M391.08 596.4h0M382.7 609.75h0M392.2 601.74h0M386.55 591.05h0M381.37 596.66h0M367.68 567.28h0M382.4 610.31h0M393.55 615.24h0M391.44 598.47h0M389.79 595.23h0M365.36 537.84h0M350.89 570.94h0M380.31 601.43h0M388.66 599.32h0M386.77 614.59h0M360.07 546.93h0M387.95 607.63h0M389.76 605.96h0M390.87 576.79h0M386.82 599.9h0M384.84 613.85h0M390.16 610.11h0M387.12 610.33h0M383.42 602.52h0M380.11 602.8h0M392.08 595.87h0M390.71 599.33h0M370.2 608.4h0M381.01 599.99h0M387.14 613.56h0M392.71 614.78h0M394.3 614.49h0M393.81 605.46h0M378.52 581.21h0M384.7 617h0M392.76 616.35h0M372.2 576.05h0M388.77 610.84h0M378.19 573.16h0M391.32 597.44h0M393.15 616.34h0M384.54 597.48h0M384.34 601.03h0M382.72 595.05h0M377.55 603.48h0M372.61 597.06h0M369.38 569.02h0M383.07 585.49h0M393.38 610.34h0M389.4 588h0M384.48 591.76h0M387.02 592.13h0M391.43 610.64h0M367.19 584.87h0M390.96 607.55h0M388.56 601.67h0M377.62 590.27h0M370.2 577.41h0M388.27 601.63h0M388.49 588.78h0M382.27 568.77h0M385.85 595.5h0M393.84 605.62h0M389 609.17h0M371.3 533.68h0M386.33 574.43h0M380.41 617.76h0M392.14 616.32h0M356.47 540.02h0M365.3 569.68h0M389.15 612.81h0M391.19 615.53h0M377.41 599.12h0M385.31 608.74h0M392.3 614.05h0M388.63 616.62h0M380.22 593.59h0M369.29 603.06h0M381.81 582.39h0M384.15 560.39h0M387.66 608.63h0M360.68 592.68h0M391.84 586.46h0M364.01 537.4h0M383.43 611.86h0M372.18 590.59h0M390.25 595.86h0M387.75 600.5h0M386.65 606.15h0M392.31 613.78h0M394.3 614.78h0M380.36 597.43h0M373.5 603.87h0M381.64 592.04h0M375.76 608.86h0M378.34 606.33h0M370.61 610.47h0M390.11 586.12h0M389.61 581.46h0M389.77 604.67h0M390.28 606.89h0M390.65 613.4h0M383.37 615.56h0M383.47 606.07h0M368.03 559.01h0M354.58 566.8h0M368.81 543.67h0M392.22 593.13h0M390.55 605.61h0M392.71 591.04h0M390.32 579h0M387.85 602.91h0M374.96 566.62h0M386.43 613.83h0M386.83 610.8h0M366.27 603.36h0M390.76 601.61h0M368.31 607.91h0M391.64 606.31h0M382.43 596.85h0M374.83 539.22h0M383.41 607.11h0M382.36 599.15h0M391.35 586.86h0M393.29 616.86h0M392.45 608.15h0M393.16 608.84h0M389.66 617.57h0M389.06 578.57h0M385.37 615.54h0M393.52 615.99h0M390.15 599.41h0M381.62 575.25h0M388.79 597.55h0M383.06 617.52h0M378.68 604.48h0M390.51 615.17h0M391.59 596.57h0M375.52 616.15h0M380.22 596.28h0M386.17 592.54h0M386.78 613.03h0M383.41 601.91h0M392.27 617.11h0M384.25 614.95h0M390.38 600.04h0M381.35 575.7h0M390.11 608.69h0M394.3 618.26h0M372.48 617.26h0M374.81 559.27h0M362.17 539.02h0M391.1 586.25h0M385.21 602.25h0M384.5 603.57h0M385.1 606.53h0M389.21 611.77h0M387.06 602.66h0M392.71 616.72h0M389.74 583.08h0M379 591.95h0M389.51 604.57h0M390.95 578.92h0M390.63 600.59h0M380.02 595.51h0M377.59 563h0M391.27 585.34h0M363.28 588.11h0M385.73 591.54h0M388.3 598.27h0M392.74 612.78h0M381.04 573.96h0M388.16 617.21h0M375.12 568.56h0M371.77 612.74h0M389.07 612.68h0M391.93 601.05h0M392.55 609.61h0M394.09 613.17h0M380.72 589.25h0M370.51 610.19h0M388.32 602.89h0M360.49 544.85h0M380.93 600.74h0M387.03 580.53h0M385.46 616.28h0M380.14 579.7h0M384.75 614.82h0M382.51 612.91h0M382.06 591.06h0M391.42 616.12h0M390.2 581.32h0M391.02 617.21h0M374.15 564.66h0M393.61 610.99h0M363.47 567.5h0M389.41 584.46h0M391.21 579.38h0M391.53 613.01h0M372 530.24h0M384.67 613.4h0M387.24 578.06h0M381.19 616.09h0M368.81 551.27h0M385.13 615.82h0M373.2 588.94h0M382.49 578.39h0M388.17 600.95h0M375.98 589.9h0M363.99 593.49h0M376.18 609.43h0M380.32 559.3h0M388.45 617.5h0M358.81 591.22h0M380.31 595.42h0M388.89 578.39h0M386.1 587.52h0M391.84 611.48h0M382.69 605.69h0M389.34 595.81h0M383.98 616.72h0M368.93 579.03h0M389.85 575.08h0M389.18 609.06h0M380.08 608.43h0M394.21 611.9h0M393.16 601.5h0M388.37 617.5h0M384.75 592.33h0M388.88 616.26h0M389.81 597.58h0M392.98 611.23h0M389.23 599.82h0M381.53 593.64h0M386.72 609.25h0M383.44 609.93h0M387.49 611.91h0M372.18 580.97h0M369.64 597.11h0M384.78 574.25h0M386.39 609.62h0M393.08 614.46h0M387.13 615.53h0M371.89 604.59h0M380.17 572.29h0M390.77 606.64h0M393.82 616.8h0M381.94 560.74h0M381.08 604.91h0M390.1 615.96h0M392.37 589.11h0M373.87 548.46h0M391.47 586.57h0M393.95 616.02h0M353.68 574.75h0M368.42 548.92h0M383.99 615.63h0M378.86 598.49h0M383.75 590.13h0M393.25 613.06h0M390.61 615.92h0M369.36 608.75h0M384.89 616.91h0M393.72 614.73h0M375.41 546.53h0M383.87 592.99h0M390.07 604.03h0M385.82 614.07h0M386.07 605.28h0M388.94 570.45h0M389.87 602.88h0M360.75 542.93h0M389.71 612.16h0M389.86 617.9h0M393.56 616.28h0M386.02 598.42h0M387.63 611.6h0M384.17 607.85h0M381.99 616.8h0M391.91 601.62h0M386.17 608.68h0M377.39 615.51h0M390.23 611.31h0M390.35 616.2h0M367.29 527.03h0M388.49 612.81h0M391.02 589.68h0M387.2 611.38h0M394.02 610.64h0M368.91 585.08h0M364.54 572.34h0M391.48 611.61h0M382.99 592.63h0M384.19 590.75h0M392.15 610.85h0M394.15 615.83h0M392.1 593.92h0M369.82 613.88h0M392.72 590.91h0M390.02 604.77h0M393.51 607.95h0M394.1 610.49h0M387.68 601.64h0M374.35 610.92h0M375.5 557.51h0M384.62 572.98h0M372.74 579.15h0M382.63 606.15h0M392.37 606.18h0M392.69 603.09h0M388.42 582.84h0M377.81 599.02h0M368.13 592.75h0M377.68 582.06h0M377.25 580.48h0M365.29 547.98h0M383.73 588.02h0M365.62 596.92h0M392.39 608.31h0M389.88 598.83h0M380.03 583.23h0M393.16 618.25h0M387.48 591.26h0M385.22 586.39h0M386.18 615h0M387.82 615.61h0M382.87 591.68h0M386.68 598.58h0M378.67 560.7h0M375.3 571.31h0M392.93 616.23h0M381.09 610.91h0M374.97 546.08h0M372.89 599.69h0M381.29 582.4h0M344.53 555.61h0M370.82 615.63h0M386.45 608.66h0M387 579.12h0M374.91 608.06h0M387.61 615.55h0M353.54 580.62h0M387.82 582.09h0M393.19 615.33h0M387.55 609.91h0M392.72 607.39h0M386.45 615.77h0M388.32 571.07h0M387.46 605.77h0M389.87 571.66h0M364.76 560.49h0M386.5 580.97h0M366.93 599.35h0M394.02 616.53h0M359.76 589.67h0M392.91 613.79h0M379.35 601.04h0M382.31 595.06h0M393.1 616.82h0M379.81 593.62h0M393.88 615.63h0M389.68 607.73h0M392.46 606.95h0M387.38 616.15h0M378.14 547.83h0M388.05 591.5h0M375.79 565.7h0M366.97 591.64h0M370.16 531.01h0M392.88 602.18h0M390.6 595.28h0M387.06 584.71h0M380.08 618.09h0M392.23 614.52h0M392.76 597.74h0M375 576.86h0M387.57 614.81h0M389.03 614.45h0M392.22 615.56h0M386.49 601.54h0M363.91 588.58h0M390.43 606.87h0M384.14 611.73h0M391.9 605.48h0M390.25 612.33h0M381.36 567.59h0M381.53 571.24h0M390.01 593.9h0M382.47 603.56h0M390.33 615.84h0M391.52 610.14h0M392.16 606.75h0M392.63 594.24h0M391.87 610.69h0M380.96 612.71h0M367.43 585.82h0M392.97 614.31h0M388.26 607.77h0M364.46 568h0M387.79 563.24h0M391.9 617.53h0M393.66 602.63h0M392.82 606.22h0M383.55 560.32h0M392.47 607.56h0M387.05 565.48h0M391.43 602.09h0M376.24 583.21h0M389.94 590.03h0M389.25 616.91h0M374.9 599.64h0M386.3 570.75h0M392.44 591.74h0M370.13 611.78h0M372.82 573.82h0M392.29 587.92h0M370.71 540.96h0M381.16 576.94h0M386.47 599.54h0M350.17 548.04h0M377.22 604.26h0M391.19 612.91h0M393.65 607.47h0M393.8 603.95h0M381.18 570.63h0M392.5 616.53h0M386.55 576.81h0M390.62 615.53h0M391.67 594.12h0M386.92 605.05h0M385.05 580.05h0M383.33 610.03h0M377.36 615.99h0M391.34 596.25h0M361.07 571.05h0M379.05 614.41h0M363.52 528.88h0M374.04 574.52h0M388.18 594.87h0M380.24 607.79h0M353.38 575.54h0M388.75 616.33h0M389.17 584.04h0M379.61 617.71h0M374.79 575.78h0M389.23 606.98h0M388.83 571.4h0M377.2 582.37h0M365.56 600.89h0M369.68 590.33h0M390.4 612.26h0M388.56 608.62h0M350.62 550.74h0M375.54 581.25h0M390.87 615.64h0M392.42 599.49h0M376.24 553.36h0M393.57 610.49h0M389.23 596.74h0M355.96 535.36h0M392.18 602.56h0M386.65 616.9h0M385.68 591.78h0M388.36 598.54h0M381.97 551.96h0M382.07 610.94h0M390.76 607.7h0M390.56 602.45h0M389.93 578.39h0M380.69 595.59h0M383.06 606.52h0M385.74 606.02h0M391.83 615.28h0M383.68 595.26h0M393.23 600.85h0M373.59 596.6h0M392.31 609.43h0M390 591.13h0M393.98 615.29h0M370.06 590.84h0M379.7 576.96h0M358.55 560.11h0M390.38 609.55h0M357.24 538.29h0M388.26 590.45h0M391.74 615.64h0M386.56 610.95h0M381.68 588.46h0M382.02 550.5h0M393.52 611.85h0M373.04 605.37h0M378.77 600.64h0M391.1 612.65h0M385.88 573.39h0M380.7 581.59h0M392.26 588.45h0M391.1 605.12h0M380.74 593.34h0M384.38 599.78h0M391.08 604.47h0M392.04 608.66h0M391.13 585.1h0M389.45 614.82h0M376.61 575.71h0M388.67 580.39h0M393.2 598.3h0M393.01 597.74h0M393.59 614.87h0M388.58 606.43h0M393.67 611.41h0M373.02 614.68h0M379.08 549.66h0M378.37 612h0M393.61 617.87h0M356.28 588.97h0M347.02 545.57h0M383.21 607.6h0M371.84 578.07h0M385.71 584.39h0M366.23 594.46h0M392.81 594.55h0M375.09 601.69h0M384.29 583.72h0M352.48 542.1h0M385 611.19h0M387.29 561.18h0M366.87 540.85h0M388.6 565.53h0M391.07 607.51h0M386.1 611.43h0M376.75 573.79h0M380.26 550.87h0M390.02 608.84h0M373.07 574.21h0M375.84 560.59h0M370.84 580.62h0M382.37 597.73h0M362.66 564.5h0M394.2 613.51h0M372.31 583.91h0M380.09 612.42h0M389 578.69h0M386.57 613.59h0M390.94 590.97h0M378.65 551.48h0M349 568.1h0M385.85 614.7h0M368.77 595.95h0M388.86 601.87h0M379.78 610.87h0M374.16 607.5h0M379.76 617.33h0M386.05 617.77h0M367.11 534.46h0M387.48 593.26h0M381.97 616.42h0M378.22 599.24h0M393.45 617.29h0M381.2 610.99h0M394.52 617.65h0M389.7 605.02h0M360.93 565.81h0M383.73 610.63h0M381.68 605.92h0M391.76 588.12h0M388.47 600.53h0M386.18 601.08h0M386.35 585.44h0M376.42 597.77h0M389.93 586.31h0M392.16 614.15h0M364.81 533.67h0M386.81 584.67h0M382.92 580.02h0M360.54 532.95h0M380.29 589.96h0M390.65 590.46h0M387.46 594.77h0M375.57 586.37h0M390.81 611.83h0M368.65 610.01h0M387.85 599.42h0M365.58 575.55h0M392.12 598.71h0M393.16 605.27h0M388.6 604h0M391.5 596.99h0M385.9 612.79h0M388.29 597.98h0M388.48 599.24h0M382.29 586.58h0M389.95 616.91h0M387.39 610.24h0M380.45 600.89h0M379.78 580.35h0M392.24 598.46h0M389.03 581.59h0M386.36 604.93h0M378.48 609.69h0M390.48 617.68h0M387 607.39h0M382.9 589.05h0M365.97 539.6h0M382.1 605.34h0M390.05 595.68h0M375.58 547.01h0M389.21 616.13h0M350.35 550.68h0M377.29 570.83h0M390.09 598.26h0M390.09 613.26h0M378.36 568.14h0M380.08 573.23h0M387.41 593.25h0M353.6 551.76h0M377.11 612.8h0M387.38 586.63h0M384.75 580.05h0M384.14 585.15h0M365.59 590.39h0M375.29 556.34h0M383.02 604.59h0M391.4 587.49h0M390.25 598.35h0M390.64 589.06h0M391.75 608.4h0M387.49 609.09h0M372.72 562.56h0M377.05 589.17h0M389.02 604.42h0M390.08 588.78h0M359.96 579.11h0M385.57 558.72h0M376.91 549.03h0M387.55 614.4h0M392.32 606.39h0M384.83 592.07h0M386.25 596.76h0M376.98 591.44h0M377.31 582.56h0M381.04 569.08h0M391.4 589.71h0M390.36 615.92h0M389.34 586.31h0M365.27 528.48h0M387.52 599.38h0M392.31 613.63h0M387.89 590.14h0M392.81 606.53h0M371.04 548.53h0M390.18 594.1h0M375.22 541.4h0M391.35 584.81h0M389.45 597.07h0M363.24 533.89h0M388.87 567.13h0M393.58 605.38h0M390.65 609.89h0M388.63 597.31h0M388.86 608.12h0M391.69 600.57h0M385.07 597.86h0M379.44 594.43h0M391.44 601.4h0M373.57 538.06h0M389.71 608.17h0M391.69 603.4h0M382.7 563.07h0M383.93 596.12h0M390.41 614.39h0M388.83 614.32h0M368.6 581.6h0M374.37 539.74h0M383.56 601.11h0M369.22 605.18h0M374.26 599.2h0M391.19 616.36h0M371.25 584.91h0M375.01 599.15h0M384.54 578.34h0M383.51 583.77h0M378.14 614.96h0M357.33 566.19h0M382.65 610.8h0M389.94 617.21h0M388.38 608.21h0M387 604.78h0M380.95 602.37h0M388.99 588.26h0M392.29 612.12h0M389.47 607.23h0M379.65 598.65h0M391.44 609.83h0M393.27 597.84h0M392.3 590.07h0M383.83 593.05h0M393.92 607.82h0M392.57 615.14h0M375.28 580.8h0M375.88 606.07h0M392.5 613.32h0M385.4 594.59h0M385.81 574.53h0M367.64 553.32h0M382.5 585.55h0M388 611.65h0M375.6 538.08h0M390.97 607.08h0M382.64 610.07h0M391.06 589.03h0M367.57 584.15h0M394.47 616.42h0M370.8 592.53h0M386.2 595.92h0M386.47 603.68h0M366.72 550.1h0M383.75 579.9h0M363.82 558.07h0M389.95 598.39h0M391.89 589.71h0M387.95 597.71h0M389.47 592.72h0M372.54 552.48h0M385.63 568.92h0M373.69 557.07h0M387.59 596.23h0M360.92 538.44h0M388.85 596.88h0M390.72 601.18h0M390.89 601.82h0M391.41 616.06h0M387.3 617.53h0M377.95 615.51h0M391.46 607.63h0M389.77 595.96h0M387.45 582.27h0M379.29 547.14h0M379.89 616.68h0M388.78 585.64h0M387.83 589.47h0M390.32 598.42h0M382.98 596.55h0M384.66 565.86h0M384.64 594.67h0M377.23 560.26h0M349.5 562.31h0M389.22 603.61h0M385.34 594.03h0M379.02 576.18h0M383.02 597.85h0M390.45 609.81h0M386.19 618.06h0M371.63 569.66h0M389.85 578.83h0M373.08 607.45h0M379.58 615.12h0M388.39 573.67h0M384.31 611.72h0M392.27 588.65h0M391.25 597.17h0M376.92 563.52h0M391.33 617.93h0M378.9 618.02h0M366.35 557.15h0M376.22 618.24h0M385.89 609.72h0M380.87 577.91h0M392.49 614.86h0M390.07 581.54h0M370.86 605.08h0M392.34 603.57h0M387.93 588.88h0M384.72 574.62h0M365.62 568.84h0M388.49 612.81h0M392.46 601.78h0M374.8 550.01h0M392.2 591.81h0M390.73 586.03h0M385.54 587.84h0M391.26 600.34h0M380.81 613.7h0M378.59 592.35h0M385.31 580.66h0M389.62 595.95h0M386.41 588.49h0M386.3 575.37h0M393.14 604.84h0M393.01 617.19h0M390.98 617.83h0M375.53 604.94h0M382.05 615.51h0M391.56 605.89h0M388.25 591.88h0M393.75 617.85h0M378.05 586.46h0M382.73 610.13h0M387.93 606.55h0M389.92 609.16h0M376.61 549.52h0M372.48 602.84h0M378.38 601.47h0M389.06 596.91h0M379.29 582.62h0M381.22 615.61h0M377.15 582.55h0M380.75 600.33h0M387.07 617.05h0M379.89 562.04h0M377.06 580.51h0M379.47 598.79h0M392.29 599.75h0M379.81 597.57h0M389.84 613.28h0M389.34 567.87h0M381.47 562.6h0M383.76 605.67h0M389.63 594.43h0M390.42 613.57h0M377.8 582.86h0M364.37 585.75h0M393.26 613.39h0M388.75 566.31h0M388.34 597.57h0M364.09 548.13h0M393.76 611.16h0M386.12 600.39h0M385.55 600.66h0M391.53 616.52h0M385.03 568.68h0M392.88 612.46h0M390.31 603.76h0M375.7 605.45h0M371.7 563.94h0M374.13 614.83h0M384.47 613.18h0M393.63 605.93h0M389.33 588.24h0M382.83 556.99h0M403.2 592.13h0M398.67 617.15h0M407.44 609.51h0M424.44 583.22h0M398.34 614h0M399.97 607.19h0M406.19 612.82h0M401.32 618.18h0M399.16 614.91h0M401.31 610.1h0M431 604.96h0M398.36 611.36h0M410.29 594.27h0M404.94 587.7h0M402.27 587.81h0M407.18 579.94h0M411.83 558.82h0M403.95 601.05h0M412.26 599.34h0M402.82 573.57h0M405.06 589.22h0M398.17 605.99h0M406.16 587.68h0M399.11 616.25h0M397.74 608.82h0M400.48 607.13h0M397.82 605.64h0M416.41 614.94h0M399.88 599.08h0M400.74 604.13h0M399 602.52h0M423.09 585.87h0M424.42 594.78h0M407.49 578.22h0M406.7 600.76h0M397.76 607.43h0M410.01 604.01h0M398.76 591.61h0M400.82 576.69h0M399.16 600.92h0M398.86 609.83h0M408.16 595.61h0M409.46 567.03h0M396.84 616.83h0M397.51 616.19h0M399.11 613.71h0M409.2 614.44h0M401.81 607.72h0M401.43 581.82h0M397.91 601.78h0M417.39 602.54h0M400.7 598.42h0M403.91 594.45h0M405.26 601.93h0M417.85 588.78h0M410.96 578.78h0M401.88 580.07h0M409.17 613.07h0M397.52 604.71h0M400.26 585.83h0M414.41 610.75h0M408.47 613.31h0M407.77 610.93h0M403.15 606.9h0M409.23 590.94h0M404.29 612.78h0M398.62 613.99h0M401.01 582.51h0M398.19 605.6h0M399.47 597.55h0M424.59 607.66h0M402.53 604.29h0M398.47 617.53h0M402.91 615.65h0M398.03 614.33h0M405.55 614.63h0M401.16 593.2h0M399.33 609.33h0M404.35 599.45h0M397.8 614.93h0M400.83 594.9h0M399.99 592.26h0M397.12 615.85h0M408.81 572.03h0M399.29 617.84h0M400.2 594.58h0M400.52 575.92h0M404.28 600.57h0M425.7 613.34h0M398.87 599.53h0M399.38 584.87h0M413.75 591.08h0M398.41 594.11h0M407.88 616.74h0M403.93 573.7h0M410.64 615.62h0M398.98 617.98h0M398.43 612.73h0M397.94 601.84h0M404.53 612.7h0M414.82 608h0M403.22 598.76h0M406.68 584.34h0M398.82 604.06h0M409.16 580.09h0M430.67 603.5h0M407.55 603.47h0M399.7 614.06h0M400.63 594.62h0M408.76 593.68h0M407.12 610.79h0M407.37 571.47h0M406.23 598.49h0M397.25 611.5h0M401.74 613.53h0M414.14 594.23h0M398.23 610.9h0M398.62 605.38h0M401.53 611.19h0M399.43 590.86h0M401 613.77h0M399.16 600.81h0M405.29 592.65h0M401.37 616.11h0M399.22 610.78h0M404.12 616.44h0M400.99 592.91h0M429.87 612.07h0M407.15 599.18h0M416.29 611.6h0M404.91 588.17h0M400.39 615.49h0M398.02 617.71h0M400.63 582.13h0M399.64 612.84h0M400.32 614.03h0M398.08 600.23h0M398.42 598.63h0M399.8 609.15h0M399.99 604.61h0M399.61 608.81h0M399.27 614.11h0M402.24 590.34h0M397.16 612.11h0M402.92 581.48h0M409.89 610.81h0M398.35 599.3h0M414.67 575.33h0M398.65 617.89h0M406.86 575.47h0M424.52 613.69h0M398.19 612.64h0M435.67 590.13h0M398.79 589.11h0M398.04 617.82h0M425.21 592.31h0M403.83 615.39h0M398.67 591.58h0M407.49 562.91h0M408.46 607.16h0M405.41 599.68h0M402.77 616.89h0M408.12 614.47h0M409.01 582.93h0M429.25 593.69h0M412.66 576.29h0M397.26 607.7h0M396.88 616.73h0M437 596.83h0M399.12 604.3h0M397.63 617.85h0M400.23 607.61h0M411.43 610.86h0M404.78 613.12h0M400.85 614.05h0M400.47 601.82h0M401.87 581.87h0M413.6 579.73h0M398.81 594.74h0M407.34 615.23h0M404.35 611.8h0M417.52 584.59h0M398.21 614.83h0M404.11 616.77h0M405.68 607.77h0M403.47 614.03h0M400.94 610.74h0M422.02 597.1h0M406.98 613.26h0M397.81 617.08h0M399.3 589.94h0M422.32 574.59h0M405.12 612.42h0M429.84 593.42h0M401.05 602.05h0M404.9 568.24h0M409.28 560.17h0M410.4 605.88h0M400.98 584.71h0M435.71 592.74h0M403.18 606.16h0M408.92 592.94h0M400.7 606.54h0M403.3 613.68h0M407.95 608.78h0M405.57 617.24h0M410.11 614.15h0M404.54 577.16h0M398.18 615.82h0M422.61 612.77h0M400.2 579.26h0M401.63 618.1h0M403.39 603.9h0M418.61 574.56h0M419.28 614.87h0M402.16 603.7h0M398.54 614.41h0M399 613.41h0M400.09 599.63h0M397.78 610.85h0M412.01 616.6h0M401.81 604.59h0M423.54 614.97h0M406.12 618h0M398.72 617.25h0M402.12 602.48h0M405.9 589.35h0M399.18 589.55h0M399.24 610.06h0M401.6 602.7h0M397.56 615.59h0M396.95 616.82h0M425.76 593.55h0M399.75 596.91h0M403.6 595.87h0M408.23 610.39h0M399.46 611.06h0M398.32 617.2h0M412.54 557.48h0M404.7 587.26h0M399.96 610.98h0M400.44 601.39h0M397.84 601.1h0M398.12 606.66h0M403.19 602.83h0M408.97 565.08h0M410.04 610h0M399.79 615.29h0M407.24 616.79h0M422.27 585.81h0M408.83 613.42h0M405.32 589.9h0M409.48 604.37h0M419.37 603.09h0M410.89 556.63h0M402.1 599.92h0M424.1 563.24h0M400.59 606.14h0M404.7 609.24h0M406.5 592.3h0M406.23 600.8h0M400.57 618.16h0M409.73 590.2h0M402.57 578.21h0M412.12 595.28h0M398.22 613.1h0M401.99 612.48h0M407.28 565.11h0M396.76 617.23h0M409.05 601.84h0M404.84 571.31h0M409.14 617.94h0M412.81 554.59h0M398.43 592.6h0M402.3 590.58h0M401.58 613.61h0M409.03 570.78h0M399.67 599.89h0M398.52 614.53h0M401.48 609.69h0M413.12 550.62h0M405.99 612.15h0M411.53 552.23h0M400.75 609.87h0M397.21 616.82h0M400 599.24h0M407.96 611.99h0M403.77 602.68h0M409.62 592.94h0M405.4 615.48h0M397.34 617.71h0M397.89 611.28h0M398.49 614.38h0M414.81 578.53h0M403.66 601.76h0M407.02 585.57h0M400.55 616.4h0M401.09 612.92h0M399.43 613.09h0M406.49 597.58h0M400.54 609.64h0M417.75 601.9h0M410.57 617.1h0M417.26 598.95h0M404.82 606.54h0M398.11 617.75h0M401.59 593.43h0M428.88 600.97h0M406.52 598.77h0M400.14 598.56h0M397.39 606.94h0M401.26 605.14h0M400.58 612.82h0M414.66 616.51h0M400.26 600.82h0M404.76 599.44h0M409.18 606.59h0M416.45 603.87h0M410.03 583.74h0M404.78 614.09h0M400.52 578.43h0M397.02 610.38h0M416.61 592.31h0M407.78 590.74h0M407.94 599.73h0M410.28 599.5h0M400.93 614.28h0M398.75 594.72h0M417.26 598.66h0M405.13 616.13h0M417.96 588.14h0M405.7 594.19h0M401.84 603.01h0M401.34 596.42h0M407.25 580.22h0M402.69 604.74h0M414.31 588.96h0M411.94 578.19h0M396.92 611.65h0M397.26 615.25h0M398.23 601.49h0M408.06 603.07h0M412.62 604.51h0M401.89 607.71h0M397.92 610.99h0M398.96 597.81h0M398.98 614.51h0M432.7 587.35h0M398.72 612.49h0M410.58 597.65h0M400.7 592.69h0M402.66 565.3h0M400.46 593.46h0M400.18 603.02h0M404.11 582.86h0M410.74 616.18h0M398.45 608.75h0M399.77 589.72h0M402.78 596.22h0M416.78 615.23h0M399.02 590.21h0M414.32 563.66h0M414.55 577.18h0M399.27 613.87h0M407.79 613.81h0M429.84 592.24h0M402.13 600.82h0M426.37 610.47h0M398.07 615.21h0M401.18 573.03h0M401.85 613.06h0M400.19 611.89h0M403.48 617.7h0M398.8 616.46h0M404.33 615.76h0M402.3 612.48h0M401.81 617.5h0M413.97 608.35h0M399.16 613.19h0M402.01 570.04h0M402.57 602.27h0M398.29 610.13h0M397.81 601.89h0M398.62 618.08h0M399.36 607.03h0M403.3 588.84h0M405.27 595.99h0M421.98 588.81h0M407.15 598.73h0M398.44 598.97h0M407.88 575.59h0M405.13 617.35h0M419.98 601.77h0M401.96 605.48h0M404.73 583.34h0M407.13 604.89h0M409.56 564.21h0M405.7 589.5h0M399.68 599.24h0M399.03 610.44h0M398.09 617.69h0M408.14 612.9h0M401.5 591.86h0M403.88 615.63h0M408.17 585.68h0M406.61 588.49h0M406.52 617.59h0M403.3 569.64h0M426.77 606.83h0M417.91 577.95h0M410.42 614.24h0M402.44 577.19h0M422.72 560.51h0M397.84 615.99h0M401.76 579.34h0M408.15 608.14h0M405.4 576.14h0M405.97 605.66h0M401.64 594.8h0M398.32 611.78h0M408.38 595.84h0M406.05 612.33h0M404.89 596.26h0M401.77 600.55h0M401.35 617.95h0M416.64 592.52h0M399.71 593.51h0M406.5 571.75h0M411.08 549.67h0M396.9 617.04h0M404.15 591.56h0M401.34 595.07h0M398.78 596.93h0M405.7 612.81h0M397.71 612.13h0M432.21 593.4h0M398.73 588.6h0M402.49 614.28h0M411.74 600.25h0M402.73 617.57h0M405.58 616.53h0M400.92 616.08h0M437.88 583.15h0M414.09 580.43h0M404.09 609.89h0M403.06 599.77h0M402.71 596.79h0M407.54 607h0M428.88 593.57h0M401.2 615.54h0M409.42 601.97h0M406.41 561.11h0M409.26 618.06h0M403.6 608.5h0M400.72 606.74h0M407.9 594.22h0M408.17 563.34h0M402.1 602.1h0M416.83 601h0M405.83 617.62h0M401.13 615.49h0M398.84 594.67h0M407.26 597.77h0M402.63 608.14h0M398.46 606.31h0M416.25 611.31h0M404.61 594.23h0M417.09 579.4h0M403.75 584.77h0M400.77 599.84h0M413.05 616.73h0M399.6 616.32h0M404.64 572.91h0M404.38 560.66h0M400.63 614.45h0M411.16 594.3h0M421.26 564.42h0M428.59 613.43h0M400.55 617.18h0M397.32 608.11h0M430.73 612.91h0M399.19 586.43h0M399.88 596.37h0M405.68 610.56h0M399.75 612.78h0M398.93 618.17h0M397.88 609.71h0M400.01 615.88h0M414.23 616.28h0M400.07 611.22h0M407.24 616.74h0M397.34 613.32h0M414.61 607.29h0M411.74 558.88h0M398.53 597.66h0M418.65 562.83h0M409.37 611.59h0M401.1 614.16h0M402.79 610.29h0M402.27 611.44h0M397.05 611.29h0M406.74 615.45h0M402.71 604.21h0M400.79 592.68h0M400.3 613.35h0M410.89 585.21h0M404.39 603.67h0M417.09 611.31h0M411.65 594.02h0M403.37 607.36h0M405.24 588.85h0M402.08 584.32h0M403.13 581.8h0M398.83 601.09h0M413.05 606.02h0M397.86 617.58h0M406.09 599.73h0M408.38 590.7h0M406.77 588.06h0M401.91 614.34h0M397.04 610.47h0M425.69 601.49h0M408.13 603.37h0M398.44 595.1h0M432.58 599.39h0M401.24 593.1h0M415.64 562.34h0M402.96 597.5h0M400.68 600.35h0M402.33 572.68h0M401.21 608.46h0M401.07 596h0M398.51 596.04h0M402.53 569.88h0M421.64 569.2h0M412.51 581.57h0M402.38 613.4h0M405.3 616.79h0M401.84 581.44h0M398.08 604.41h0M408.44 592.13h0M402.62 616.84h0M403.74 568.16h0M407.3 561.68h0M397.07 617.91h0M401.08 584.69h0M406.9 571.63h0M407.48 616.25h0M398.09 608.87h0M398.75 618.22h0M402.55 603.59h0M398.61 597.55h0M410.1 618.24h0M406.75 605.16h0M412.43 564.78h0M401.14 586.2h0M401.68 612.65h0M403.69 612.04h0M400.09 610.17h0M434.12 610.45h0M401.71 606.81h0M408.7 616.16h0M407.95 616.18h0M398.73 611.79h0M399.32 617.29h0M406.67 608.72h0M406.44 612.1h0M401.45 572.19h0M413.9 582.17h0M407.84 580.7h0M403.96 615.62h0M403.21 597.65h0M401.14 583.66h0M404.37 607.11h0M405.43 566.55h0M402.77 605.28h0M398.05 603.65h0M416.25 607.47h0M412.35 607.1h0M410.23 565.51h0M402.1 618.08h0M398.35 607.59h0M410.56 567.54h0M405.25 597h0M410.8 564.19h0M402.42 599.33h0M421.61 608.59h0M403.91 593.6h0M403.18 616.07h0M400.6 617.24h0M400.19 612.67h0M398.59 612.37h0M398.31 604.63h0M405.59 611.41h0M408.73 615.76h0M399.03 605.71h0M403.71 583.1h0M397.2 607.43h0M415.13 613.64h0M401.89 602.11h0M398.72 597.13h0M409.74 614.4h0M401.32 594.6h0M404.69 571.14h0M408.76 604.25h0M404.23 572.88h0M398.93 612.7h0M403.96 601.15h0M402.64 599.84h0M402.17 582.37h0M405.65 604.73h0M405.62 565.68h0M401.67 607.88h0M401.89 610.9h0M412.03 551.4h0M421.87 576.05h0M400.81 602.35h0M401.85 615.32h0M405.52 574.05h0M408.96 611.32h0M402.2 614.24h0M405.79 583.74h0M403.33 610.07h0M404.9 608.55h0M414.94 580.55h0M400.62 582.98h0M404.53 610.83h0M416.6 594.28h0M397.83 604.51h0M396.93 616.48h0M400.77 599.94h0M411.63 617.4h0M399.32 616.71h0M409.99 582.87h0M418.88 612.44h0M410.2 604.21h0M404.94 605.28h0M404.91 598.37h0M400.47 596.44h0M401.99 614.77h0M399.62 614.02h0M398.32 613.51h0M404.28 591.98h0M408.22 561.5h0M404.01 584.55h0M407.21 558.64h0M401.79 607.27h0M404.18 603.2h0M399.9 590.41h0M412.67 593.39h0M399.58 605.73h0M403.3 611.39h0M398.23 615.26h0M405.14 609.79h0M405.93 586.06h0M399.6 614.49h0M432.66 616.83h0M411 603.63h0M399.12 611.59h0M399.94 614.63h0M405.31 590.8h0M398.05 609.03h0M407.05 610.75h0M428.44 613.69h0M402.42 575.09h0M407.35 618.24h0M403.56 617.26h0M401.64 601.7h0M398.07 597.59h0M415.54 585.34h0M398.65 617.4h0M402.8 574.77h0M407.41 614.59h0M397.77 613.18h0M397.3 618.06h0M419.72 608.85h0M400.93 584.82h0M403.01 606.3h0M397.15 614.23h0M399.19 613.27h0M419.73 617.4h0M401.74 603.12h0M411.87 599.13h0M415.69 605.74h0M422.69 597.78h0M430.36 609.69h0M406.04 601.8h0M399.88 615.92h0M400.22 592.91h0M403.32 606.29h0M402.94 582.48h0M409.96 589.54h0M402.95 582.78h0M403.29 608.46h0M402.13 604.22h0M409.06 598.44h0M398.29 614.63h0M401.45 615.1h0M414.66 612.82h0M400.82 612.82h0M402.34 583.61h0M398.31 616.33h0M402.32 589.3h0M412.24 549.23h0M401.78 609.72h0M399.58 608.64h0M401.2 615.71h0M403.16 585.46h0M401.8 595.18h0M399.51 607.48h0M400.76 615.93h0M410.01 600.14h0M396.82 616.37h0M408.7 561.68h0M417.15 587.64h0M398.34 610.49h0M402.84 582.26h0M397.6 601.73h0M402.56 597.53h0M398.29 612.72h0M399.72 609.46h0M400.11 608.46h0M420.36 606.82h0M399.35 617.91h0M405.14 599.41h0M406.09 608.67h0M398.54 605.01h0M406.65 560.81h0M421.52 589.35h0M406.09 613.89h0M403.39 582.51h0M406.25 559.28h0M427.25 600.92h0M413.76 600.6h0M404.84 606.1h0M406.87 602.5h0M410.06 586.77h0M401.37 584.41h0M411.44 593.16h0M400.75 585.71h0M397.9 599.34h0M400.6 593.47h0M401.05 596.4h0M409.93 598.94h0M404.78 592.72h0M398.91 601.08h0M410.4 617.5h0M402.46 576.24h0M399.92 594.94h0M408.04 609.05h0M407.07 554.61h0M410.92 582.38h0M399.93 589.84h0M406.83 608.05h0M398.09 612.89h0M398.91 602.83h0M398.12 611.06h0M397.58 612.64h0M400.31 605.67h0M398.01 614.72h0M397.81 606.03h0M397.35 609.94h0M400.05 586.37h0M398.57 603.26h0M429.33 591.03h0M399.37 589.33h0M398.03 613.14h0M403.03 566.87h0M412.59 584.1h0M405.94 575.64h0M400.48 605.45h0M403.79 593.17h0M403.59 589.22h0M409.74 574.35h0M400.73 610.82h0M413.66 612.03h0M399.82 617.17h0M404.19 604.97h0M403.84 615.72h0M398.83 614.91h0M397.6 609.39h0M411.42 616.81h0M421.09 590.78h0M404.33 596.96h0M403.28 604.28h0M398.47 608.78h0M410.53 597.38h0M414 561.6h0M402.31 612.87h0M409.69 614.09h0M403.38 584.83h0M412.5 609.03h0M397.96 604.69h0M402.98 592.1h0M409.24 615.34h0M398.28 612.71h0M399.91 600.43h0M401.32 608.68h0M416.91 555.06h0M410.43 604.86h0M406.81 617.7h0M410.87 582.79h0M408.21 587.42h0M414.73 612.79h0M402.32 580.71h0M399.33 600.2h0M403.55 611.93h0M396.78 614.71h0M405.88 595.46h0M404.14 561.59h0M397.95 609.47h0M422.56 559.88h0M400.93 614.38h0M406.76 590.57h0M403.37 602.64h0M397.28 612.69h0M401.42 614.23h0M410.82 614.63h0M397.11 610.09h0M407.29 593.61h0M404.23 585.92h0M417.03 559.58h0M400.85 610.71h0M403.53 612.81h0M401.69 606.64h0M398.57 607.44h0M408.31 597.13h0M398.13 608.09h0M406.01 595.64h0M411.55 599.4h0M420.47 596.6h0M403.58 598.61h0M399.45 612.82h0M399.38 607.56h0M398.37 610.7h0M401.9 615.7h0M409.34 604.69h0M422.01 587.62h0M405.33 560.97h0M420.08 592.79h0M397.58 616.26h0M397.76 617.81h0M396.76 614.65h0M409.61 615.62h0M403 609.03h0M401.05 607.72h0M421.4 594.33h0M400.07 616.72h0M412.12 588.57h0M400.85 594.86h0M398.18 617.66h0M415.51 598.79h0M405.22 597.2h0M407.2 606.82h0M405.22 603.02h0M399.97 600.32h0M404.59 561.89h0M416.17 605.35h0M401.8 598.12h0M399.97 612.75h0M409.26 585.56h0M422.54 595.28h0M399.58 607.38h0M419.77 595.2h0M415.46 589.17h0M400.62 576.38h0M400.53 594.16h0M411.59 591.14h0M401.95 579.42h0M398.43 607.25h0M412.24 576.43h0M404.07 598.85h0M404.23 586.59h0M417.19 613.59h0M405.68 582.98h0M399.67 598.67h0M397.28 611.97h0M412.41 592.41h0M398.44 611.08h0M399.81 604.85h0M401.71 584.68h0M400.5 611.16h0M413.7 571.7h0M397.66 615.37h0M403.58 617.05h0M399.81 593.08h0M410.14 610.42h0M404.9 617.11h0M410.71 576.42h0M406.48 609.2h0M414.33 557.63h0M405.61 595.19h0M403.97 592.36h0M401.04 615.16h0M405.66 605.22h0M399.62 602.5h0M406.06 613.02h0M409.49 598.19h0M400.75 613.21h0M397.92 615.37h0M399.42 608.1h0M398.38 601.21h0M403.3 566.76h0M404.86 572.16h0M397.9 607.76h0M398.76 594.9h0M404.78 592.09h0M404.19 610.66h0M399.22 588.97h0M423.96 580.24h0M398.11 608.32h0M415.65 604.88h0M399.42 591.26h0M413.87 585.29h0M405.23 603.63h0M407.1 569.55h0M407.51 581.33h0M417.03 581.71h0M398.11 614.51h0M401.36 597.31h0M397.03 609.92h0M442.82 604.38h0M399.05 605.82h0M403.76 607.23h0M397.71 617.67h0M401.17 600.61h0M399.73 590.08h0M412.07 616.77h0M408.32 585.28h0M399.75 596.35h0M400.6 614.47h0M403.75 590.97h0M398.22 601.81h0M409.03 606.6h0M410.97 604.06h0M398.5 602.38h0M399.64 612.5h0M396.91 618.24h0M421.87 564.99h0M403.92 576.39h0M416.87 608.12h0M400.17 617.03h0M406.87 607.57h0M442.15 590.83h0M418.21 596.11h0M399.86 596.65h0M400.01 601.43h0M421.7 561.24h0M403.41 615.75h0M410.44 593.75h0M402.45 614.55h0M400.27 615.56h0M400.3 607.65h0M402.54 605.83h0M401.52 615.51h0M404.32 616.45h0M400.73 617.44h0M406 618.22h0M402.04 603.85h0M399.85 584.85h0M401.81 607.87h0M400.83 613.79h0M398.21 608.03h0M402.54 597.18h0M401.67 615.12h0M402.55 612.23h0M405.93 609.18h0M398.03 596.63h0M407.12 608.57h0M407.49 608.54h0M427.54 571.25h0M404.06 585.19h0M398.19 602.77h0M399.13 610.03h0M414.24 580.3h0M409.99 594.64h0M404.85 604.93h0M397.26 607.83h0M413.82 600.72h0M415.25 601.95h0M399.34 606.69h0M400.46 614.19h0M397.87 609.5h0M418.4 609.39h0M404.55 582.28h0M401.54 611.95h0M403.9 608.68h0M403.69 610.48h0M402.3 583.69h0M402.51 612.36h0M414.76 598.08h0M405.99 578.48h0M409.3 602.12h0M398.92 597.95h0M398.11 606.88h0M411.15 591.95h0M398.66 594.29h0M397.41 605.96h0M410.34 590.98h0M405.23 612.98h0M397.57 617.1h0M408.72 556.21h0M420.88 593.43h0M404.83 583.73h0M401.11 605.01h0M406.84 614.31h0M408.75 600.85h0M399.53 602.79h0M397.81 611.21h0M404.77 588.1h0M423.97 606.74h0M400.31 607.53h0M399.07 612.33h0M401.8 611.52h0M401.96 605.37h0M404.78 575.41h0M403.83 596.11h0M411.95 554.83h0M398.37 613.2h0M401.37 577.67h0M410.03 610.15h0M404.32 616.77h0M399.07 606.44h0M397.81 612.62h0M398.41 599.07h0M415.12 549h0M397.47 609.28h0M403.76 602.38h0M404.54 615.08h0M410.8 601.18h0M400.51 604.57h0M402.51 594.2h0M399.53 603.88h0M397.45 614.47h0M418.18 594.41h0M398.54 610.94h0M397.35 616.17h0M404.34 577.43h0M398.75 607.38h0M400.41 589.63h0M412.02 556.11h0M402.52 604.38h0M413.69 611.85h0M403.7 600.92h0M412.58 569.45h0M401.86 574.97h0M398.69 609.85h0M399.95 601.25h0M405.52 564.18h0M400.98 606.6h0M405.7 609.22h0M409.59 602.18h0M409.98 607.99h0M405.57 575.59h0M402.27 612.26h0M404.1 569.6h0M405.03 570.19h0M404.8 577.45h0M397.31 606.96h0M404.91 595.37h0M414.16 609.97h0M402.81 605.42h0M405.73 612.25h0M398.95 600.09h0M412.61 551.58h0M405.09 614.81h0M409.28 605.36h0M403.25 605.13h0M416.81 588.13h0M397.55 614.05h0M398.77 602.75h0M403.66 580.67h0M397.8 607.83h0M400.07 610.71h0M398.59 610.98h0M405.86 610.44h0M401.26 615.2h0M398.45 593.43h0M413.82 577.69h0M397.33 611.63h0M409.83 616.51h0M402.48 617.29h0M406.51 597.36h0M401.84 604.14h0M408.01 603.49h0M398.68 615.78h0M401.63 602.13h0M402.11 595.82h0M413.91 612.58h0M407.04 617.91h0M398.85 615.74h0M414.95 605.16h0M401.35 614.93h0M405.93 581.12h0M402.61 579.74h0M402.67 608.95h0M434.47 585.32h0M415.92 573.57h0M408.12 595.95h0M417.99 569.55h0M398.48 613.83h0M421.52 605.9h0M408.78 609.34h0M405.54 610.01h0M405.05 598.17h0M409.32 613.93h0M397.76 612.66h0M408.65 571.38h0M399.02 603.59h0M418.41 557.28h0M406.28 570.8h0M402.91 602.72h0M396.77 616.02h0M401.55 596.85h0M414.92 574.44h0M405.57 592.05h0M402.83 611.74h0M400.86 592.23h0M398 603.43h0M403.19 591.73h0M405.19 612.46h0M402.13 580.23h0M401.99 618.14h0M408.68 579.75h0M398.72 589.3h0M397.58 606.31h0M406.49 588.7h0M400.71 582.91h0M401.26 606.7h0M397.04 618.03h0M408.37 556.29h0M407.44 601.68h0M403.91 587.18h0M413.9 590.36h0M400.09 612.9h0M407.25 597.9h0M398.12 598.36h0M399.92 611.67h0M411.07 570.51h0M402.71 610.79h0M420.64 609.95h0M416.68 590.12h0M398.26 606.52h0M401.5 581.38h0M415.55 572.85h0M409.87 570.88h0M398.48 593.78h0M397.87 610.52h0M401.44 616.76h0M400.94 616.78h0M398.13 614.26h0M440.58 579.94h0M406 594.54h0M400.46 613.62h0M403.27 565.78h0M399.21 607h0M397.98 612.31h0M402.47 586.91h0M405.7 609.08h0M407.67 607.54h0M422.77 616.84h0M406.07 611.54h0M397.21 609.03h0M398.79 599.92h0M401.78 582.06h0M401.48 617.1h0M406.13 597.38h0M399.11 588.59h0M421.53 562.36h0M399.06 585.64h0M398.6 610.14h0M405.21 567.46h0M398.96 606.29h0M399.93 587.08h0M407.92 603.41h0M399 607.63h0M399.25 601.23h0M413.55 587.41h0M397.25 611.94h0M397.28 607.21h0M431.41 573.35h0M403.91 596.95h0M401.55 597.2h0M405.15 599.83h0M404.32 573.55h0M400.59 614.53h0M398.94 617.12h0M412.39 601.34h0M432.69 597.21h0M438.44 581.77h0M406.08 567.52h0M404.72 613.61h0M403.55 586.35h0M410.2 577.46h0M400.22 577.71h0M421.42 574.84h0M409.28 611.98h0M409.91 611.04h0M417.83 575.71h0M398.04 615.93h0M399.91 599.42h0M420.22 606.94h0M406.13 560.57h0M406.73 613.94h0M397.94 598.32h0M397.4 613.5h0M420.48 566.92h0M402.19 615.79h0M423.88 561.52h0M414.05 552.69h0M415.43 588.85h0M408.98 577.51h0M414.58 574.84h0M403.61 569.19h0M401.93 608.44h0M398.58 618.22h0M403.05 602.27h0M401.66 615.49h0M411.44 554.2h0M412.45 592.92h0M401.62 603.87h0M400.36 588.59h0M398.98 608.48h0M398.38 616.73h0M413.93 575.96h0M398.16 606.04h0M400.22 601.2h0M414.07 594.69h0M399.99 607.66h0M419.22 576.59h0M402.03 590.21h0M406.61 556.36h0M399.28 587.85h0M407.27 613.89h0M408.83 553.47h0M413.97 595.38h0M420.48 592.19h0M403.67 568.32h0M410.93 616.2h0M411.12 611.58h0M401.44 583.73h0M398.63 601.28h0M399.41 594.87h0M397.52 605.12h0M401.44 595.6h0M407.19 612.25h0M403.87 602.26h0M399.43 617.29h0M411.16 603.37h0M397.18 612.88h0M399.64 599.95h0M397.28 617.38h0M401.7 602.75h0M405.29 610.99h0M398.78 617.09h0M399.69 602.05h0M401.41 608.48h0M401.27 611.99h0M404.09 576.01h0M413.16 616.5h0M397.62 609.85h0M407.85 605.36h0M408.81 607.26h0M411.2 567.53h0M403.88 616.2h0M408.21 611.3h0M409.72 564.19h0M399.04 589.3h0M406.44 597.96h0M405.6 558.68h0M406.36 613.1h0M402.92 595.76h0M409.64 616.56h0M398.47 615.48h0M398.76 592.81h0M402.63 583.85h0M408.38 580.51h0M407.62 611.28h0M422.23 558.78h0M400.4 615.97h0M400.4 616.65h0M402.19 610.42h0M415.3 570.23h0M400.28 580.81h0M401.59 602.52h0M417.87 587.57h0M408.9 618.13h0M397.34 608.76h0M404.35 595.34h0M405.88 579.65h0M419.87 582.35h0M400.58 601.05h0M414.12 593.14h0M407.02 588.72h0M405.36 614.06h0M408.34 596.57h0M397.72 603.69h0M403.05 611.33h0M399.34 614.28h0M398.41 605.79h0M401.11 610.45h0M418.28 560.33h0M399.86 615.75h0M400.02 578.92h0M409.6 589.02h0M397.03 611.44h0M399.83 609.52h0M399.02 592.34h0M405.2 613.98h0M402.26 617.34h0M400.12 607.26h0M400.32 605.82h0M422.83 580.73h0M406.98 598.26h0M401.89 574.11h0M397.67 603.27h0M419.36 584.81h0M400.3 614.83h0M404.32 595.21h0M399.91 616.98h0M403.63 608.48h0M403.54 565.19h0M402.56 599.82h0M398.78 606.69h0M398.34 604.04h0M401.36 591.63h0M404.33 569.42h0M398.25 612.67h0M414.9 587.42h0M408.79 570.06h0M401.84 594.16h0M398.66 600.08h0M407.16 569.37h0M398.33 602.73h0M399.31 601.18h0M399.41 616.47h0M398.06 616.37h0M398.13 601.74h0M405.71 594.42h0M403.09 583.77h0M401.58 594.31h0M435.89 590.65h0M404.36 613.64h0M402.47 580.38h0M401.12 617.09h0M404.84 601.33h0M402.89 584.29h0M411.77 579.29h0M398.71 611.63h0M411.89 603.98h0M409.38 568.87h0M402.97 600.42h0M399.22 585.57h0M404.91 589.04h0M413.03 598.64h0M401.3 615.59h0M400.74 595.54h0M408.61 583.57h0M397.7 614.74h0M401.3 608.18h0M426.67 580.34h0M398.54 599.19h0M418.93 603.7h0M400.35 616.38h0M404.08 610.94h0M397.17 612.66h0M401.75 613.4h0M410.89 605.29h0M403.91 612.63h0M406.25 556.2h0M399.32 602.24h0M399.39 606.73h0M401.86 584.55h0M399.18 612.8h0M399.31 594.09h0M399.47 613.81h0M412.78 592.42h0M400.66 597.13h0M429.57 598.61h0M398.05 607.37h0M400.36 617.37h0M400.81 590.07h0M398.93 607.05h0M408.24 604.57h0M401.18 617.56h0M403.34 612.56h0M413.17 581.28h0M413.22 608.17h0M398.71 617.97h0M404.27 614.52h0M404.48 602.6h0M397.28 616.92h0M408.41 585.41h0M411.29 558.27h0M402.5 596.7h0M405.22 568.54h0M409.28 602.22h0M401.27 607.22h0M417.61 615.83h0M402.43 601.78h0M400.24 614.02h0M398.62 608h0M400.29 607.61h0M398.86 593.93h0M400.83 574.22h0M407.26 603.91h0M410.54 617.31h0M399.09 616.61h0M406.21 610.35h0M399.92 579.83h0M400.51 602.84h0M401.11 576.97h0M398.6 591.95h0M403.26 596.1h0M411.85 577.2h0M403.63 607.05h0M407.26 605.18h0M399.66 592.74h0M403.72 599.25h0M407.13 564.24h0M405.84 606.3h0M403.53 596.25h0M400.12 596.43h0M400.32 616.07h0M407.79 600.37h0M400.22 606.28h0M406.44 561.51h0M405.2 572.4h0M406.66 617.05h0M418.36 600.52h0M397.67 604.75h0M405.84 606.49h0M404.16 611.98h0M404.34 612.15h0M404.21 618.03h0M400.12 612.87h0M397.17 615.68h0M408.07 578.53h0M402.43 600.59h0M412.29 593.75h0M399.6 614.82h0M398.91 601.68h0M403.34 615.58h0M403.77 578.25h0M428.18 608.55h0M408.99 577.35h0M397.52 616.33h0M403.14 585.47h0M399.84 592.58h0M404.61 590.86h0M397.56 615.54h0M400.33 611.49h0M420.44 599.86h0M398.25 613.32h0M399.66 600.32h0M400.91 618.19h0M404.97 605.68h0M398.21 601.38h0M398.09 604.52h0M409.11 616.43h0M407.21 586.93h0M403.25 601.65h0M411.48 609.2h0M415.7 603.5h0M399.22 607.66h0M408.24 594.13h0M399.41 602.48h0M403.02 616.22h0M408.91 614.87h0M407.01 603.67h0M413.27 610.81h0M429.15 611.76h0M405.09 616.73h0M416.4 609.87h0M408.71 596.29h0M409.09 599.52h0M400.28 610.39h0M398.87 592.44h0M398.53 610.23h0M398.72 613.71h0M401.65 617.7h0M407.17 605.34h0M406.61 596.69h0M412.11 604.4h0M401.86 605.11h0M406.22 611.33h0M399.52 611.42h0M397.51 604.34h0M400.22 577.64h0M411.53 614.9h0M399.61 582.93h0M400.45 612.4h0M398.2 617.86h0M425.02 608.25h0M404.18 617.04h0M403.45 612.65h0M405.27 618.03h0M406.12 557.11h0M404.86 571.6h0M397.56 602.6h0M397.19 613.54h0M399.17 608.28h0M397.02 616.6h0M397.2 613.45h0M408.57 614.83h0M398.01 605.14h0M403.22 570.5h0M397.18 612.28h0M406.42 575.12h0M403.62 597.68h0M424.2 572.77h0M407.03 579.91h0M400.65 589.93h0M408.6 571.04h0M399.06 617.69h0M424.18 615.27h0M403.6 605.03h0M399.32 607.62h0M416 609.06h0M406.95 602.36h0M400.37 595.67h0M397.05 614.74h0M400.18 587.58h0M408.14 570.35h0M400.12 601.06h0M400.75 599.05h0M401.32 617.92h0M412.78 569.29h0M411.57 603.4h0M398.09 617.14h0M397.35 607.4h0M406.97 616.07h0M405.43 603.19h0M412.75 613.47h0M409.77 557.68h0M399.66 613.05h0M400.33 610.34h0M410.85 590.88h0M413.46 563.63h0M410.35 577.29h0M397.84 616.34h0M397.67 611.9h0M404.51 611.16h0M404.28 585.98h0M405.76 599.55h0M403.24 590.91h0M402.43 607.58h0M399.09 597.62h0M402.62 603.67h0M402.25 584.31h0M407.26 587.8h0M399.02 601.76h0M399.74 608.4h0M398.07 602.93h0M433.49 617.8h0M398.74 618.11h0M428.93 606.04h0M399.53 608.38h0M404.98 602.53h0M413.66 568.72h0M411.47 616.43h0M405.03 561.63h0M423.84 577.55h0M427.1 574.59h0M404.09 609.58h0M415.92 582.48h0M415.41 596.32h0M402.37 592.64h0M412.41 615.68h0M408.5 607.28h0M418.23 566.58h0M401.86 590.52h0M401.44 601.46h0M403.58 579.01h0M408.37 604.54h0M406.7 615.45h0M406.67 599.12h0M400.82 591.18h0M412.62 566.07h0M397.97 607.81h0M397.09 612.83h0M398.04 610.14h0M396.89 617.58h0M398.24 615.74h0M399.02 615.93h0M397.78 615.63h0M401.67 597.63h0M400.71 590.94h0M401.03 593.26h0M399.48 605h0M437.2 616.04h0M396.97 611.21h0M398.57 595.55h0M398.32 615.74h0M399.96 612.93h0M399.71 608.6h0M403.89 582.55h0M416.23 563.6h0M408.01 567.02h0M403.23 608.54h0M403.94 616.35h0M408.1 576.88h0M437.41 615.16h0M414.97 608.89h0M398.43 603h0M400.43 600.18h0M412.49 609.52h0M412.51 563.37h0M407.42 592.93h0M408.21 604.13h0M437.57 596.1h0M420.46 579.73h0M400.53 617.41h0M399.14 614.4h0M409.56 616.5h0M403.47 603.85h0M414.59 576.64h0M401.71 570.2h0M400.8 615.77h0M431.34 597.37h0M398.2 608.03h0M397.83 611.63h0M406.06 585.62h0M406.54 611.47h0M398.8 606.84h0M406.2 616.53h0M412.48 576.23h0M397.41 618.18h0M403.13 601.69h0M398.89 607.94h0M422.31 610.97h0M401.7 602.16h0M410.62 586.28h0M414.25 580.08h0M399.01 609.55h0M407.81 601.73h0M413.21 610.89h0M398.41 615.24h0M398.64 606.74h0M399.15 614.95h0M402.26 618.11h0M398.99 599.4h0M403.65 586.21h0M414.61 599.45h0M398.46 601.81h0M398.28 608.66h0M405.17 566.31h0M400.44 616.55h0M407.86 608.59h0M398.12 617.78h0M397.87 609.32h0M414.85 601.19h0M415.16 557.43h0M402.86 618.05h0M401.77 614.46h0M421.96 595.27h0M400.17 598.37h0M405.58 616.17h0M399.82 607.93h0M406.41 599.72h0M398.14 596.22h0M411.21 575.21h0M412.71 569.89h0M400.95 592.83h0M416.32 608.19h0M413.94 609.33h0M401.12 611.14h0M404.28 594.02h0M399.65 618.08h0M402.15 614.97h0M415.06 611.14h0M407.66 556.91h0M415.19 566.8h0M397.8 613.96h0M414.69 595.69h0M407.25 609.77h0M399.34 593.98h0M401.56 589.27h0M400.82 613.89h0M409.61 617.46h0M422.79 617.43h0M412.08 565.76h0M399.5 617.23h0M398.82 603.01h0M413.02 590.69h0M397.81 604.25h0M410.81 608.75h0M397.33 606.77h0M413.9 569.88h0M400.95 617.32h0M430.33 607.58h0M418.84 598.18h0M400.42 605.47h0M398.42 600.4h0M400.02 605.96h0M408.8 613.68h0M407.96 598.05h0M400.09 596.22h0M398.4 610.54h0M401.16 594.74h0M414.8 590.54h0M424.54 605.94h0M417.38 603.22h0M426.51 575.45h0M417.01 615.84h0M418.06 598.38h0M430.38 616.12h0M429.14 615.19h0M421.13 605.67h0M413.09 606.79h0M411.03 608.56h0M409.19 578.29h0M420.62 615.1h0M428.47 613.79h0M414.22 584.96h0M415.21 579.19h0M418.79 611.23h0M438.93 597.62h0M417.99 600.19h0M411.06 592.54h0M416.9 617.51h0M425.38 612.49h0M430.56 588.4h0M409.28 618.04h0M410.72 608.13h0M431.24 588.28h0M409.95 612.32h0M412.63 568.71h0M447.45 616.4h0M411.44 616.5h0M430.12 615.35h0M427.83 611.42h0M414.1 614.23h0M408.8 581.63h0M429.54 616.61h0M425.23 611.26h0M415.42 617.29h0M415.38 614.79h0M415.56 615.76h0M410.81 612.37h0M427.44 607.14h0M420.46 603.36h0M416.13 594.56h0M426.06 579.22h0M409.61 618.19h0M434.51 596.78h0M411.93 618.27h0M418.48 571.72h0M421.32 615.04h0M420.28 614.46h0M428.89 617.6h0M454.73 612.63h0M423.31 608.44h0M435.06 612.44h0M413.53 600.23h0M410.39 576.33h0M429.71 613.33h0M411.86 616.36h0M420.34 612.25h0M428.3 588.81h0M426.95 614.16h0M444.88 609.92h0M412.83 612.16h0M419.87 610.47h0M455.84 617.43h0M410.7 617.63h0M424.94 581.79h0M435.69 611.7h0M422.67 616.04h0M413.8 614.09h0M409.72 580.57h0M422.14 581.22h0M414.09 605.6h0M416.94 588.13h0M421.24 590.55h0M454.96 617.06h0M415.45 570.22h0M420.12 610.97h0M434.39 617.05h0M409.56 615.81h0M422.23 611.98h0M410.85 608.61h0M430.9 582.12h0M420.22 601.27h0M454.97 616.18h0M414.82 617.78h0M428.43 603.54h0M411.53 616.13h0M424.94 585.89h0M419.26 592.91h0M412.09 611.5h0M422.73 617.63h0M417.9 617.35h0M445.33 592.91h0M423.03 598.28h0M418.03 603.36h0M413.97 599.37h0M447.89 607.96h0M424.36 618.15h0M408.66 559.28h0M421.1 576.01h0M412.99 604.71h0M411.7 609.63h0M442.93 614.75h0M436.96 606.49h0M411.27 582.68h0M427.11 615.41h0M415.25 614.35h0M411.92 604.17h0M451.99 602.31h0M417.04 617.32h0M409.92 605.86h0M409.28 580.69h0M410.29 603.35h0M411.39 600.33h0M408.54 613.56h0M431.25 607.95h0M442.11 588.98h0M427.23 613.99h0M426.4 597.96h0M416.26 594.69h0M427.7 593.86h0M415.51 609.56h0M434.97 618.07h0M421.33 595.73h0M410.17 611.88h0M424.82 603.67h0M432.56 589.8h0M415.23 614.19h0M422.34 614.23h0M417.21 611.57h0M414.6 604.9h0M420.49 587.43h0M435.24 599.77h0M423.35 609.84h0M417.75 598.43h0M412.93 608.81h0M436.84 617.88h0M420.55 596.03h0M445.62 615.24h0M447.26 613.11h0M409.08 578.8h0M411.02 594.01h0M425.55 579.84h0M425.04 575.83h0M439.22 586.29h0M415.52 613.27h0M411.21 574.89h0M418.59 586.71h0M429.26 615.65h0M412.59 612.38h0M409.58 612.13h0M427.58 585.06h0M411.79 612.74h0M450.7 617.99h0M409.69 615.06h0M419.92 616.31h0M450.78 613.25h0M412.92 618.25h0M429.35 598.25h0M412.68 609.93h0M422.27 617.06h0M445.63 596.04h0M424.65 609.5h0M425.21 617.59h0M408.65 592.01h0M418.44 592.34h0M418.63 608.57h0M413.36 617.87h0M413.48 616.2h0M420.74 613.86h0M417.77 596.31h0M438.37 609.2h0M415.22 615.49h0M431.83 617.76h0M417.01 603.27h0M433.72 613.87h0M430.36 600.59h0M432.36 600.96h0M422.65 617.75h0M413.62 581.58h0M420.21 617.05h0M418.11 609.55h0M434.41 607.17h0M411.74 615.89h0M435.31 602.02h0M425.79 587.96h0M419.76 615.9h0M439.32 591.9h0M421.37 613.32h0M433.49 602.66h0M445.86 611.38h0M434.05 613.55h0M415.37 604.14h0M412.99 605.5h0M419.97 601.24h0M438.01 594.14h0M411.98 615.87h0M411.11 603.9h0M431.59 594.35h0M423.49 609.61h0M428.17 617.99h0M421.96 610.51h0M425.18 586.11h0M424.83 605.12h0M432.62 595.1h0M428.39 612.15h0M414.29 609.32h0M439.9 592.47h0M435.47 596.71h0M410.16 603.46h0M418.33 615.89h0M409.25 604.51h0M409.48 585.87h0M418.07 616.56h0M408.63 613.11h0M423.78 602.33h0M437.32 601.24h0M413.02 609.27h0M415.58 607.03h0M416.42 606.7h0M412.78 616.27h0M426.65 603.93h0M409.33 589.06h0M414.03 608.4h0M425.45 605.82h0M412.39 586.25h0M421.01 594.45h0M423.26 617.75h0M428.13 614.7h0M429.48 617.46h0M430.58 603.32h0M418.26 612.07h0M413.05 579.83h0M417.79 584.82h0M449.75 614.25h0M449.66 615.92h0M417.89 569.34h0M450.26 613.75h0M439.46 605.34h0M422.89 616.76h0M421.4 595.24h0M454.12 607.04h0M426.13 584.27h0M410.83 605.71h0M417.59 611.71h0M446.73 603.77h0M414.13 591.46h0M410.61 612.49h0M413.78 614.17h0M422.33 609.94h0M420.73 616.75h0M436.73 606.52h0M415.54 593.73h0M450.9 612.14h0M447.66 600.33h0M440.29 612.51h0M423.21 571.92h0M417.24 605.58h0M424.32 615.41h0M426.59 598.31h0M437.72 612.69h0M417.99 607.89h0M443.89 600.41h0M436 616.68h0M411.28 607.33h0M408.91 596.28h0M427.79 611.38h0M416.93 598.09h0M414.22 612.59h0M429.84 600.31h0M427.48 616.37h0M423.99 611.04h0M433.88 617.84h0M428.13 612.25h0M412.03 611.1h0M416.69 604.03h0M445 597.1h0M419.12 601.62h0M418.94 589.57h0M413.69 593.96h0M411.2 611.64h0M413.6 616.45h0M408.74 608.53h0M428.14 614.81h0M443.37 612.94h0M433.76 603.69h0M410.84 616.02h0M447.59 601.48h0M423.27 617.7h0M426.59 607.11h0M414.02 592.11h0M408.72 614.5h0M413.71 603.66h0M416.69 611.72h0M434.23 603.7h0M430.71 610.78h0M428.72 617.37h0M444.3 617.12h0M409.53 598.76h0M414.5 609.01h0M410.67 589.27h0M426.57 610.83h0M413.41 611.39h0M439.78 615.8h0M434.73 612.07h0M424.97 610.25h0M430.77 600.49h0M428.1 585.63h0M428.4 617.78h0M412.42 603.7h0M452.78 600.8h0M410.69 616.13h0M447.62 597.57h0M429.48 617.69h0M438.63 616.02h0M424.74 598.16h0M431.23 612.08h0M414 600.57h0M429.35 596.16h0M448.23 607.97h0M442.91 607.66h0M410.47 609.71h0M445.75 596.1h0M415.23 585.54h0M425.23 598.89h0M443.26 612.78h0M437.17 618.2h0M410.89 617.25h0M415.28 608.46h0M430.04 612.67h0M410.93 613.88h0M413.74 595.49h0M434.09 613.11h0M414.12 617.66h0M439.15 595.78h0M421.14 603.35h0M412.61 611.36h0M440.09 593.02h0M422.87 594.27h0M451.57 608.7h0M427.26 602.41h0M438.25 618.11h0M448.75 608.15h0M436.77 617.85h0M429.87 612.26h0M412.4 608h0M415.73 611.99h0M409.27 613.66h0M444.37 614.58h0M416.97 597.31h0M441.35 601.23h0M408.81 596.18h0M418.96 616.13h0M415.01 600.11h0M448.61 617.23h0M409.75 575.4h0M432.72 606.76h0M425.75 591.05h0M422.26 613.4h0M429.51 602.61h0M420.72 612.21h0M418.23 606.42h0M428.91 605.53h0M414.47 605.95h0M455.71 613.58h0M420.64 609.72h0M427.65 611.64h0M410.66 604.59h0M419.12 607.82h0M418.36 615.33h0M415.14 609.8h0M426.08 599.88h0M410.1 617.29h0M415.91 610.63h0M449.48 598.64h0M438.23 615.12h0M424.98 590.4h0M410.48 603.44h0M444.61 602.54h0M450.68 604.64h0M445.11 601.13h0M410.21 597.12h0M445.27 612.69h0M425.96 602.46h0M415.05 608.41h0M423.21 600.38h0M436.04 611.34h0M408.62 603.82h0M423.56 598.61h0M430.66 608.78h0M433.5 612.59h0M420.32 610.95h0M424.48 614.06h0M427.39 617.77h0M412.88 597.57h0M409.48 614.9h0M409.43 615.17h0M411.56 613.24h0M426.66 616.55h0M417.75 603.83h0M426.02 611.27h0M413.25 601.95h0M409.35 570.85h0M454.17 613.94h0M423.9 615.59h0M451.11 615.59h0M440.96 612.36h0M434.98 599.42h0M417.63 616.42h0M436.45 594.34h0M444.93 597.4h0M437.86 614.61h0M444.85 590.45h0M443.35 597.29h0M424.68 617.46h0M448.36 602.95h0M418.57 599.93h0M419.71 614.46h0M447.53 597.57h0M412.21 598.25h0M410.69 602.66h0M432.61 601.09h0M435.43 585.63h0M426.5 607.44h0M415.51 616.62h0M418.73 606.33h0M410.35 616.25h0M415.72 603.07h0M451.96 609.87h0M423.7 597.75h0M419.84 609.02h0M409.14 608.82h0M433.51 615.74h0M412.9 617.14h0M418.17 615.93h0M445 611.92h0M409.8 598.89h0M409.45 614.02h0M445.47 598.85h0M421.82 605.42h0M416.19 616.11h0M426.85 611.41h0M427.06 617.96h0M408.89 609.94h0M408.68 613.46h0M441.62 588.12h0M418.74 598.58h0M431.3 606.32h0M451.27 614.86h0M424.11 615.4h0M419.65 608.44h0M429.75 604.92h0M442.32 609.96h0M432.2 613.88h0M411.67 616.24h0M422.88 610.76h0M413.15 612.03h0M419.05 618.06h0M421.56 614.27h0M421.18 610.34h0M422.2 612.89h0M414.19 606.59h0M456.1 610.74h0M439.53 614.42h0M421.91 597.77h0M428.03 615.4h0M426.52 611.83h0M410.43 604.72h0M442.94 612.45h0M444.57 613.18h0M411.58 616.74h0M454.37 601.3h0M411.41 610.85h0M420.63 582.82h0M410.88 600.59h0M434.85 611.03h0M444.79 617.83h0M420.37 616.69h0M445.8 591.53h0M418.32 599.9h0M418.2 588.85h0M436.04 614.05h0M411.03 608.18h0M436.48 611.23h0M426.07 618.24h0M422.09 579.45h0M449.73 596.32h0M409.92 606.84h0M438.04 614.91h0M413.03 612.95h0M433.64 614.31h0M428.29 616.73h0M413.51 609.69h0M410.93 613.81h0M412.81 616.15h0M426.49 610.34h0M418.61 599.5h0M435.14 615.69h0M438.36 616.87h0M433.61 609.61h0M419.41 618.28h0M444.7 606.47h0M411.43 601.54h0M436.5 611.58h0M445.82 613.34h0M431.96 609.14h0M411.58 613.55h0M442.71 602.68h0M425.02 596.48h0M410.82 606.18h0M416.68 615.14h0M438.62 618.17h0M434.59 614.85h0M409.37 607.11h0M419.62 613.02h0M427.47 594.65h0M410.41 616.22h0M430.44 608.54h0M422.14 618.12h0M438.64 609.97h0M419.89 601.19h0M424.74 607.9h0M439.69 597.48h0M423.9 605.12h0M416.03 607.63h0M421.36 615.6h0M410.55 615.12h0M450.85 595.94h0M437.2 609.88h0M427.63 610.06h0M417.53 617.64h0M428.24 584.68h0M418.33 577h0M428.25 611.35h0M414.01 604.04h0M413.03 618.03h0M421.01 618.26h0M409.8 572.01h0M421.38 607.14h0M424.85 596.49h0M425.66 600.38h0M424.77 597.85h0M436.69 607.36h0M416.14 610.42h0M422.61 601.82h0M427.87 614.7h0M424.27 618.08h0M438.52 606.4h0M438.94 587.05h0M412.41 616.15h0M415.03 601.91h0M422.36 585.66h0M423.94 582.93h0M413.43 615.59h0M434.21 594.3h0M420.84 572.96h0M415.07 613.17h0M416.98 617.82h0M414.39 613.5h0M410.25 600.92h0M449.64 617.43h0M410.44 596.82h0M413.54 616.71h0M410.62 607.95h0M438.64 616.16h0M434.1 598.64h0M430.64 599.61h0M433.54 615.67h0M410.49 590.84h0M417.09 587.56h0M409.42 601h0M420.65 582.64h0M419.23 582.5h0M410.51 588.71h0M419.42 615.2h0M433.89 614.67h0M423.6 580.95h0M434.29 614.25h0M456.74 617.82h0M420.01 609.34h0M423.95 603.41h0M437.3 585.2h0M411.63 600.49h0M426.12 603.1h0M409.9 594.81h0M419.13 585.12h0M418.1 612.9h0M421.34 618.31h0M418.37 597.89h0M418.57 610.1h0M441.22 617.38h0M456.04 603.24h0M432.63 611.49h0M421.1 617.53h0M419.33 614.19h0M412.67 606.55h0M410.2 582.25h0M428.49 598.68h0M422.82 615.17h0M415.24 612.28h0M414.77 608.74h0M408.77 610.5h0M440.12 606.27h0M418.85 601.92h0M417.31 579.49h0M413.62 605.84h0M425.81 612.86h0M409.96 618.09h0M414.2 607.12h0M409.35 605.22h0M409.83 598.9h0M420.66 614.47h0M410.45 601.59h0M420.88 611.33h0M423.38 599.79h0M425.96 617.2h0M433.89 616.99h0M431.13 617.33h0M422.14 614.46h0M410.23 607h0M437.95 609.62h0M425.02 613.72h0M424.41 609.23h0M409.84 608.64h0M455.96 615.57h0M425.77 602.42h0M432.18 617.47h0M423.84 609.16h0M421.59 594.55h0M438.16 587.52h0M444.35 594.6h0M442.3 593.18h0M411.51 609.07h0M441.57 599.73h0M431.04 612.58h0M417.41 598.74h0M413.35 614.11h0M419.74 586.65h0M453.43 615.75h0M426.3 616.16h0M435.92 595.94h0M427.69 613.03h0M418.16 602.57h0M425.91 614.87h0M426.22 600.39h0M435.96 616.01h0M409.99 592.78h0M433.93 615.29h0M413.41 617.98h0M428.43 615.23h0M411.26 617.84h0M415.2 606.66h0M414.49 605.97h0M422.26 609.4h0M442.12 596.54h0M429 609.59h0M425.55 591.13h0M412.18 598.76h0M428.03 615.33h0M420.61 607.93h0M423.38 590.46h0M409 584.72h0M411.7 586.39h0M435.51 611.72h0M421.15 610.39h0M412.32 608.96h0M427.6 582.79h0M411.69 612.73h0M419.4 607.46h0M442.7 599.84h0M425.42 617.37h0M420.69 609.15h0M420.7 614.87h0M424.13 617.73h0M456.74 613.68h0M411.7 595.73h0M456.61 606.23h0M413.85 613.65h0M426.72 585.56h0M417.73 608.19h0M409.29 617.9h0M430.67 615.02h0M410.35 603.51h0M428.03 606.22h0M413.47 618.18h0M455.22 617.6h0M423.29 612.68h0M412.19 608.37h0M431.77 616.14h0M415.29 618.2h0M427.14 614.04h0M426.23 599.55h0M430.1 612.16h0M425.34 602.3h0M453.5 601.41h0M419.31 590.97h0M452.23 613.01h0M415.6 605.25h0M445.63 615.01h0M447.6 606.38h0M451.85 615.98h0M411.26 615.32h0M438.6 602.19h0M445.4 608.97h0M415.02 614.1h0M413.75 614.85h0M438.44 602.81h0M437.05 605.89h0M410.46 611.3h0M439.62 604.4h0M414.73 605.1h0M417.24 600.04h0M422.28 615.4h0M408.69 568.33h0M429.99 589.97h0M435.83 606.81h0M419.75 617.42h0M416.74 615.03h0M416.52 607.9h0M420.56 578.21h0M410.25 616.23h0M437.12 593.21h0M445.18 600.68h0M408.72 601.88h0M438.78 610.84h0M425.54 605.41h0M417.1 585.62h0M416.17 617.56h0M431.69 603.78h0M414.32 582.5h0M451.13 606.25h0M450.68 597.62h0M422.78 615.25h0M431.71 611.55h0M438.31 618.24h0M411.5 612.77h0M417.8 618.17h0M418.76 605.51h0M413.27 603.84h0M439.19 604.37h0M420.77 610.33h0M417.43 616.87h0M409.44 615.36h0M425.45 593.98h0M421.61 615.41h0M417.39 613.12h0M412.42 602.12h0M441.23 610.06h0M425.9 614.32h0M414.68 598.79h0M416.53 614.48h0M428.99 584.69h0M415.42 617.1h0M410.82 613.3h0M446.9 595.99h0M444.42 617.14h0M423.73 613.05h0M409.11 617.3h0M415.03 607.15h0M428.99 612.54h0M431.07 596.82h0M425.73 612.59h0M417.87 614.92h0M424.73 595.21h0M411.68 574.45h0M418.51 616.95h0M414.72 614.65h0M417.1 613.35h0M431.69 607.39h0M453.98 604.08h0M409.85 616.08h0M430.8 600.83h0M431.29 615.39h0M417.54 589.2h0M412.73 612.49h0M418.55 617.85h0M435.27 617.66h0M434.22 600.87h0M428.15 615.28h0M430.2 596.38h0M411 605.94h0M411.76 614.93h0M434.2 607.73h0M411.6 615.12h0M446.09 607.61h0M417.64 617.13h0M436.98 612.2h0M411.01 616.31h0M410.77 609h0M453.55 611.28h0M431.62 601.92h0M411.63 613.28h0M420.42 616.4h0M437.73 592h0M423.88 601.21h0M421.42 602.8h0M411.29 561.3h0M426.2 610.45h0M439.15 591.88h0M415.7 608.82h0M428.93 610.73h0M411.36 615.88h0M429 615.31h0M410.78 617.48h0M421.98 603.98h0M451.16 609.71h0M444.47 615.71h0M422.77 604.33h0M425.45 602.6h0M433.73 590.98h0M413.52 599h0M416.38 601.56h0M414.09 612.51h0M410.61 615.77h0M435.83 609.18h0M416.24 611.77h0M440.67 612.7h0M409.54 602.18h0M436.37 609.05h0M435.04 607.8h0M450.35 616.35h0M415.14 615.72h0M434.44 609.59h0M437.97 596.82h0M416.22 616.89h0M419.33 603.85h0M420.75 613.98h0M417.75 587.45h0M446.09 598.94h0M409.86 616.78h0M415.08 614.67h0M420.89 604.64h0M432.24 609h0M415.33 615.8h0M421.06 611.43h0M420.46 605.16h0M408.98 597.93h0M430.93 611.94h0M455.8 603.39h0M423.76 603.4h0M412.47 612.42h0M415.08 591.9h0M420.47 586.5h0M419.95 595.32h0M412.38 590.38h0M425.15 616.35h0M430.74 601.88h0M414.85 605.69h0M437.53 610.35h0M448.51 615.8h0M414.68 611.96h0M413.83 608.73h0M440 605.36h0M439.86 618.04h0M455.38 611.93h0M447.17 604.98h0M422.64 613.76h0M425.91 610.94h0M448.13 612.46h0M454.46 615.57h0M416.67 581.99h0M410.18 563.78h0M413.3 605.86h0M422.8 593.13h0M425.44 611.57h0M430.34 612.38h0M414.76 607.81h0M417.49 603.81h0M426.88 590.82h0M424.15 615.44h0M413.52 595.63h0M435.11 614.78h0M408.54 597.71h0M425.96 597.48h0M437.27 597.39h0M421.79 617.22h0M415.69 607.64h0M446.77 612.87h0M416.38 612.99h0M409.48 577.12h0M414.54 599.1h0M412.33 606.32h0M422.37 615.22h0M446.1 604.36h0M411.08 617.86h0M435.89 604.61h0M424.42 611.51h0M418.01 616.55h0M450.78 616.7h0M436.15 615.79h0M444.74 596.84h0M410.53 605.03h0M411.06 603.73h0M408.59 606.64h0M413.76 608.98h0M436.32 608.26h0M453.1 600.07h0M426.55 582.98h0M432.33 611.39h0M425.2 574.18h0M435.52 594.53h0M423.34 615.56h0M437.21 617.76h0M423.66 601.44h0M417.21 613.55h0M413.63 614.07h0M448.05 604.27h0M433.02 609.76h0M408.71 603.16h0M436.19 612.98h0M430.12 608.94h0M413.73 614.88h0M441.28 610.72h0M431.43 615.78h0M428.91 617.01h0M420.27 592.64h0M453.94 612.17h0M417.57 597.01h0M411.57 600.56h0M427.72 616.08h0M425.23 617.41h0M417.72 610.45h0M415.08 617.15h0M419.72 611.58h0M416.95 595.97h0M409.49 615.41h0M417.06 593.64h0M414.61 611.21h0M431.27 613.8h0M434.31 610.4h0M414.86 613.09h0M409.58 609.55h0M424.43 615.13h0M412.73 604.61h0M414.4 578.02h0M443.07 608.16h0M436.6 610.04h0M439.43 607.3h0M409.21 598.41h0M422.85 615.96h0M443.73 606.19h0M416.38 611.72h0M408.92 603.62h0M426.99 605.53h0M418.81 610.72h0M455.93 615.32h0M453.67 611.19h0M432.1 604.34h0M420.32 615.92h0M448.07 606.31h0M420.8 617.29h0M438.48 612.12h0M417.52 600.44h0M410.55 592.98h0M417.89 592.89h0M421.33 596.78h0M410.8 617.77h0M410.15 605.68h0M415.33 605.15h0M419.42 598.77h0M453.52 615.67h0M431.39 607.57h0M423.55 616.04h0M410.15 599.94h0M413.55 595.13h0M415.66 588.48h0M435.82 613.75h0M418.99 608.61h0M443.47 591.77h0M419.4 615.67h0M425.76 609.74h0M445.25 598.95h0M410.98 591.05h0M413.57 586.2h0M430.52 615.67h0M438.49 616.67h0M411.06 601.18h0M449.64 605.68h0M431.1 610.11h0M410.91 617.9h0M424.01 592.72h0M450.66 597.41h0M410.22 611.04h0M433.07 611.51h0M437.32 583.83h0M413.55 604.86h0M451.13 614h0M413.4 601.83h0M413.08 603.31h0M444.49 613.79h0M411.27 617.84h0M409.49 594.89h0M412.95 614.62h0M409.93 616.92h0M413.25 598.75h0M412.07 570.02h0M412.89 615.92h0M453.28 618.27h0M432.49 593.54h0M437.94 618.48h0M442.05 617.7h0M445.58 618.09h0M449.7 616.31h0M453.22 615.43h0M456.16 614.93h0M459.69 613.77h0M462.63 614.07h0M465.57 612.5h0M467.92 612.42h0M471.45 611.01h0M474.39 611.19h0M476.74 610.83h0M481.45 609.3h0M484.98 608.07h0M488.5 608.25h0M491.44 607.15h0M494.38 606.24h0M496.74 605.45h0" stroke="#566a6a" stroke-width="2.1" stroke-linecap="round" fill="none"/>
<circle cx="325.75" cy="540" r="1.35" fill="#17421f" />
<text x="323.55" y="541.4" font-size="4" text-anchor="end" fill="#4f8f4f">Gad1</text>
<circle cx="332" cy="542" r="1.35" fill="#17421f" />
<text x="329.8" y="543.4" font-size="4" text-anchor="end" fill="#4f8f4f">Trp3</text>
<circle cx="336.25" cy="550" r="1.35" fill="#17421f" />
<text x="334.05" y="551.4" font-size="4" text-anchor="end" fill="#4f8f4f">Ahcc3a</text>
<circle cx="332.5" cy="563.25" r="1.35" fill="#17421f" />
<text x="330.3" y="564.65" font-size="4" text-anchor="end" fill="#4f8f4f">Mapp2</text>
<circle cx="333.75" cy="569" r="1.35" fill="#17421f" />
<text x="331.55" y="570.4" font-size="4" text-anchor="end" fill="#4f8f4f">Tsx</text>
<circle cx="356.25" cy="581.25" r="1.35" fill="#17421f" />
<text x="354.05" y="582.65" font-size="4" text-anchor="end" fill="#4f8f4f">ImrTa</text>
<circle cx="357" cy="586.75" r="1.35" fill="#17421f" />
<text x="354.8" y="588.15" font-size="4" text-anchor="end" fill="#4f8f4f">Mur2</text>
<circle cx="342.5" cy="534.5" r="1.35" fill="#17421f" />
<text x="341.66" y="531.94" font-size="4" text-anchor="end" fill="#4f8f4f" transform="rotate(47 341.66 531.94)">RP23-398F7.13</text>
<circle cx="350.5" cy="534" r="1.35" fill="#17421f" />
<text x="349.76" y="531.36" font-size="4" text-anchor="end" fill="#4f8f4f" transform="rotate(50 349.76 531.36)">Bmf2b</text>
<circle cx="360.75" cy="532.5" r="1.35" fill="#17421f" />
<text x="360.01" y="529.86" font-size="4" text-anchor="end" fill="#4f8f4f" transform="rotate(50 360.01 529.86)">Kha2413</text>
<circle cx="371.25" cy="526.25" r="1.35" fill="#17421f" />
<text x="370.78" y="523.41" font-size="4" text-anchor="end" fill="#4f8f4f" transform="rotate(58 370.78 523.41)">Fgb1</text>
<circle cx="371.25" cy="533.75" r="1.35" fill="#17421f" />
<text x="370.78" y="530.91" font-size="4" text-anchor="end" fill="#4f8f4f" transform="rotate(58 370.78 530.91)">Gb3</text>
<circle cx="415" cy="545" r="1.35" fill="#9c0c36" />
<text x="417.28" y="543.63" font-size="4" text-anchor="start" fill="#c2406e" transform="rotate(-55 417.28 543.63)">Ccnd</text>
<circle cx="418.75" cy="548.25" r="1.35" fill="#9c0c36" />
<text x="421.13" y="546.96" font-size="4" text-anchor="start" fill="#c2406e" transform="rotate(-52 421.13 546.96)">Smad3</text>
<circle cx="426.75" cy="549.25" r="1.35" fill="#9c0c36" />
<text x="429.03" y="547.88" font-size="4" text-anchor="start" fill="#c2406e" transform="rotate(-55 429.03 547.88)">Jak</text>
<circle cx="430.75" cy="558" r="1.35" fill="#9c0c36" />
<text x="433.03" y="556.63" font-size="4" text-anchor="start" fill="#c2406e" transform="rotate(-55 433.03 556.63)">Erk</text>
<circle cx="438.75" cy="557" r="1.35" fill="#9c0c36" />
<text x="441.19" y="555.76" font-size="4" text-anchor="start" fill="#c2406e" transform="rotate(-50 441.19 555.76)">Mef2f00</text>
<circle cx="444.5" cy="563" r="1.35" fill="#9c0c36" />
<text x="446.9" y="564.4" font-size="4" text-anchor="start" fill="#c2406e">Foxc1</text>
<circle cx="455.5" cy="567.5" r="1.35" fill="#9c0c36" />
<text x="457.9" y="568.9" font-size="4" text-anchor="start" fill="#c2406e">Fap</text>
<circle cx="453.75" cy="571.75" r="1.35" fill="#9c0c36" />
<text x="456.15" y="573.15" font-size="4" text-anchor="start" fill="#c2406e">Fosb</text>
<circle cx="445" cy="582.25" r="1.35" fill="#9c0c36" />
<text x="447.4" y="583.65" font-size="4" text-anchor="start" fill="#c2406e">Tgfbr3</text>
<circle cx="453.75" cy="587.5" r="1.35" fill="#9c0c36" />
<text x="456.15" y="588.9" font-size="4" text-anchor="start" fill="#c2406e">Capers</text>
<circle cx="452.5" cy="591.5" r="1.35" fill="#9c0c36" />
<text x="454.9" y="592.9" font-size="4" text-anchor="start" fill="#c2406e">n-R5s143</text>
<circle cx="453" cy="599.25" r="1.35" fill="#9c0c36" />
<text x="455.4" y="600.65" font-size="4" text-anchor="start" fill="#c2406e">Slc28g34</text>
<circle cx="454.5" cy="603" r="1.35" fill="#9c0c36" />
<text x="456.9" y="604.4" font-size="4" text-anchor="start" fill="#c2406e">Ptgs2</text>
<rect x="303.7" y="499.8" width="197.1" height="136.1" fill="none" stroke="#111" stroke-width="1.2" />
<line x1="300.7" y1="629.6" x2="303.7" y2="629.6" stroke="#111" stroke-width="1" />
<text font-size="8.5" text-anchor="end" fill="#222" transform="translate(298.7 632.65) scale(0.9 1)" stroke="#222" stroke-width="0.22">0</text>
<line x1="300.7" y1="587.15" x2="303.7" y2="587.15" stroke="#111" stroke-width="1" />
<text font-size="8.5" text-anchor="end" fill="#222" transform="translate(298.7 590.2) scale(0.9 1)" stroke="#222" stroke-width="0.22">5</text>
<line x1="300.7" y1="544.7" x2="303.7" y2="544.7" stroke="#111" stroke-width="1" />
<text font-size="8.5" text-anchor="end" fill="#222" transform="translate(298.7 547.75) scale(0.9 1)" stroke="#222" stroke-width="0.22">10</text>
<line x1="300.7" y1="502.25" x2="303.7" y2="502.25" stroke="#111" stroke-width="1" />
<text font-size="8.5" text-anchor="end" fill="#222" transform="translate(298.7 505.3) scale(0.9 1)" stroke="#222" stroke-width="0.22">15</text>
<line x1="307.4" y1="635.9" x2="307.4" y2="638.9" stroke="#111" stroke-width="1" />
<text font-size="8.5" text-anchor="middle" fill="#222" transform="translate(307.4 647.3) scale(0.9 1)" stroke="#222" stroke-width="0.22">-15</text>
<line x1="336.8" y1="635.9" x2="336.8" y2="638.9" stroke="#111" stroke-width="1" />
<text font-size="8.5" text-anchor="middle" fill="#222" transform="translate(336.8 647.3) scale(0.9 1)" stroke="#222" stroke-width="0.22">-10</text>
<line x1="366.2" y1="635.9" x2="366.2" y2="638.9" stroke="#111" stroke-width="1" />
<text font-size="8.5" text-anchor="middle" fill="#222" transform="translate(366.2 647.3) scale(0.9 1)" stroke="#222" stroke-width="0.22">-5</text>
<line x1="395.6" y1="635.9" x2="395.6" y2="638.9" stroke="#111" stroke-width="1" />
<text font-size="8.5" text-anchor="middle" fill="#222" transform="translate(395.6 647.3) scale(0.9 1)" stroke="#222" stroke-width="0.22">0</text>
<line x1="425" y1="635.9" x2="425" y2="638.9" stroke="#111" stroke-width="1" />
<text font-size="8.5" text-anchor="middle" fill="#222" transform="translate(425 647.3) scale(0.9 1)" stroke="#222" stroke-width="0.22">5</text>
<line x1="454.4" y1="635.9" x2="454.4" y2="638.9" stroke="#111" stroke-width="1" />
<text font-size="8.5" text-anchor="middle" fill="#222" transform="translate(454.4 647.3) scale(0.9 1)" stroke="#222" stroke-width="0.22">10</text>
<line x1="483.8" y1="635.9" x2="483.8" y2="638.9" stroke="#111" stroke-width="1" />
<text font-size="8.5" text-anchor="middle" fill="#222" transform="translate(483.8 647.3) scale(0.9 1)" stroke="#222" stroke-width="0.22">15</text>
<text font-size="10" text-anchor="middle" fill="#333" transform="translate(401.8 659.9) scale(0.74 1)" stroke="#333" stroke-width="0.12">logFC BM ALL vs control model , mouse</text>
<text font-size="10" text-anchor="middle" fill="#333" transform="translate(284.2 566.2) rotate(-90) scale(0.78 1)" stroke="#333" stroke-width="0.12">Score = -log10(pvalue)</text>
<text x="275.5" y="476" font-size="12.5" text-anchor="start" fill="#000" font-weight="bold">H</text>
</svg>
<div id="frame"></div>
</body></html>
